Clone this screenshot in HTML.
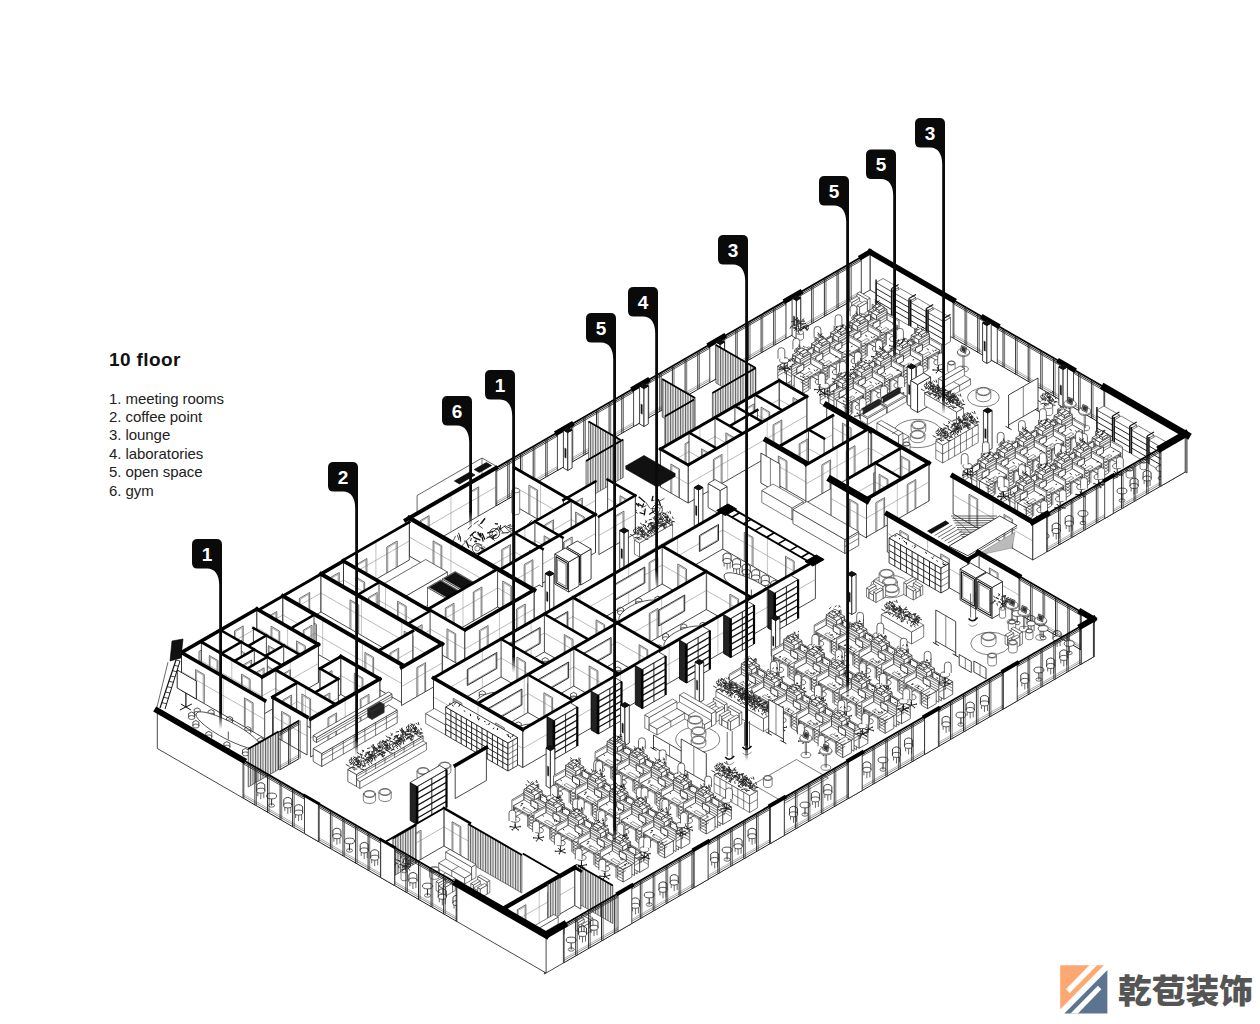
<!DOCTYPE html>
<html><head><meta charset="utf-8"><title>10 floor</title>
<style>
html,body{margin:0;padding:0;background:#fff;}
body{width:1260px;height:1024px;overflow:hidden;position:relative;font-family:"Liberation Sans","Noto Sans CJK SC",sans-serif;}
svg{position:absolute;left:0;top:0;}
.f{stroke:#2a2a2a;stroke-width:.6;fill:#fff}
.ttl{position:absolute;left:109px;top:349px;font-size:19px;font-weight:bold;color:#111;letter-spacing:0.4px;line-height:22px;margin:0;}
.lst{position:absolute;left:109px;top:389.5px;margin:0;padding:0;list-style:none;font-size:15px;line-height:18.4px;color:#222;letter-spacing:-0.06px;}
.lst li{margin:0;padding:0;white-space:nowrap;}
</style></head><body>
<svg width="1260" height="1024" viewBox="0 0 1260 1024">
<defs><g id="dq00"><path d="M0,0L12.1,-7L12.1,-26L0,-19Z" stroke-width="0.7"/><path d="M0.9,-18L11.3,-24M0.9,-4.5L11.3,-10.5M0.9,-8.5L11.3,-14.5M0.9,-12.5L11.3,-18.5" fill="none"/><path d="M0,0L22.5,13L22.5,-8L0,-21Z" stroke-width="0.7"/><path d="M0,-19.5L22.5,-6.5M0,-17L22.5,-4M0,-14.5L22.5,-1.5" fill="none"/><path d="M0.9,-12.5L22.9,0.2L33.8,-6L11.7,-18.8Z" stroke-width="0.7"/><path d="M11.7,-17.6L33.8,-4.8" fill="none"/><path d="M11.7,-16.6L33.8,-3.8" stroke-width="0.4" fill="none"/><path d="M19.1,-4.5L25.1,-1L25.1,11.5L19.1,8Z" stroke-width="0.7"/><path d="M33.8,-6L25.1,-1L25.1,11.5L33.8,6.5Z" stroke-width="0.7"/><path d="M27.7,-9.5L33.8,-6L25.1,-1L19.1,-4.5Z" stroke-width="0.7"/><path d="M27.7,0L33.8,3.5M19.1,5L27.7,0M27.7,-3L33.8,0.5M19.1,2L27.7,-3M27.7,-6L33.8,-2.5M19.1,-1L27.7,-6" fill="none"/><path d="M12.1,-6L12.1,-18" stroke-width="0.8" fill="none"/><path d="M13.2,-5.4L13.2,-17.4M26.4,2.2L26.4,-9.8" fill="none"/><path d="M14.7,-12.3L21.6,-8.3L24.2,-9.8L17.3,-13.8Z" stroke-width="0.5"/><path d="M0.4,-22.8L10.8,-16.8L10.8,-12.2L0.4,-18.2Z" stroke-width="0.7"/><path d="M15.6,-19.5L10.8,-16.8L10.8,-12.2L15.6,-15Z" stroke-width="0.7"/><path d="M5.2,-25.5L15.6,-19.5L10.8,-16.8L0.4,-22.8Z" stroke-width="0.7"/><path d="M5.2,-23.2L15.6,-17.2" fill="none"/><path d="M3,-24.8L8.2,-21.8L8.2,-19.2L3,-22.2Z" stroke-width="0.7"/><path d="M11.3,-23.5L8.2,-21.8L8.2,-19.2L11.3,-21Z" stroke-width="0.7"/><path d="M6.1,-26.5L11.3,-23.5L8.2,-21.8L3,-24.8Z" stroke-width="0.7"/><path d="M13.9,-10L20.8,-6L20.8,-12L13.9,-16Z" stroke="#111" stroke-width="0.8"/><path d="M17.3,-6.5L17.3,-8" stroke-width="0.9" fill="none"/><path d="M13.9,-13.8L13.2,-14M18.4,-7.8L15.9,-7.3M12.4,-12.5L14.9,-13.1M24.9,-7L25.6,-8.5M23.4,-10.6L23.5,-10.3" stroke="#111" stroke-width="0.9" fill="none"/><path d="M9.5,-28.6L10.8,-29.6M5.8,-28.8L7.6,-30.2M10,-24.2L11.1,-23.9M6.7,-24.6L6.5,-24.3M11.6,-28.5L9.8,-30.7" stroke="#111" stroke-width="0.8" fill="none"/><path d="M28.5,-2.9L32.4,-0.8M28.5,-2.9L26.2,-0.1M28.5,-2.9L23.1,-3.3M28.5,-2.9L27.4,-5.9M28.5,-2.9L33.2,-4.4" stroke="#111" stroke-width="0.9" fill="none"/><path d="M32.1,-0.9L32.7,-0.6M26.3,-0.2L26,0.1M23.5,-3.2L22.7,-3.3M27.5,-5.7L27.4,-6.1M32.8,-4.3L33.5,-4.5" stroke="#111" stroke-width="1.6" fill="none"/><path d="M28.5,-2.9L28.5,-9.9" stroke="#111" stroke-width="0.9" fill="none"/><ellipse cx="28.5" cy="-10.9" rx="4.6" ry="2.7" stroke-width="0.7"/><path d="M27.8,-12.5v-8q0,-3 3.4,-3q3.4,0 3.4,3v8" stroke-width=".7"/></g><g id="dq11"><path d="M0,0L-12.1,7L-12.1,-12L0,-19Z" stroke-width="0.7"/><path d="M-0.9,-17L-11.3,-11M-0.9,-3.5L-11.3,2.5M-0.9,-7.5L-11.3,-1.5M-0.9,-11.5L-11.3,-5.5" fill="none"/><path d="M0,0L22.5,13L22.5,-8L0,-21Z" stroke-width="0.7"/><path d="M0,-19.5L22.5,-6.5M0,-17L22.5,-4M0,-14.5L22.5,-1.5" fill="none"/><path d="M0,-12L22.1,0.8L11.3,7L-10.8,-5.8Z" stroke-width="0.7"/><path d="M-10.8,-4.6L11.3,8.2" fill="none"/><path d="M-10.8,-3.6L11.3,9.2" stroke-width="0.4" fill="none"/><path d="M5.2,3.5L11.3,7L11.3,19.5L5.2,16Z" stroke-width="0.7"/><path d="M19.9,2L11.3,7L11.3,19.5L19.9,14.5Z" stroke-width="0.7"/><path d="M13.9,-1.5L19.9,2L11.3,7L5.2,3.5Z" stroke-width="0.7"/><path d="M5.2,13L11.3,16.5M13.9,8L5.2,13M5.2,10L11.3,13.5M13.9,5L5.2,10M5.2,7L11.3,10.5M13.9,2L5.2,7" fill="none"/><path d="M-10.4,7L-10.4,-5" stroke-width="0.8" fill="none"/><path d="M-9.4,7.6L-9.4,-4.4M3.9,15.2L3.9,3.2" fill="none"/><path d="M0.9,-4.3L7.8,-0.3L5.2,1.2L-1.7,-2.8Z" stroke-width="0.5"/><path d="M0,-22.5L10.4,-16.5L10.4,-12L0,-18Z" stroke-width="0.7"/><path d="M15.2,-19.2L10.4,-16.5L10.4,-12L15.2,-14.8Z" stroke-width="0.7"/><path d="M4.8,-25.2L15.2,-19.2L10.4,-16.5L0,-22.5Z" stroke-width="0.7"/><path d="M0,-20.2L10.4,-14.2" fill="none"/><path d="M2.6,-24.5L7.8,-21.5L7.8,-19L2.6,-22Z" stroke-width="0.7"/><path d="M10.8,-23.2L7.8,-21.5L7.8,-19L10.8,-20.8Z" stroke-width="0.7"/><path d="M5.6,-26.2L10.8,-23.2L7.8,-21.5L2.6,-24.5Z" stroke-width="0.7"/><path d="M6.9,-6L13.9,-2L13.9,-8L6.9,-12Z" stroke="#111" stroke-width="0.8"/><path d="M10.4,-2.5L10.4,-4" stroke-width="0.9" fill="none"/><path d="M5.7,-1.7L6.1,-3.1M7.9,2.3L8.7,0.8M5.3,-2.6L4.1,-1.8M16.1,1.6L17.9,1.4M3,-4.3L3.8,-4.9" stroke="#111" stroke-width="0.9" fill="none"/><path d="M9.7,-25.4L7.8,-25.7M12.6,-23.7L13.2,-26.5M2.8,-28.3L5,-30.2M6.5,-24.1L5.5,-25.1M7.2,-28.6L7.6,-28.7" stroke="#111" stroke-width="0.8" fill="none"/><path d="M-7.2,14.5L-2.5,16M-7.2,14.5L-8.2,17.5M-7.2,14.5L-12.6,14.9M-7.2,14.5L-9.6,11.7M-7.2,14.5L-3.3,12.4" stroke="#111" stroke-width="0.9" fill="none"/><path d="M-2.8,15.9L-2.1,16.1M-8.1,17.4L-8.3,17.7M-12.2,14.9L-13,14.9M-9.4,11.9L-9.7,11.5M-3.6,12.5L-3,12.2" stroke="#111" stroke-width="1.6" fill="none"/><path d="M-7.2,14.5L-7.2,7.5" stroke="#111" stroke-width="0.9" fill="none"/><ellipse cx="-7.2" cy="6.5" rx="4.6" ry="2.7" stroke-width="0.7"/><path d="M-13.4,8.1v-8q0,-3 3.4,-3q3.4,0 3.4,3v8" stroke-width=".7"/></g><g id="dq02"><path d="M0,0L12.1,-7L12.1,-26L0,-19Z" stroke-width="0.7"/><path d="M0.9,-18L11.3,-24M0.9,-4.5L11.3,-10.5M0.9,-8.5L11.3,-14.5M0.9,-12.5L11.3,-18.5" fill="none"/><path d="M0,0L22.5,13L22.5,-8L0,-21Z" stroke-width="0.7"/><path d="M0,-19.5L22.5,-6.5M0,-17L22.5,-4M0,-14.5L22.5,-1.5" fill="none"/><path d="M0.9,-12.5L22.9,0.2L33.8,-6L11.7,-18.8Z" stroke-width="0.7"/><path d="M11.7,-17.6L33.8,-4.8" fill="none"/><path d="M11.7,-16.6L33.8,-3.8" stroke-width="0.4" fill="none"/><path d="M19.1,-4.5L25.1,-1L25.1,11.5L19.1,8Z" stroke-width="0.7"/><path d="M33.8,-6L25.1,-1L25.1,11.5L33.8,6.5Z" stroke-width="0.7"/><path d="M27.7,-9.5L33.8,-6L25.1,-1L19.1,-4.5Z" stroke-width="0.7"/><path d="M27.7,0L33.8,3.5M19.1,5L27.7,0M27.7,-3L33.8,0.5M19.1,2L27.7,-3M27.7,-6L33.8,-2.5M19.1,-1L27.7,-6" fill="none"/><path d="M12.1,-6L12.1,-18" stroke-width="0.8" fill="none"/><path d="M13.2,-5.4L13.2,-17.4M26.4,2.2L26.4,-9.8" fill="none"/><path d="M14.7,-12.3L21.6,-8.3L24.2,-9.8L17.3,-13.8Z" stroke-width="0.5"/><path d="M0.4,-22.8L10.8,-16.8L10.8,-12.2L0.4,-18.2Z" stroke-width="0.7"/><path d="M15.6,-19.5L10.8,-16.8L10.8,-12.2L15.6,-15Z" stroke-width="0.7"/><path d="M5.2,-25.5L15.6,-19.5L10.8,-16.8L0.4,-22.8Z" stroke-width="0.7"/><path d="M5.2,-23.2L15.6,-17.2" fill="none"/><path d="M3,-24.8L8.2,-21.8L8.2,-19.2L3,-22.2Z" stroke-width="0.7"/><path d="M11.3,-23.5L8.2,-21.8L8.2,-19.2L11.3,-21Z" stroke-width="0.7"/><path d="M6.1,-26.5L11.3,-23.5L8.2,-21.8L3,-24.8Z" stroke-width="0.7"/><path d="M13.9,-10L20.8,-6L20.8,-12L13.9,-16Z" stroke="#111" stroke-width="0.8"/><path d="M17.3,-6.5L17.3,-8" stroke-width="0.9" fill="none"/><path d="M20.9,-11.6L23.2,-12.7M24.9,-8.5L25.7,-10.2M8.9,-15.5L10.1,-16.8M17.5,-10.1L19.3,-9.3M19.8,-13.6L17.6,-13.1" stroke="#111" stroke-width="0.9" fill="none"/><path d="M11.5,-28.2L12.6,-29.2M12.3,-27.8L12.5,-27.8M9.2,-27.3L7.1,-27M7.5,-23.5L5.7,-23.7M10.9,-23.9L8.5,-25.6" stroke="#111" stroke-width="0.8" fill="none"/><path d="M26.1,-5.2L31,-3.9M26.1,-5.2L25.5,-2.1M26.1,-5.2L20.8,-4.6M26.1,-5.2L23.5,-7.9M26.1,-5.2L29.8,-7.5" stroke="#111" stroke-width="0.9" fill="none"/><path d="M30.7,-4L31.4,-3.8M25.6,-2.3L25.5,-1.9M21.2,-4.6L20.4,-4.5M23.6,-7.7L23.3,-8M29.5,-7.3L30,-7.6" stroke="#111" stroke-width="1.6" fill="none"/><path d="M26.1,-5.2L26.1,-12.2" stroke="#111" stroke-width="0.9" fill="none"/><ellipse cx="26.1" cy="-13.2" rx="4.6" ry="2.7" stroke-width="0.7"/><path d="M25.5,-14.8v-8q0,-3 3.4,-3q3.4,0 3.4,3v8" stroke-width=".7"/></g><g id="dq13"><path d="M0,0L-12.1,7L-12.1,-12L0,-19Z" stroke-width="0.7"/><path d="M-0.9,-17L-11.3,-11M-0.9,-3.5L-11.3,2.5M-0.9,-7.5L-11.3,-1.5M-0.9,-11.5L-11.3,-5.5" fill="none"/><path d="M0,0L22.5,13L22.5,-8L0,-21Z" stroke-width="0.7"/><path d="M0,-19.5L22.5,-6.5M0,-17L22.5,-4M0,-14.5L22.5,-1.5" fill="none"/><path d="M0,-12L22.1,0.8L11.3,7L-10.8,-5.8Z" stroke-width="0.7"/><path d="M-10.8,-4.6L11.3,8.2" fill="none"/><path d="M-10.8,-3.6L11.3,9.2" stroke-width="0.4" fill="none"/><path d="M5.2,3.5L11.3,7L11.3,19.5L5.2,16Z" stroke-width="0.7"/><path d="M19.9,2L11.3,7L11.3,19.5L19.9,14.5Z" stroke-width="0.7"/><path d="M13.9,-1.5L19.9,2L11.3,7L5.2,3.5Z" stroke-width="0.7"/><path d="M5.2,13L11.3,16.5M13.9,8L5.2,13M5.2,10L11.3,13.5M13.9,5L5.2,10M5.2,7L11.3,10.5M13.9,2L5.2,7" fill="none"/><path d="M-10.4,7L-10.4,-5" stroke-width="0.8" fill="none"/><path d="M-9.4,7.6L-9.4,-4.4M3.9,15.2L3.9,3.2" fill="none"/><path d="M0.9,-4.3L7.8,-0.3L5.2,1.2L-1.7,-2.8Z" stroke-width="0.5"/><path d="M0,-22.5L10.4,-16.5L10.4,-12L0,-18Z" stroke-width="0.7"/><path d="M15.2,-19.2L10.4,-16.5L10.4,-12L15.2,-14.8Z" stroke-width="0.7"/><path d="M4.8,-25.2L15.2,-19.2L10.4,-16.5L0,-22.5Z" stroke-width="0.7"/><path d="M0,-20.2L10.4,-14.2" fill="none"/><path d="M2.6,-24.5L7.8,-21.5L7.8,-19L2.6,-22Z" stroke-width="0.7"/><path d="M10.8,-23.2L7.8,-21.5L7.8,-19L10.8,-20.8Z" stroke-width="0.7"/><path d="M5.6,-26.2L10.8,-23.2L7.8,-21.5L2.6,-24.5Z" stroke-width="0.7"/><path d="M6.9,-6L13.9,-2L13.9,-8L6.9,-12Z" stroke="#111" stroke-width="0.8"/><path d="M10.4,-2.5L10.4,-4" stroke-width="0.9" fill="none"/><path d="M5.9,1.3L4.3,2.3M-3,-5L-5,-4.7M-4,-5.4L-2.9,-5.1M0.6,-1.6L3,-3.3M1.4,-0.5L2.6,-1.1" stroke="#111" stroke-width="0.9" fill="none"/><path d="M5.8,-23.8L3.8,-24.1M11.2,-28.1L10.4,-30.1M8.2,-27L10.2,-26.7M6,-24.1L3.8,-26.7M9.4,-24.6L11,-24.1" stroke="#111" stroke-width="0.8" fill="none"/><path d="M-4.9,16L-1.5,18.4M-4.9,16L-7.8,18.6M-4.9,16L-10.1,15.2M-4.9,16L-5.2,12.9M-4.9,16L0.1,14.9" stroke="#111" stroke-width="0.9" fill="none"/><path d="M-1.8,18.2L-1.3,18.5M-7.6,18.4L-8.1,18.7M-9.7,15.2L-10.5,15.1M-5.2,13.1L-5.2,12.7M-0.2,14.9L0.5,14.8" stroke="#111" stroke-width="1.6" fill="none"/><path d="M-4.9,16L-4.9,9" stroke="#111" stroke-width="0.9" fill="none"/><ellipse cx="-4.9" cy="8" rx="4.6" ry="2.7" stroke-width="0.7"/><path d="M-11.1,9.6v-8q0,-3 3.4,-3q3.4,0 3.4,3v8" stroke-width=".7"/></g><g id="dq04"><path d="M0,0L12.1,-7L12.1,-26L0,-19Z" stroke-width="0.7"/><path d="M0.9,-18L11.3,-24M0.9,-4.5L11.3,-10.5M0.9,-8.5L11.3,-14.5M0.9,-12.5L11.3,-18.5" fill="none"/><path d="M0,0L22.5,13L22.5,-8L0,-21Z" stroke-width="0.7"/><path d="M0,-19.5L22.5,-6.5M0,-17L22.5,-4M0,-14.5L22.5,-1.5" fill="none"/><path d="M0.9,-12.5L22.9,0.2L33.8,-6L11.7,-18.8Z" stroke-width="0.7"/><path d="M11.7,-17.6L33.8,-4.8" fill="none"/><path d="M11.7,-16.6L33.8,-3.8" stroke-width="0.4" fill="none"/><path d="M19.1,-4.5L25.1,-1L25.1,11.5L19.1,8Z" stroke-width="0.7"/><path d="M33.8,-6L25.1,-1L25.1,11.5L33.8,6.5Z" stroke-width="0.7"/><path d="M27.7,-9.5L33.8,-6L25.1,-1L19.1,-4.5Z" stroke-width="0.7"/><path d="M27.7,0L33.8,3.5M19.1,5L27.7,0M27.7,-3L33.8,0.5M19.1,2L27.7,-3M27.7,-6L33.8,-2.5M19.1,-1L27.7,-6" fill="none"/><path d="M12.1,-6L12.1,-18" stroke-width="0.8" fill="none"/><path d="M13.2,-5.4L13.2,-17.4M26.4,2.2L26.4,-9.8" fill="none"/><path d="M14.7,-12.3L21.6,-8.3L24.2,-9.8L17.3,-13.8Z" stroke-width="0.5"/><path d="M0.4,-22.8L10.8,-16.8L10.8,-12.2L0.4,-18.2Z" stroke-width="0.7"/><path d="M15.6,-19.5L10.8,-16.8L10.8,-12.2L15.6,-15Z" stroke-width="0.7"/><path d="M5.2,-25.5L15.6,-19.5L10.8,-16.8L0.4,-22.8Z" stroke-width="0.7"/><path d="M5.2,-23.2L15.6,-17.2" fill="none"/><path d="M3,-24.8L8.2,-21.8L8.2,-19.2L3,-22.2Z" stroke-width="0.7"/><path d="M11.3,-23.5L8.2,-21.8L8.2,-19.2L11.3,-21Z" stroke-width="0.7"/><path d="M6.1,-26.5L11.3,-23.5L8.2,-21.8L3,-24.8Z" stroke-width="0.7"/><path d="M13.9,-10L20.8,-6L20.8,-12L13.9,-16Z" stroke="#111" stroke-width="0.8"/><path d="M17.3,-6.5L17.3,-8" stroke-width="0.9" fill="none"/><path d="M7,-14.8L6.4,-14.7M9.4,-13.4L8,-13.1M13.4,-15.5L14.2,-17.1M19,-10.2L18.5,-9.2M8,-13.5L10.2,-14.3" stroke="#111" stroke-width="0.9" fill="none"/><path d="M4.8,-27.2L4.1,-26.8M4.9,-27.8L5.3,-28.9M12.3,-24.4L11.6,-26.7M11.2,-23.6L8.8,-24M11.5,-25.4L10.1,-25.6" stroke="#111" stroke-width="0.8" fill="none"/><path d="M27,-3L30.9,-0.8M27,-3L24.6,-0.2M27,-3L21.7,-3.4M27,-3L26.1,-6M27,-3L31.8,-4.4" stroke="#111" stroke-width="0.9" fill="none"/><path d="M30.6,-1L31.2,-0.7M24.8,-0.4L24.5,0M22.1,-3.4L21.3,-3.4M26.2,-5.8L26,-6.2M31.4,-4.3L32.1,-4.5" stroke="#111" stroke-width="1.6" fill="none"/><path d="M27,-3L27,-10" stroke="#111" stroke-width="0.9" fill="none"/><ellipse cx="27" cy="-11" rx="4.6" ry="2.7" stroke-width="0.7"/><path d="M26.4,-12.6v-8q0,-3 3.4,-3q3.4,0 3.4,3v8" stroke-width=".7"/></g><g id="dq15"><path d="M0,0L-12.1,7L-12.1,-12L0,-19Z" stroke-width="0.7"/><path d="M-0.9,-17L-11.3,-11M-0.9,-3.5L-11.3,2.5M-0.9,-7.5L-11.3,-1.5M-0.9,-11.5L-11.3,-5.5" fill="none"/><path d="M0,0L22.5,13L22.5,-8L0,-21Z" stroke-width="0.7"/><path d="M0,-19.5L22.5,-6.5M0,-17L22.5,-4M0,-14.5L22.5,-1.5" fill="none"/><path d="M0,-12L22.1,0.8L11.3,7L-10.8,-5.8Z" stroke-width="0.7"/><path d="M-10.8,-4.6L11.3,8.2" fill="none"/><path d="M-10.8,-3.6L11.3,9.2" stroke-width="0.4" fill="none"/><path d="M5.2,3.5L11.3,7L11.3,19.5L5.2,16Z" stroke-width="0.7"/><path d="M19.9,2L11.3,7L11.3,19.5L19.9,14.5Z" stroke-width="0.7"/><path d="M13.9,-1.5L19.9,2L11.3,7L5.2,3.5Z" stroke-width="0.7"/><path d="M5.2,13L11.3,16.5M13.9,8L5.2,13M5.2,10L11.3,13.5M13.9,5L5.2,10M5.2,7L11.3,10.5M13.9,2L5.2,7" fill="none"/><path d="M-10.4,7L-10.4,-5" stroke-width="0.8" fill="none"/><path d="M-9.4,7.6L-9.4,-4.4M3.9,15.2L3.9,3.2" fill="none"/><path d="M0.9,-4.3L7.8,-0.3L5.2,1.2L-1.7,-2.8Z" stroke-width="0.5"/><path d="M0,-22.5L10.4,-16.5L10.4,-12L0,-18Z" stroke-width="0.7"/><path d="M15.2,-19.2L10.4,-16.5L10.4,-12L15.2,-14.8Z" stroke-width="0.7"/><path d="M4.8,-25.2L15.2,-19.2L10.4,-16.5L0,-22.5Z" stroke-width="0.7"/><path d="M0,-20.2L10.4,-14.2" fill="none"/><path d="M2.6,-24.5L7.8,-21.5L7.8,-19L2.6,-22Z" stroke-width="0.7"/><path d="M10.8,-23.2L7.8,-21.5L7.8,-19L10.8,-20.8Z" stroke-width="0.7"/><path d="M5.6,-26.2L10.8,-23.2L7.8,-21.5L2.6,-24.5Z" stroke-width="0.7"/><path d="M6.9,-6L13.9,-2L13.9,-8L6.9,-12Z" stroke="#111" stroke-width="0.8"/><path d="M10.4,-2.5L10.4,-4" stroke-width="0.9" fill="none"/><path d="M7,-1L8.1,-2.8M8.4,-0.5L9,-2M2.3,-4.8L1.5,-4.6M0.6,-0.9L1,-2.3M5.9,-0.9L4.1,-1.3" stroke="#111" stroke-width="0.9" fill="none"/><path d="M2.9,-26.9L3.1,-27.5M12.4,-25.6L10,-27M5.3,-24.9L7.3,-27.6M10.5,-27.4L8.9,-28.8M7,-27.4L5.8,-28.9" stroke="#111" stroke-width="0.8" fill="none"/><path d="M-5.2,15.5L-0.4,16.8M-5.2,15.5L-5.9,18.5M-5.2,15.5L-10.5,16M-5.2,15.5L-7.8,12.7M-5.2,15.5L-1.5,13.2" stroke="#111" stroke-width="0.9" fill="none"/><path d="M-0.7,16.7L0,16.9M-5.9,18.3L-6,18.7M-10.1,16L-10.9,16.1M-7.6,12.9L-8,12.6M-1.8,13.4L-1.2,13.1" stroke="#111" stroke-width="1.6" fill="none"/><path d="M-5.2,15.5L-5.2,8.5" stroke="#111" stroke-width="0.9" fill="none"/><ellipse cx="-5.2" cy="7.5" rx="4.6" ry="2.7" stroke-width="0.7"/><path d="M-11.4,9.1v-8q0,-3 3.4,-3q3.4,0 3.4,3v8" stroke-width=".7"/></g><g id="dq06"><path d="M0,0L12.1,-7L12.1,-26L0,-19Z" stroke-width="0.7"/><path d="M0.9,-18L11.3,-24M0.9,-4.5L11.3,-10.5M0.9,-8.5L11.3,-14.5M0.9,-12.5L11.3,-18.5" fill="none"/><path d="M0,0L22.1,12.8L22.1,-8.2L0,-21Z" stroke-width="0.7"/><path d="M0,-19.5L22.1,-6.8M0,-17L22.1,-4.2M0,-14.5L22.1,-1.8" fill="none"/><path d="M0.9,-12.5L22.5,0L33.3,-6.2L11.7,-18.8Z" stroke-width="0.7"/><path d="M11.7,-17.6L33.3,-5.1" fill="none"/><path d="M11.7,-16.6L33.3,-4.1" stroke-width="0.4" fill="none"/><path d="M18.6,-4.8L24.7,-1.2L24.7,11.2L18.6,7.8Z" stroke-width="0.7"/><path d="M33.3,-6.2L24.7,-1.2L24.7,11.2L33.3,6.2Z" stroke-width="0.7"/><path d="M27.3,-9.8L33.3,-6.2L24.7,-1.2L18.6,-4.8Z" stroke-width="0.7"/><path d="M27.3,-0.2L33.3,3.2M18.6,4.8L27.3,-0.2M27.3,-3.2L33.3,0.2M18.6,1.8L27.3,-3.2M27.3,-6.2L33.3,-2.8M18.6,-1.2L27.3,-6.2" fill="none"/><path d="M12.1,-6L12.1,-18" stroke-width="0.8" fill="none"/><path d="M13.2,-5.4L13.2,-17.4M26,2L26,-10" fill="none"/><path d="M14.7,-12.3L21.6,-8.3L24.2,-9.8L17.3,-13.8Z" stroke-width="0.5"/><path d="M0.4,-22.8L10.8,-16.8L10.8,-12.2L0.4,-18.2Z" stroke-width="0.7"/><path d="M15.6,-19.5L10.8,-16.8L10.8,-12.2L15.6,-15Z" stroke-width="0.7"/><path d="M5.2,-25.5L15.6,-19.5L10.8,-16.8L0.4,-22.8Z" stroke-width="0.7"/><path d="M5.2,-23.2L15.6,-17.2" fill="none"/><path d="M3,-24.8L8.2,-21.8L8.2,-19.2L3,-22.2Z" stroke-width="0.7"/><path d="M11.3,-23.5L8.2,-21.8L8.2,-19.2L11.3,-21Z" stroke-width="0.7"/><path d="M6.1,-26.5L11.3,-23.5L8.2,-21.8L3,-24.8Z" stroke-width="0.7"/><path d="M13.9,-10L20.8,-6L20.8,-12L13.9,-16Z" stroke="#111" stroke-width="0.8"/><path d="M17.3,-6.5L17.3,-8" stroke-width="0.9" fill="none"/><path d="M14.1,-13.3L12,-14.3M7.5,-13.8L6.4,-15.4M16.4,-13.8L14,-13.9M13.4,-15.8L14.6,-17.2M26.2,-7.9L24.1,-8.7" stroke="#111" stroke-width="0.9" fill="none"/><path d="M9.8,-23.9L8.2,-26M10.5,-23.7L8.5,-26.4M10.3,-27.3L9.7,-27.2M10.3,-25.4L12.1,-25.8M10.9,-25.5L11.4,-28.3" stroke="#111" stroke-width="0.8" fill="none"/><path d="M29.3,-3.8L34.2,-2.5M29.3,-3.8L28.7,-0.7M29.3,-3.8L24,-3.2M29.3,-3.8L26.6,-6.5M29.3,-3.8L32.9,-6.1" stroke="#111" stroke-width="0.9" fill="none"/><path d="M33.9,-2.6L34.6,-2.5M28.8,-0.9L28.7,-0.5M24.4,-3.2L23.6,-3.1M26.8,-6.3L26.4,-6.7M32.7,-6L33.2,-6.3" stroke="#111" stroke-width="1.6" fill="none"/><path d="M29.3,-3.8L29.3,-10.8" stroke="#111" stroke-width="0.9" fill="none"/><ellipse cx="29.3" cy="-11.8" rx="4.6" ry="2.7" stroke-width="0.7"/><path d="M28.7,-13.4v-8q0,-3 3.4,-3q3.4,0 3.4,3v8" stroke-width=".7"/></g><g id="dq17"><path d="M0,0L-12.1,7L-12.1,-12L0,-19Z" stroke-width="0.7"/><path d="M-0.9,-17L-11.3,-11M-0.9,-3.5L-11.3,2.5M-0.9,-7.5L-11.3,-1.5M-0.9,-11.5L-11.3,-5.5" fill="none"/><path d="M0,0L22.1,12.8L22.1,-8.2L0,-21Z" stroke-width="0.7"/><path d="M0,-19.5L22.1,-6.8M0,-17L22.1,-4.2M0,-14.5L22.1,-1.8" fill="none"/><path d="M0,-12L21.6,0.5L10.8,6.8L-10.8,-5.8Z" stroke-width="0.7"/><path d="M-10.8,-4.6L10.8,7.9" fill="none"/><path d="M-10.8,-3.6L10.8,8.9" stroke-width="0.4" fill="none"/><path d="M4.8,3.2L10.8,6.8L10.8,19.2L4.8,15.8Z" stroke-width="0.7"/><path d="M19.5,1.8L10.8,6.8L10.8,19.2L19.5,14.2Z" stroke-width="0.7"/><path d="M13.4,-1.8L19.5,1.8L10.8,6.8L4.8,3.2Z" stroke-width="0.7"/><path d="M4.8,12.8L10.8,16.2M13.4,7.8L4.8,12.8M4.8,9.8L10.8,13.2M13.4,4.8L4.8,9.8M4.8,6.8L10.8,10.2M13.4,1.8L4.8,6.8" fill="none"/><path d="M-10.4,7L-10.4,-5" stroke-width="0.8" fill="none"/><path d="M-9.4,7.6L-9.4,-4.4M3.5,15L3.5,3" fill="none"/><path d="M0.9,-4.3L7.8,-0.3L5.2,1.2L-1.7,-2.8Z" stroke-width="0.5"/><path d="M0,-22.5L10.4,-16.5L10.4,-12L0,-18Z" stroke-width="0.7"/><path d="M15.2,-19.2L10.4,-16.5L10.4,-12L15.2,-14.8Z" stroke-width="0.7"/><path d="M4.8,-25.2L15.2,-19.2L10.4,-16.5L0,-22.5Z" stroke-width="0.7"/><path d="M0,-20.2L10.4,-14.2" fill="none"/><path d="M2.6,-24.5L7.8,-21.5L7.8,-19L2.6,-22Z" stroke-width="0.7"/><path d="M10.8,-23.2L7.8,-21.5L7.8,-19L10.8,-20.8Z" stroke-width="0.7"/><path d="M5.6,-26.2L10.8,-23.2L7.8,-21.5L2.6,-24.5Z" stroke-width="0.7"/><path d="M6.9,-6L13.9,-2L13.9,-8L6.9,-12Z" stroke="#111" stroke-width="0.8"/><path d="M10.4,-2.5L10.4,-4" stroke-width="0.9" fill="none"/><path d="M15.3,1.2L16.4,0.7M12.5,2L14.6,0.5M13.4,2.6L11.8,1.7M8.9,-2.6L8.4,-4.6M-2.3,-8.2L-3.7,-9.3" stroke="#111" stroke-width="0.9" fill="none"/><path d="M10.6,-26.7L12.4,-26.6M11.7,-23.8L12.1,-24.4M11.6,-26L9.8,-27.2M8.1,-28L6.1,-30.4M9.8,-24.5L10.6,-26" stroke="#111" stroke-width="0.8" fill="none"/><path d="M-7.3,13.8L-3.5,16M-7.3,13.8L-9.7,16.6M-7.3,13.8L-12.6,13.3M-7.3,13.8L-8.1,10.7M-7.3,13.8L-2.5,12.4" stroke="#111" stroke-width="0.9" fill="none"/><path d="M-3.8,15.9L-3.2,16.1M-9.6,16.4L-9.9,16.7M-12.2,13.3L-13,13.3M-8.1,10.9L-8.2,10.5M-2.8,12.5L-2.1,12.3" stroke="#111" stroke-width="1.6" fill="none"/><path d="M-7.3,13.8L-7.3,6.8" stroke="#111" stroke-width="0.9" fill="none"/><ellipse cx="-7.3" cy="5.8" rx="4.6" ry="2.7" stroke-width="0.7"/><path d="M-13.5,7.4v-8q0,-3 3.4,-3q3.4,0 3.4,3v8" stroke-width=".7"/></g><g id="dq08"><path d="M0,0L12.1,-7L12.1,-26L0,-19Z" stroke-width="0.7"/><path d="M0.9,-18L11.3,-24M0.9,-4.5L11.3,-10.5M0.9,-8.5L11.3,-14.5M0.9,-12.5L11.3,-18.5" fill="none"/><path d="M0,0L22.1,12.8L22.1,-8.2L0,-21Z" stroke-width="0.7"/><path d="M0,-19.5L22.1,-6.8M0,-17L22.1,-4.2M0,-14.5L22.1,-1.8" fill="none"/><path d="M0.9,-12.5L22.5,0L33.3,-6.2L11.7,-18.8Z" stroke-width="0.7"/><path d="M11.7,-17.6L33.3,-5.1" fill="none"/><path d="M11.7,-16.6L33.3,-4.1" stroke-width="0.4" fill="none"/><path d="M18.6,-4.8L24.7,-1.2L24.7,11.2L18.6,7.8Z" stroke-width="0.7"/><path d="M33.3,-6.2L24.7,-1.2L24.7,11.2L33.3,6.2Z" stroke-width="0.7"/><path d="M27.3,-9.8L33.3,-6.2L24.7,-1.2L18.6,-4.8Z" stroke-width="0.7"/><path d="M27.3,-0.2L33.3,3.2M18.6,4.8L27.3,-0.2M27.3,-3.2L33.3,0.2M18.6,1.8L27.3,-3.2M27.3,-6.2L33.3,-2.8M18.6,-1.2L27.3,-6.2" fill="none"/><path d="M12.1,-6L12.1,-18" stroke-width="0.8" fill="none"/><path d="M13.2,-5.4L13.2,-17.4M26,2L26,-10" fill="none"/><path d="M14.7,-12.3L21.6,-8.3L24.2,-9.8L17.3,-13.8Z" stroke-width="0.5"/><path d="M0.4,-22.8L10.8,-16.8L10.8,-12.2L0.4,-18.2Z" stroke-width="0.7"/><path d="M15.6,-19.5L10.8,-16.8L10.8,-12.2L15.6,-15Z" stroke-width="0.7"/><path d="M5.2,-25.5L15.6,-19.5L10.8,-16.8L0.4,-22.8Z" stroke-width="0.7"/><path d="M5.2,-23.2L15.6,-17.2" fill="none"/><path d="M3,-24.8L8.2,-21.8L8.2,-19.2L3,-22.2Z" stroke-width="0.7"/><path d="M11.3,-23.5L8.2,-21.8L8.2,-19.2L11.3,-21Z" stroke-width="0.7"/><path d="M6.1,-26.5L11.3,-23.5L8.2,-21.8L3,-24.8Z" stroke-width="0.7"/><path d="M13.9,-10L20.8,-6L20.8,-12L13.9,-16Z" stroke="#111" stroke-width="0.8"/><path d="M17.3,-6.5L17.3,-8" stroke-width="0.9" fill="none"/><path d="M15.9,-15.4L18.1,-17.3M26.2,-7.9L27.1,-9.9M23.8,-6.9L25.3,-7.3M24.7,-8.9L23.8,-8.9M29.5,-7.2L31.6,-8.9" stroke="#111" stroke-width="0.9" fill="none"/><path d="M9.2,-24.3L8.2,-27.2M10.3,-25.9L12.6,-28M3.7,-25.8L5.4,-26.5M3.9,-27.1L2,-28.7M10.6,-26.5L10.8,-28.7" stroke="#111" stroke-width="0.8" fill="none"/><path d="M28.2,-4.7L32.9,-3.3M28.2,-4.7L27.3,-1.7M28.2,-4.7L22.8,-4.3M28.2,-4.7L25.7,-7.5M28.2,-4.7L32,-6.9" stroke="#111" stroke-width="0.9" fill="none"/><path d="M32.6,-3.4L33.3,-3.2M27.3,-1.9L27.2,-1.5M23.2,-4.3L22.4,-4.2M25.9,-7.3L25.6,-7.7M31.7,-6.7L32.3,-7" stroke="#111" stroke-width="1.6" fill="none"/><path d="M28.2,-4.7L28.2,-11.7" stroke="#111" stroke-width="0.9" fill="none"/><ellipse cx="28.2" cy="-12.7" rx="4.6" ry="2.7" stroke-width="0.7"/><path d="M27.5,-14.3v-8q0,-3 3.4,-3q3.4,0 3.4,3v8" stroke-width=".7"/></g><g id="dq19"><path d="M0,0L-12.1,7L-12.1,-12L0,-19Z" stroke-width="0.7"/><path d="M-0.9,-17L-11.3,-11M-0.9,-3.5L-11.3,2.5M-0.9,-7.5L-11.3,-1.5M-0.9,-11.5L-11.3,-5.5" fill="none"/><path d="M0,0L22.1,12.8L22.1,-8.2L0,-21Z" stroke-width="0.7"/><path d="M0,-19.5L22.1,-6.8M0,-17L22.1,-4.2M0,-14.5L22.1,-1.8" fill="none"/><path d="M0,-12L21.6,0.5L10.8,6.8L-10.8,-5.8Z" stroke-width="0.7"/><path d="M-10.8,-4.6L10.8,7.9" fill="none"/><path d="M-10.8,-3.6L10.8,8.9" stroke-width="0.4" fill="none"/><path d="M4.8,3.2L10.8,6.8L10.8,19.2L4.8,15.8Z" stroke-width="0.7"/><path d="M19.5,1.8L10.8,6.8L10.8,19.2L19.5,14.2Z" stroke-width="0.7"/><path d="M13.4,-1.8L19.5,1.8L10.8,6.8L4.8,3.2Z" stroke-width="0.7"/><path d="M4.8,12.8L10.8,16.2M13.4,7.8L4.8,12.8M4.8,9.8L10.8,13.2M13.4,4.8L4.8,9.8M4.8,6.8L10.8,10.2M13.4,1.8L4.8,6.8" fill="none"/><path d="M-10.4,7L-10.4,-5" stroke-width="0.8" fill="none"/><path d="M-9.4,7.6L-9.4,-4.4M3.5,15L3.5,3" fill="none"/><path d="M0.9,-4.3L7.8,-0.3L5.2,1.2L-1.7,-2.8Z" stroke-width="0.5"/><path d="M0,-22.5L10.4,-16.5L10.4,-12L0,-18Z" stroke-width="0.7"/><path d="M15.2,-19.2L10.4,-16.5L10.4,-12L15.2,-14.8Z" stroke-width="0.7"/><path d="M4.8,-25.2L15.2,-19.2L10.4,-16.5L0,-22.5Z" stroke-width="0.7"/><path d="M0,-20.2L10.4,-14.2" fill="none"/><path d="M2.6,-24.5L7.8,-21.5L7.8,-19L2.6,-22Z" stroke-width="0.7"/><path d="M10.8,-23.2L7.8,-21.5L7.8,-19L10.8,-20.8Z" stroke-width="0.7"/><path d="M5.6,-26.2L10.8,-23.2L7.8,-21.5L2.6,-24.5Z" stroke-width="0.7"/><path d="M6.9,-6L13.9,-2L13.9,-8L6.9,-12Z" stroke="#111" stroke-width="0.8"/><path d="M10.4,-2.5L10.4,-4" stroke-width="0.9" fill="none"/><path d="M-3.9,-7.2L-5.2,-7.9M-3.1,-3.7L-2.8,-3.5M11.7,2.2L11.5,0.6M11.6,-0.8L10.9,-2.3M8.2,-0.1L8.2,-0.5" stroke="#111" stroke-width="0.9" fill="none"/><path d="M11.2,-23.6L10.6,-23.5M9.9,-25.2L12.3,-27.4M6,-26.3L5,-28.3M4.8,-23.9L7.1,-23.9M10.7,-26.8L9.8,-28.4" stroke="#111" stroke-width="0.8" fill="none"/><path d="M-7.6,13.9L-3.1,15.6M-7.6,13.9L-9,16.9M-7.6,13.9L-13,14.1M-7.6,13.9L-9.6,11.1M-7.6,13.9L-3.5,12" stroke="#111" stroke-width="0.9" fill="none"/><path d="M-3.4,15.5L-2.7,15.7M-8.9,16.8L-9.1,17.1M-12.6,14.1L-13.4,14.1M-9.5,11.2L-9.7,10.9M-3.8,12.1L-3.1,11.9" stroke="#111" stroke-width="1.6" fill="none"/><path d="M-7.6,13.9L-7.6,6.9" stroke="#111" stroke-width="0.9" fill="none"/><ellipse cx="-7.6" cy="5.9" rx="4.6" ry="2.7" stroke-width="0.7"/><path d="M-13.8,7.5v-8q0,-3 3.4,-3q3.4,0 3.4,3v8" stroke-width=".7"/></g><g id="dq010"><path d="M0,0L12.1,-7L12.1,-26L0,-19Z" stroke-width="0.7"/><path d="M0.9,-18L11.3,-24M0.9,-4.5L11.3,-10.5M0.9,-8.5L11.3,-14.5M0.9,-12.5L11.3,-18.5" fill="none"/><path d="M0,0L22.1,12.8L22.1,-8.2L0,-21Z" stroke-width="0.7"/><path d="M0,-19.5L22.1,-6.8M0,-17L22.1,-4.2M0,-14.5L22.1,-1.8" fill="none"/><path d="M0.9,-12.5L22.5,0L33.3,-6.2L11.7,-18.8Z" stroke-width="0.7"/><path d="M11.7,-17.6L33.3,-5.1" fill="none"/><path d="M11.7,-16.6L33.3,-4.1" stroke-width="0.4" fill="none"/><path d="M18.6,-4.8L24.7,-1.2L24.7,11.2L18.6,7.8Z" stroke-width="0.7"/><path d="M33.3,-6.2L24.7,-1.2L24.7,11.2L33.3,6.2Z" stroke-width="0.7"/><path d="M27.3,-9.8L33.3,-6.2L24.7,-1.2L18.6,-4.8Z" stroke-width="0.7"/><path d="M27.3,-0.2L33.3,3.2M18.6,4.8L27.3,-0.2M27.3,-3.2L33.3,0.2M18.6,1.8L27.3,-3.2M27.3,-6.2L33.3,-2.8M18.6,-1.2L27.3,-6.2" fill="none"/><path d="M12.1,-6L12.1,-18" stroke-width="0.8" fill="none"/><path d="M13.2,-5.4L13.2,-17.4M26,2L26,-10" fill="none"/><path d="M14.7,-12.3L21.6,-8.3L24.2,-9.8L17.3,-13.8Z" stroke-width="0.5"/><path d="M0.4,-22.8L10.8,-16.8L10.8,-12.2L0.4,-18.2Z" stroke-width="0.7"/><path d="M15.6,-19.5L10.8,-16.8L10.8,-12.2L15.6,-15Z" stroke-width="0.7"/><path d="M5.2,-25.5L15.6,-19.5L10.8,-16.8L0.4,-22.8Z" stroke-width="0.7"/><path d="M5.2,-23.2L15.6,-17.2" fill="none"/><path d="M3,-24.8L8.2,-21.8L8.2,-19.2L3,-22.2Z" stroke-width="0.7"/><path d="M11.3,-23.5L8.2,-21.8L8.2,-19.2L11.3,-21Z" stroke-width="0.7"/><path d="M6.1,-26.5L11.3,-23.5L8.2,-21.8L3,-24.8Z" stroke-width="0.7"/><path d="M13.9,-10L20.8,-6L20.8,-12L13.9,-16Z" stroke="#111" stroke-width="0.8"/><path d="M17.3,-6.5L17.3,-8" stroke-width="0.9" fill="none"/><path d="M14.3,-13.2L14.6,-13.9M19.9,-9.9L20,-11.3M9.7,-14.2L11.1,-16.1M15.2,-12.2L15.4,-12.9M27.7,-8.6L28,-10" stroke="#111" stroke-width="0.9" fill="none"/><path d="M11.5,-24.3L11.4,-24.5M11.6,-23.8L10.3,-26M10.8,-27.5L9.7,-30.3M10.4,-27.7L8.8,-28.6M3.6,-24.7L1.5,-24.3" stroke="#111" stroke-width="0.8" fill="none"/><path d="M24.6,-4.2L29.2,-2.6M24.6,-4.2L23.3,-1.2M24.6,-4.2L19.2,-4M24.6,-4.2L22.6,-7.1M24.6,-4.2L28.7,-6.2" stroke="#111" stroke-width="0.9" fill="none"/><path d="M28.9,-2.7L29.6,-2.5M23.4,-1.4L23.2,-1M19.6,-4L18.8,-4M22.7,-6.9L22.4,-7.3M28.4,-6.1L29,-6.3" stroke="#111" stroke-width="1.6" fill="none"/><path d="M24.6,-4.2L24.6,-11.2" stroke="#111" stroke-width="0.9" fill="none"/><ellipse cx="24.6" cy="-12.2" rx="4.6" ry="2.7" stroke-width="0.7"/><path d="M24,-13.8v-8q0,-3 3.4,-3q3.4,0 3.4,3v8" stroke-width=".7"/></g><g id="dq111"><path d="M0,0L-12.1,7L-12.1,-12L0,-19Z" stroke-width="0.7"/><path d="M-0.9,-17L-11.3,-11M-0.9,-3.5L-11.3,2.5M-0.9,-7.5L-11.3,-1.5M-0.9,-11.5L-11.3,-5.5" fill="none"/><path d="M0,0L22.1,12.8L22.1,-8.2L0,-21Z" stroke-width="0.7"/><path d="M0,-19.5L22.1,-6.8M0,-17L22.1,-4.2M0,-14.5L22.1,-1.8" fill="none"/><path d="M0,-12L21.6,0.5L10.8,6.8L-10.8,-5.8Z" stroke-width="0.7"/><path d="M-10.8,-4.6L10.8,7.9" fill="none"/><path d="M-10.8,-3.6L10.8,8.9" stroke-width="0.4" fill="none"/><path d="M4.8,3.2L10.8,6.8L10.8,19.2L4.8,15.8Z" stroke-width="0.7"/><path d="M19.5,1.8L10.8,6.8L10.8,19.2L19.5,14.2Z" stroke-width="0.7"/><path d="M13.4,-1.8L19.5,1.8L10.8,6.8L4.8,3.2Z" stroke-width="0.7"/><path d="M4.8,12.8L10.8,16.2M13.4,7.8L4.8,12.8M4.8,9.8L10.8,13.2M13.4,4.8L4.8,9.8M4.8,6.8L10.8,10.2M13.4,1.8L4.8,6.8" fill="none"/><path d="M-10.4,7L-10.4,-5" stroke-width="0.8" fill="none"/><path d="M-9.4,7.6L-9.4,-4.4M3.5,15L3.5,3" fill="none"/><path d="M0.9,-4.3L7.8,-0.3L5.2,1.2L-1.7,-2.8Z" stroke-width="0.5"/><path d="M0,-22.5L10.4,-16.5L10.4,-12L0,-18Z" stroke-width="0.7"/><path d="M15.2,-19.2L10.4,-16.5L10.4,-12L15.2,-14.8Z" stroke-width="0.7"/><path d="M4.8,-25.2L15.2,-19.2L10.4,-16.5L0,-22.5Z" stroke-width="0.7"/><path d="M0,-20.2L10.4,-14.2" fill="none"/><path d="M2.6,-24.5L7.8,-21.5L7.8,-19L2.6,-22Z" stroke-width="0.7"/><path d="M10.8,-23.2L7.8,-21.5L7.8,-19L10.8,-20.8Z" stroke-width="0.7"/><path d="M5.6,-26.2L10.8,-23.2L7.8,-21.5L2.6,-24.5Z" stroke-width="0.7"/><path d="M6.9,-6L13.9,-2L13.9,-8L6.9,-12Z" stroke="#111" stroke-width="0.8"/><path d="M10.4,-2.5L10.4,-4" stroke-width="0.9" fill="none"/><path d="M-0.8,-4.7L0.2,-3.8M1,-3.7L0.4,-4M7.1,3L9.2,3.8M-3,-8.1L-0.8,-8.4M-3.7,-5.8L-1.5,-7.1" stroke="#111" stroke-width="0.9" fill="none"/><path d="M6.3,-28L8.7,-30.3M5.4,-28.6L3.4,-31.5M2.8,-26.1L1.8,-27.8M8.6,-27.3L9.8,-29.4M7.8,-27L9,-28.4" stroke="#111" stroke-width="0.8" fill="none"/><path d="M-8.8,15.7L-5.6,18.2M-8.8,15.7L-12,18.2M-8.8,15.7L-14,14.7M-8.8,15.7L-8.9,12.6M-8.8,15.7L-3.7,14.7" stroke="#111" stroke-width="0.9" fill="none"/><path d="M-5.9,18L-5.4,18.3M-11.8,18L-12.2,18.4M-13.6,14.8L-14.4,14.7M-8.9,12.8L-8.9,12.4M-4.1,14.8L-3.3,14.7" stroke="#111" stroke-width="1.6" fill="none"/><path d="M-8.8,15.7L-8.8,8.7" stroke="#111" stroke-width="0.9" fill="none"/><ellipse cx="-8.8" cy="7.7" rx="4.6" ry="2.7" stroke-width="0.7"/><path d="M-15,9.3v-8q0,-3 3.4,-3q3.4,0 3.4,3v8" stroke-width=".7"/></g><g id="dp012"><path d="M0,0L-12.1,-7L-12.1,-26L0,-19Z" stroke-width="0.7"/><path d="M-0.9,-18L-11.3,-24M-0.9,-4.5L-11.3,-10.5M-0.9,-8.5L-11.3,-14.5M-0.9,-12.5L-11.3,-18.5" fill="none"/><path d="M0,0L-19.1,11L-19.1,-10L0,-21Z" stroke-width="0.7"/><path d="M0,-19.5L-19.1,-8.5M0,-17L-19.1,-6M0,-14.5L-19.1,-3.5" fill="none"/><path d="M-0.9,-12.5L-19.5,-1.8L-30.3,-8L-11.7,-18.8Z" stroke-width="0.7"/><path d="M-11.7,-17.6L-30.3,-6.8" fill="none"/><path d="M-11.7,-16.6L-30.3,-5.8" stroke-width="0.4" fill="none"/><path d="M-30.3,-8L-21.6,-3L-21.6,9.5L-30.3,4.5Z" stroke-width="0.7"/><path d="M-15.6,-6.5L-21.6,-3L-21.6,9.5L-15.6,6Z" stroke-width="0.7"/><path d="M-24.2,-11.5L-15.6,-6.5L-21.6,-3L-30.3,-8Z" stroke-width="0.7"/><path d="M-24.2,-2L-30.3,1.5M-15.6,3L-24.2,-2M-24.2,-5L-30.3,-1.5M-15.6,0L-24.2,-5M-24.2,-8L-30.3,-4.5M-15.6,-3L-24.2,-8" fill="none"/><path d="M-12.1,-6L-12.1,-18" stroke-width="0.8" fill="none"/><path d="M-13.2,-5.4L-13.2,-17.4M-22.9,0.2L-22.9,-11.8" fill="none"/><path d="M-14.7,-12.3L-21.6,-8.3L-24.2,-9.8L-17.3,-13.8Z" stroke-width="0.5"/><path d="M-15.6,-19.5L-10.8,-16.8L-10.8,-12.2L-15.6,-15Z" stroke-width="0.7"/><path d="M-0.4,-22.8L-10.8,-16.8L-10.8,-12.2L-0.4,-18.2Z" stroke-width="0.7"/><path d="M-5.2,-25.5L-0.4,-22.8L-10.8,-16.8L-15.6,-19.5Z" stroke-width="0.7"/><path d="M-5.2,-23.2L-15.6,-17.2" fill="none"/><path d="M-11.3,-23.5L-8.2,-21.8L-8.2,-19.2L-11.3,-21Z" stroke-width="0.7"/><path d="M-3,-24.8L-8.2,-21.8L-8.2,-19.2L-3,-22.2Z" stroke-width="0.7"/><path d="M-6.1,-26.5L-3,-24.8L-8.2,-21.8L-11.3,-23.5Z" stroke-width="0.7"/><path d="M-13.9,-10L-20.8,-6L-20.8,-12L-13.9,-16Z" stroke="#111" stroke-width="0.8"/><path d="M-17.3,-6.5L-17.3,-8" stroke-width="0.9" fill="none"/><path d="M-9.5,-13.8L-7.8,-14.2M-12.5,-13.1L-12.3,-14.2M-17.9,-8.5L-18.6,-9.7M-22.9,-10.6L-22.8,-10M-11.2,-16.2L-12.5,-17.7" stroke="#111" stroke-width="0.9" fill="none"/><path d="M-7.2,-28.6L-9.6,-30.6M-6.8,-25.4L-5.3,-27.3M-6.3,-23.6L-4,-25.9M-9.3,-27.9L-8.8,-29.2M-7,-27.4L-4.9,-30" stroke="#111" stroke-width="0.8" fill="none"/><path d="M-28,-4.3L-24.7,-1.9M-28,-4.3L-31,-1.7M-28,-4.3L-33.2,-5.2M-28,-4.3L-28.2,-7.4M-28,-4.3L-23,-5.4" stroke="#111" stroke-width="0.9" fill="none"/><path d="M-24.9,-2L-24.4,-1.7M-30.8,-1.9L-31.3,-1.6M-32.8,-5.1L-33.6,-5.2M-28.2,-7.2L-28.3,-7.6M-23.3,-5.3L-22.6,-5.5" stroke="#111" stroke-width="1.6" fill="none"/><path d="M-28,-4.3L-28,-11.3" stroke="#111" stroke-width="0.9" fill="none"/><ellipse cx="-28" cy="-12.3" rx="4.6" ry="2.7" stroke-width="0.7"/><path d="M-34.2,-13.9v-8q0,-3 3.4,-3q3.4,0 3.4,3v8" stroke-width=".7"/></g><g id="dp113"><path d="M0,0L12.1,7L12.1,-12L0,-19Z" stroke-width="0.7"/><path d="M0.9,-17L11.3,-11M0.9,-3.5L11.3,2.5M0.9,-7.5L11.3,-1.5M0.9,-11.5L11.3,-5.5" fill="none"/><path d="M0,0L-19.1,11L-19.1,-10L0,-21Z" stroke-width="0.7"/><path d="M0,-19.5L-19.1,-8.5M0,-17L-19.1,-6M0,-14.5L-19.1,-3.5" fill="none"/><path d="M0,-12L-18.6,-1.2L-7.8,5L10.8,-5.8Z" stroke-width="0.7"/><path d="M10.8,-4.6L-7.8,6.2" fill="none"/><path d="M10.8,-3.6L-7.8,7.2" stroke-width="0.4" fill="none"/><path d="M-16.5,0L-7.8,5L-7.8,17.5L-16.5,12.5Z" stroke-width="0.7"/><path d="M-1.7,1.5L-7.8,5L-7.8,17.5L-1.7,14Z" stroke-width="0.7"/><path d="M-10.4,-3.5L-1.7,1.5L-7.8,5L-16.5,0Z" stroke-width="0.7"/><path d="M-1.7,11L-7.8,14.5M-10.4,6L-1.7,11M-1.7,8L-7.8,11.5M-10.4,3L-1.7,8M-1.7,5L-7.8,8.5M-10.4,0L-1.7,5" fill="none"/><path d="M10.4,7L10.4,-5" stroke-width="0.8" fill="none"/><path d="M9.4,7.6L9.4,-4.4M-0.4,13.2L-0.4,1.2" fill="none"/><path d="M-0.9,-4.3L-7.8,-0.3L-5.2,1.2L1.7,-2.8Z" stroke-width="0.5"/><path d="M-15.2,-19.2L-10.4,-16.5L-10.4,-12L-15.2,-14.8Z" stroke-width="0.7"/><path d="M0,-22.5L-10.4,-16.5L-10.4,-12L0,-18Z" stroke-width="0.7"/><path d="M-4.8,-25.2L0,-22.5L-10.4,-16.5L-15.2,-19.2Z" stroke-width="0.7"/><path d="M0,-20.2L-10.4,-14.2" fill="none"/><path d="M-10.8,-23.2L-7.8,-21.5L-7.8,-19L-10.8,-20.8Z" stroke-width="0.7"/><path d="M-2.6,-24.5L-7.8,-21.5L-7.8,-19L-2.6,-22Z" stroke-width="0.7"/><path d="M-5.6,-26.2L-2.6,-24.5L-7.8,-21.5L-10.8,-23.2Z" stroke-width="0.7"/><path d="M-6.9,-6L-13.9,-2L-13.9,-8L-6.9,-12Z" stroke="#111" stroke-width="0.8"/><path d="M-10.4,-2.5L-10.4,-4" stroke-width="0.9" fill="none"/><path d="M-5.2,-4.1L-6.3,-4.9M5.4,-7.6L7.6,-8.3M-4.6,1.4L-7,-0.6M1.6,-2.2L1.4,-1.8M-7.6,-3.3L-7.8,-3.4" stroke="#111" stroke-width="0.9" fill="none"/><path d="M-11.2,-28.3L-10.4,-30.2M-5.9,-27.5L-8,-29.2M-4.9,-27.1L-4.7,-27.4M-10,-24.2L-12.3,-25.7M-10.4,-28.1L-8.4,-30.5" stroke="#111" stroke-width="0.8" fill="none"/><path d="M7.3,15.2L9.6,18M7.3,15.2L3.3,17.3M7.3,15.2L2.5,13.7M7.3,15.2L8.3,12.2M7.3,15.2L12.6,14.8" stroke="#111" stroke-width="0.9" fill="none"/><path d="M9.4,17.8L9.7,18.2M3.6,17.2L3,17.5M2.9,13.8L2.2,13.6M8.2,12.4L8.4,12M12.2,14.9L13,14.8" stroke="#111" stroke-width="1.6" fill="none"/><path d="M7.3,15.2L7.3,8.2" stroke="#111" stroke-width="0.9" fill="none"/><ellipse cx="7.3" cy="7.2" rx="4.6" ry="2.7" stroke-width="0.7"/><path d="M6.6,8.8v-8q0,-3 3.4,-3q3.4,0 3.4,3v8" stroke-width=".7"/></g><g id="dp014"><path d="M0,0L-12.1,-7L-12.1,-26L0,-19Z" stroke-width="0.7"/><path d="M-0.9,-18L-11.3,-24M-0.9,-4.5L-11.3,-10.5M-0.9,-8.5L-11.3,-14.5M-0.9,-12.5L-11.3,-18.5" fill="none"/><path d="M0,0L-19.1,11L-19.1,-10L0,-21Z" stroke-width="0.7"/><path d="M0,-19.5L-19.1,-8.5M0,-17L-19.1,-6M0,-14.5L-19.1,-3.5" fill="none"/><path d="M-0.9,-12.5L-19.5,-1.8L-30.3,-8L-11.7,-18.8Z" stroke-width="0.7"/><path d="M-11.7,-17.6L-30.3,-6.8" fill="none"/><path d="M-11.7,-16.6L-30.3,-5.8" stroke-width="0.4" fill="none"/><path d="M-30.3,-8L-21.6,-3L-21.6,9.5L-30.3,4.5Z" stroke-width="0.7"/><path d="M-15.6,-6.5L-21.6,-3L-21.6,9.5L-15.6,6Z" stroke-width="0.7"/><path d="M-24.2,-11.5L-15.6,-6.5L-21.6,-3L-30.3,-8Z" stroke-width="0.7"/><path d="M-24.2,-2L-30.3,1.5M-15.6,3L-24.2,-2M-24.2,-5L-30.3,-1.5M-15.6,0L-24.2,-5M-24.2,-8L-30.3,-4.5M-15.6,-3L-24.2,-8" fill="none"/><path d="M-12.1,-6L-12.1,-18" stroke-width="0.8" fill="none"/><path d="M-13.2,-5.4L-13.2,-17.4M-22.9,0.2L-22.9,-11.8" fill="none"/><path d="M-14.7,-12.3L-21.6,-8.3L-24.2,-9.8L-17.3,-13.8Z" stroke-width="0.5"/><path d="M-15.6,-19.5L-10.8,-16.8L-10.8,-12.2L-15.6,-15Z" stroke-width="0.7"/><path d="M-0.4,-22.8L-10.8,-16.8L-10.8,-12.2L-0.4,-18.2Z" stroke-width="0.7"/><path d="M-5.2,-25.5L-0.4,-22.8L-10.8,-16.8L-15.6,-19.5Z" stroke-width="0.7"/><path d="M-5.2,-23.2L-15.6,-17.2" fill="none"/><path d="M-11.3,-23.5L-8.2,-21.8L-8.2,-19.2L-11.3,-21Z" stroke-width="0.7"/><path d="M-3,-24.8L-8.2,-21.8L-8.2,-19.2L-3,-22.2Z" stroke-width="0.7"/><path d="M-6.1,-26.5L-3,-24.8L-8.2,-21.8L-11.3,-23.5Z" stroke-width="0.7"/><path d="M-13.9,-10L-20.8,-6L-20.8,-12L-13.9,-16Z" stroke="#111" stroke-width="0.8"/><path d="M-17.3,-6.5L-17.3,-8" stroke-width="0.9" fill="none"/><path d="M-16.3,-10L-14,-9.2M-17.4,-12.6L-18.8,-14M-14.8,-14.3L-16.2,-13.4M-8.3,-14.5L-10.4,-14.2M-14.6,-12.9L-15.5,-12.9" stroke="#111" stroke-width="0.9" fill="none"/><path d="M-8.8,-27.9L-9.1,-29.8M-11.7,-24.5L-10.8,-25.1M-4,-26.8L-4.6,-28.3M-8.7,-25.3L-11.2,-26.7M-7.4,-27.1L-9.8,-27.6" stroke="#111" stroke-width="0.8" fill="none"/><path d="M-23.9,-5.9L-18.6,-5.3M-23.9,-5.9L-23.2,-2.8M-23.9,-5.9L-28.8,-4.5M-23.9,-5.9L-27.6,-8.1M-23.9,-5.9L-21.3,-8.6" stroke="#111" stroke-width="0.9" fill="none"/><path d="M-19,-5.3L-18.2,-5.3M-23.3,-3L-23.2,-2.6M-28.4,-4.6L-29.2,-4.5M-27.4,-8L-27.9,-8.3M-21.5,-8.4L-21.2,-8.8" stroke="#111" stroke-width="1.6" fill="none"/><path d="M-23.9,-5.9L-23.9,-12.9" stroke="#111" stroke-width="0.9" fill="none"/><ellipse cx="-23.9" cy="-13.9" rx="4.6" ry="2.7" stroke-width="0.7"/><path d="M-30.1,-15.5v-8q0,-3 3.4,-3q3.4,0 3.4,3v8" stroke-width=".7"/></g><g id="dp115"><path d="M0,0L12.1,7L12.1,-12L0,-19Z" stroke-width="0.7"/><path d="M0.9,-17L11.3,-11M0.9,-3.5L11.3,2.5M0.9,-7.5L11.3,-1.5M0.9,-11.5L11.3,-5.5" fill="none"/><path d="M0,0L-19.1,11L-19.1,-10L0,-21Z" stroke-width="0.7"/><path d="M0,-19.5L-19.1,-8.5M0,-17L-19.1,-6M0,-14.5L-19.1,-3.5" fill="none"/><path d="M0,-12L-18.6,-1.2L-7.8,5L10.8,-5.8Z" stroke-width="0.7"/><path d="M10.8,-4.6L-7.8,6.2" fill="none"/><path d="M10.8,-3.6L-7.8,7.2" stroke-width="0.4" fill="none"/><path d="M-16.5,0L-7.8,5L-7.8,17.5L-16.5,12.5Z" stroke-width="0.7"/><path d="M-1.7,1.5L-7.8,5L-7.8,17.5L-1.7,14Z" stroke-width="0.7"/><path d="M-10.4,-3.5L-1.7,1.5L-7.8,5L-16.5,0Z" stroke-width="0.7"/><path d="M-1.7,11L-7.8,14.5M-10.4,6L-1.7,11M-1.7,8L-7.8,11.5M-10.4,3L-1.7,8M-1.7,5L-7.8,8.5M-10.4,0L-1.7,5" fill="none"/><path d="M10.4,7L10.4,-5" stroke-width="0.8" fill="none"/><path d="M9.4,7.6L9.4,-4.4M-0.4,13.2L-0.4,1.2" fill="none"/><path d="M-0.9,-4.3L-7.8,-0.3L-5.2,1.2L1.7,-2.8Z" stroke-width="0.5"/><path d="M-15.2,-19.2L-10.4,-16.5L-10.4,-12L-15.2,-14.8Z" stroke-width="0.7"/><path d="M0,-22.5L-10.4,-16.5L-10.4,-12L0,-18Z" stroke-width="0.7"/><path d="M-4.8,-25.2L0,-22.5L-10.4,-16.5L-15.2,-19.2Z" stroke-width="0.7"/><path d="M0,-20.2L-10.4,-14.2" fill="none"/><path d="M-10.8,-23.2L-7.8,-21.5L-7.8,-19L-10.8,-20.8Z" stroke-width="0.7"/><path d="M-2.6,-24.5L-7.8,-21.5L-7.8,-19L-2.6,-22Z" stroke-width="0.7"/><path d="M-5.6,-26.2L-2.6,-24.5L-7.8,-21.5L-10.8,-23.2Z" stroke-width="0.7"/><path d="M-6.9,-6L-13.9,-2L-13.9,-8L-6.9,-12Z" stroke="#111" stroke-width="0.8"/><path d="M-10.4,-2.5L-10.4,-4" stroke-width="0.9" fill="none"/><path d="M5.5,-5.5L7.4,-6.3M-0.5,-6.3L-2.6,-7.7M4.6,-4.7L3.1,-6.1M-6.3,2.1L-8.3,1M-10.4,0.8L-9.8,0.8" stroke="#111" stroke-width="0.9" fill="none"/><path d="M-6.3,-28.7L-5.2,-28.8M-8.3,-27.1L-7.2,-26.6M-3.4,-27.9L-2.1,-29.2M-2.9,-23.7L-3,-23.5M-3.9,-28.4L-4.4,-28.1" stroke="#111" stroke-width="0.8" fill="none"/><path d="M9.1,14.1L13,16.2M9.1,14.1L6.8,16.9M9.1,14.1L3.7,13.7M9.1,14.1L8.1,11M9.1,14.1L13.8,12.6" stroke="#111" stroke-width="0.9" fill="none"/><path d="M12.7,16.1L13.3,16.3M6.9,16.7L6.6,17.1M4.1,13.7L3.3,13.7M8.1,11.2L8,10.8M13.5,12.7L14.2,12.5" stroke="#111" stroke-width="1.6" fill="none"/><path d="M9.1,14.1L9.1,7.1" stroke="#111" stroke-width="0.9" fill="none"/><ellipse cx="9.1" cy="6.1" rx="4.6" ry="2.7" stroke-width="0.7"/><path d="M8.4,7.7v-8q0,-3 3.4,-3q3.4,0 3.4,3v8" stroke-width=".7"/></g><g id="dp016"><path d="M0,0L-12.1,-7L-12.1,-26L0,-19Z" stroke-width="0.7"/><path d="M-0.9,-18L-11.3,-24M-0.9,-4.5L-11.3,-10.5M-0.9,-8.5L-11.3,-14.5M-0.9,-12.5L-11.3,-18.5" fill="none"/><path d="M0,0L-19.1,11L-19.1,-10L0,-21Z" stroke-width="0.7"/><path d="M0,-19.5L-19.1,-8.5M0,-17L-19.1,-6M0,-14.5L-19.1,-3.5" fill="none"/><path d="M-0.9,-12.5L-19.5,-1.8L-30.3,-8L-11.7,-18.8Z" stroke-width="0.7"/><path d="M-11.7,-17.6L-30.3,-6.8" fill="none"/><path d="M-11.7,-16.6L-30.3,-5.8" stroke-width="0.4" fill="none"/><path d="M-30.3,-8L-21.6,-3L-21.6,9.5L-30.3,4.5Z" stroke-width="0.7"/><path d="M-15.6,-6.5L-21.6,-3L-21.6,9.5L-15.6,6Z" stroke-width="0.7"/><path d="M-24.2,-11.5L-15.6,-6.5L-21.6,-3L-30.3,-8Z" stroke-width="0.7"/><path d="M-24.2,-2L-30.3,1.5M-15.6,3L-24.2,-2M-24.2,-5L-30.3,-1.5M-15.6,0L-24.2,-5M-24.2,-8L-30.3,-4.5M-15.6,-3L-24.2,-8" fill="none"/><path d="M-12.1,-6L-12.1,-18" stroke-width="0.8" fill="none"/><path d="M-13.2,-5.4L-13.2,-17.4M-22.9,0.2L-22.9,-11.8" fill="none"/><path d="M-14.7,-12.3L-21.6,-8.3L-24.2,-9.8L-17.3,-13.8Z" stroke-width="0.5"/><path d="M-15.6,-19.5L-10.8,-16.8L-10.8,-12.2L-15.6,-15Z" stroke-width="0.7"/><path d="M-0.4,-22.8L-10.8,-16.8L-10.8,-12.2L-0.4,-18.2Z" stroke-width="0.7"/><path d="M-5.2,-25.5L-0.4,-22.8L-10.8,-16.8L-15.6,-19.5Z" stroke-width="0.7"/><path d="M-5.2,-23.2L-15.6,-17.2" fill="none"/><path d="M-11.3,-23.5L-8.2,-21.8L-8.2,-19.2L-11.3,-21Z" stroke-width="0.7"/><path d="M-3,-24.8L-8.2,-21.8L-8.2,-19.2L-3,-22.2Z" stroke-width="0.7"/><path d="M-6.1,-26.5L-3,-24.8L-8.2,-21.8L-11.3,-23.5Z" stroke-width="0.7"/><path d="M-13.9,-10L-20.8,-6L-20.8,-12L-13.9,-16Z" stroke="#111" stroke-width="0.8"/><path d="M-17.3,-6.5L-17.3,-8" stroke-width="0.9" fill="none"/><path d="M-21.2,-7.1L-23.2,-8.8M-23,-10.7L-20.6,-10.7M-20.2,-11.1L-20.3,-11.5M-8.6,-13.4L-6.7,-12.9M-25.6,-8.4L-25.2,-9.9" stroke="#111" stroke-width="0.9" fill="none"/><path d="M-4.1,-26.1L-2.3,-26.4M-4.9,-25.5L-3.4,-27M-5.7,-26.1L-5.1,-25.7M-3.9,-25.1L-3.4,-27.3M-4.4,-26.7L-5,-26.7" stroke="#111" stroke-width="0.8" fill="none"/><path d="M-25.9,-5.1L-20.6,-4.5M-25.9,-5.1L-25.4,-2.1M-25.9,-5.1L-30.9,-3.9M-25.9,-5.1L-29.5,-7.5M-25.9,-5.1L-23.1,-7.8" stroke="#111" stroke-width="0.9" fill="none"/><path d="M-21,-4.5L-20.2,-4.4M-25.4,-2.3L-25.4,-1.9M-30.5,-4L-31.2,-3.8M-29.2,-7.3L-29.7,-7.6M-23.3,-7.6L-22.9,-8" stroke="#111" stroke-width="1.6" fill="none"/><path d="M-25.9,-5.1L-25.9,-12.1" stroke="#111" stroke-width="0.9" fill="none"/><ellipse cx="-25.9" cy="-13.1" rx="4.6" ry="2.7" stroke-width="0.7"/><path d="M-32.1,-14.7v-8q0,-3 3.4,-3q3.4,0 3.4,3v8" stroke-width=".7"/></g><g id="dp117"><path d="M0,0L12.1,7L12.1,-12L0,-19Z" stroke-width="0.7"/><path d="M0.9,-17L11.3,-11M0.9,-3.5L11.3,2.5M0.9,-7.5L11.3,-1.5M0.9,-11.5L11.3,-5.5" fill="none"/><path d="M0,0L-19.1,11L-19.1,-10L0,-21Z" stroke-width="0.7"/><path d="M0,-19.5L-19.1,-8.5M0,-17L-19.1,-6M0,-14.5L-19.1,-3.5" fill="none"/><path d="M0,-12L-18.6,-1.2L-7.8,5L10.8,-5.8Z" stroke-width="0.7"/><path d="M10.8,-4.6L-7.8,6.2" fill="none"/><path d="M10.8,-3.6L-7.8,7.2" stroke-width="0.4" fill="none"/><path d="M-16.5,0L-7.8,5L-7.8,17.5L-16.5,12.5Z" stroke-width="0.7"/><path d="M-1.7,1.5L-7.8,5L-7.8,17.5L-1.7,14Z" stroke-width="0.7"/><path d="M-10.4,-3.5L-1.7,1.5L-7.8,5L-16.5,0Z" stroke-width="0.7"/><path d="M-1.7,11L-7.8,14.5M-10.4,6L-1.7,11M-1.7,8L-7.8,11.5M-10.4,3L-1.7,8M-1.7,5L-7.8,8.5M-10.4,0L-1.7,5" fill="none"/><path d="M10.4,7L10.4,-5" stroke-width="0.8" fill="none"/><path d="M9.4,7.6L9.4,-4.4M-0.4,13.2L-0.4,1.2" fill="none"/><path d="M-0.9,-4.3L-7.8,-0.3L-5.2,1.2L1.7,-2.8Z" stroke-width="0.5"/><path d="M-15.2,-19.2L-10.4,-16.5L-10.4,-12L-15.2,-14.8Z" stroke-width="0.7"/><path d="M0,-22.5L-10.4,-16.5L-10.4,-12L0,-18Z" stroke-width="0.7"/><path d="M-4.8,-25.2L0,-22.5L-10.4,-16.5L-15.2,-19.2Z" stroke-width="0.7"/><path d="M0,-20.2L-10.4,-14.2" fill="none"/><path d="M-10.8,-23.2L-7.8,-21.5L-7.8,-19L-10.8,-20.8Z" stroke-width="0.7"/><path d="M-2.6,-24.5L-7.8,-21.5L-7.8,-19L-2.6,-22Z" stroke-width="0.7"/><path d="M-5.6,-26.2L-2.6,-24.5L-7.8,-21.5L-10.8,-23.2Z" stroke-width="0.7"/><path d="M-6.9,-6L-13.9,-2L-13.9,-8L-6.9,-12Z" stroke="#111" stroke-width="0.8"/><path d="M-10.4,-2.5L-10.4,-4" stroke-width="0.9" fill="none"/><path d="M-1.7,-2.8L-2.7,-2M-4.2,-0.3L-4.4,0.2M-5.2,-0.8L-7.2,-1.5M-9.1,1.2L-9.8,1.1M2.4,-7.1L3.8,-7.7" stroke="#111" stroke-width="0.9" fill="none"/><path d="M-8.9,-23.6L-8.8,-25.1M-12,-25.7L-12,-27.7M-3.5,-25.6L-3.3,-25.6M-8.8,-23.6L-7.9,-25.3M-8.2,-23.7L-7.7,-26.6" stroke="#111" stroke-width="0.8" fill="none"/><path d="M6.9,15.3L11.9,16.4M6.9,15.3L6.6,18.4M6.9,15.3L1.7,16.1M6.9,15.3L3.9,12.7M6.9,15.3L10.2,12.9" stroke="#111" stroke-width="0.9" fill="none"/><path d="M11.6,16.3L12.3,16.4M6.6,18.2L6.6,18.6M2.1,16L1.3,16.2M4.1,12.9L3.7,12.5M10,13L10.5,12.7" stroke="#111" stroke-width="1.6" fill="none"/><path d="M6.9,15.3L6.9,8.3" stroke="#111" stroke-width="0.9" fill="none"/><ellipse cx="6.9" cy="7.3" rx="4.6" ry="2.7" stroke-width="0.7"/><path d="M6.2,8.9v-8q0,-3 3.4,-3q3.4,0 3.4,3v8" stroke-width=".7"/></g><pattern id="cu" width="2.5" height="8" patternUnits="userSpaceOnUse"><rect width="2.5" height="8" fill="#fff"/><path d="M.6,0v8" stroke="#333" stroke-width=".85"/><path d="M1.8,0v8" stroke="#aaa" stroke-width=".4"/></pattern><g id="fo0"><path d="M3.4,-1.8L3.9,-4.8M-0.6,-8.9L0.4,-11.4M4.9,-3L9.1,-2M4.4,-6.1L3,-3.2M0.9,-2.8L2,-0.7M-6.2,-9.5L-5.1,-6.1M-7.9,-7.1L-7,-8.8M-1.5,-6.5L1.5,-6.4M0.9,-9.6L2.4,-6.5M3.3,-6.4L-0.2,-5.5M2.1,-6.1L-2,-7.3M-5.7,-8.4L-5.2,-11M-1.6,-0.4L-4.4,-0.8M3,-7.8L-0.9,-7.5M3.3,-10.6L1.7,-12.3M4.9,-10L4,-13.1M-5.9,-5.4L-7.9,-6.3M-3.7,-10.3L-1.7,-7.6M-0.7,-6.8L2.6,-5.9M0.9,-1.8L-1.8,-3.8M-0.1,-9.6L-1.1,-8.2M2.5,-3.4L-1.2,-3.9M1.3,-1.4L4.1,-2.4M-1.5,-9.7L-3.3,-11.9M-7,-6.5L-4.9,-3.8M1,-5.7L1.8,-3.8M2.3,-3.9L0.8,-5.3M7.9,-2.4L5.2,-0.9M-4.7,-4.4L-7.1,-3.9M-3.4,-6.4L-1.9,-4.8M-7.4,-1.8L-11,-3.8M-3.3,-3.3L-3.9,-5.2M5.1,-5L4.8,-2.9M-2.9,0.9L0.5,0.8M0.1,-4.6L2.5,-3.5M-4.2,-8.8L-1.8,-11.4M-4.3,-0.9L-7.9,0.1M3.6,0.9L7.1,1.3M-4.7,-0.4L-2.1,2.2M7.5,-4.9L6.5,-7.4M2.3,-1.8L-0.1,-1.1M4.3,0L1.8,-0.7M-4.8,-8.5L-2.6,-6.4M-2.1,-5.9L-3.4,-2.7M-3.2,-6.3L-5.7,-4.7M-2.1,-10.7L-0.3,-9.9" stroke="#222" stroke-width="0.9" fill="none"/></g><g id="fo1"><path d="M-2.9,-6.2L1.3,-6.9M-6.9,-4L-6.3,-2M-1.7,0.1L-0.7,3.5M3,-4L6.4,-2.3M-3.8,-1.9L-5.5,0.6M-2.9,-3.6L-5.4,-2.6M6.1,-1.3L4.6,-3.9M3.8,-7.5L1.6,-5.8M-5.8,-2.1L-2.7,-2M-4.6,-5.8L-0.9,-5.3M6.4,-4.7L7.6,-3.4M0.7,-3.8L2.9,-1.4M-0.7,-8.5L-2.5,-10.6M-8.3,-4.9L-9.9,-1.8M-2.6,-9.8L-0.4,-9.8M4.7,-4.3L8.6,-5.4M1.3,-6.5L0.2,-9.6M2.8,-10.3L4.4,-8.8M2,-10.2L4.4,-11.8M2.1,-6.3L6.2,-7.2M-0.9,-3.9L-4.5,-4.8M-1,-4.1L-1.7,-0.9M7.3,-1.6L7.3,0.4M6.8,-0.8L9.1,-2.1M5.8,-2.2L7.3,-3.2M-5.5,-9.4L-8.8,-8.7M1.3,-7.6L0.7,-4.7M-5.9,-6.4L-8.1,-3.4M-1.7,0L0.7,-1.5M3.4,-4.1L5.6,-3.4M3.4,-2.7L1.3,-0.8M-3.6,-9.4L-4.7,-11.6M-3.3,-8.9L-0.9,-6.9M-3,-0.3L-3.2,-2.4M-5.2,-3.4L-5.8,-1.8M8.5,-3L8.3,-5.5M-2,-7.6L-3.1,-11M0.8,-9.1L5.1,-9.4M4.9,-3.6L2.4,-3M-2.1,-6.4L-2.2,-9.7M6.7,-3L6.3,-0.2M-3.2,-11L-2.4,-13.2M-0.4,-7L-1,-9.4M-0.4,-2.3L0.5,0.9M3.1,-3.5L3.9,-1.7M-0.8,-9.7L-3,-12.6" stroke="#222" stroke-width="0.9" fill="none"/></g><g id="fo2"><path d="M4,-1.1L5.8,1.5M-4,-7.3L-6.5,-9.1M5.9,-3.8L3.5,-5.6M5.4,-8.7L3.6,-7.3M5.5,-0.9L4.2,-3.5M-5.6,-3.5L-5,-0.8M4.1,-1.1L1.6,-3.3M0,-3.4L-1.8,-0.9M-7.5,-5.3L-10.3,-4.3M2.6,-6.2L3.5,-3.5M-3.7,-7.9L-6.6,-8.8M-4.1,-10.3L-2.5,-12.8M-8.6,-3.8L-11.9,-2.9M4.9,-8.8L1.9,-6.8M-6.9,-8.6L-9.3,-10.5M6.1,-5.7L2.6,-3.7M2.9,-5.8L6.7,-4.3M3.8,-7.5L3.6,-4.5M3.3,-5.9L-0.2,-5M1,-1.2L3,0.8M0.3,-3.6L-1.6,-2.4M2.1,-3.6L-0.3,-2.5M-0.7,-8.8L-0.6,-6.8M-2.2,0.2L-1.2,2.6M2.8,-10.4L-1.2,-9.7M-2.3,-7.1L-0.3,-6M1.3,-8.6L3.6,-11.6M5,-7L7.7,-6.9M1.3,-0.1L0.1,-3.4M-2.4,-11.1L-4.5,-13M2.1,-7.6L2.8,-10.6M1.1,-5.9L2.8,-2.7M3.5,-1.9L0.9,-3.4M6.4,-9.4L5.1,-7.8M4.8,-7.1L4.8,-5.2M6.5,-4.7L5.8,-2.1M5.2,-6.9L7.3,-7.4M0.4,-10.5L2.4,-10.9M-6.3,-5.2L-8.9,-6.7M-1.2,1.1L1.5,-1M6.1,-6.2L9.4,-4.7M6,-1.6L4.5,-3.3M1,-3.9L3,-0.8M1.2,1L3,2.7M-4.8,-4.4L-2.3,-4.9M-3.5,-4.7L-0.6,-2.9" stroke="#222" stroke-width="0.9" fill="none"/></g></defs>
<g fill="none" stroke="#000" stroke-width="1" stroke-linejoin="round">
<g class="f"><path d="M417.1,533.5L417.1,495.5L482,458L497.6,467" stroke="#222" stroke-width="0.7" fill="none"/><path d="M482,458L482,478" fill="none"/><path d="M454.3,481L469.9,472L475.1,475L459.5,484Z" fill="#111" stroke="#000"/><path d="M474.2,469.5L486.4,462.5L491.6,465.5L479.4,472.5Z" fill="#111" stroke="#000"/></g>
<path d="M863.1,256L495.9,468" stroke-width="1.8"/><path d="M863.1,258L495.9,470" stroke="#111" stroke-width="0.9"/><path d="M863.1,259.6L495.9,471.6" stroke="#222" stroke-width="0.8"/><path d="M863.1,294L495.9,506" stroke="#1a1a1a"/><path d="M863.1,291.8L495.9,503.8" stroke="#444" stroke-width="0.6"/><path d="M863.1,290L495.9,502" stroke="#666" stroke-width="0.5"/><path d="M862.4,256L862.4,294M849.7,263.3L849.7,301.3M837,270.6L837,308.6M824.4,277.9L824.4,315.9M811.7,285.2L811.7,323.2M799.1,292.6L799.1,330.6M786.4,299.9L786.4,337.9M773.7,307.2L773.7,345.2M761.1,314.5L761.1,352.5M748.4,321.8L748.4,359.8M735.8,329.1L735.8,367.1M723.1,336.4L723.1,374.4M710.4,343.7L710.4,381.7M697.8,351L697.8,389M685.1,358.3L685.1,396.3M672.4,365.7L672.4,403.7M659.8,373L659.8,411M647.1,380.3L647.1,418.3M634.5,387.6L634.5,425.6M621.8,394.9L621.8,432.9M609.1,402.2L609.1,440.2M596.5,409.5L596.5,447.5M583.8,416.8L583.8,454.8M571.2,424.1L571.2,462.1M558.5,431.4L558.5,469.4M545.8,438.8L545.8,476.8M533.2,446.1L533.2,484.1M520.5,453.4L520.5,491.4M507.8,460.7L507.8,498.7M495.2,468L495.2,506" stroke="#1a1a1a" stroke-width="0.9"/><path d="M864,256L864,294M851.3,263.3L851.3,301.3M838.6,270.6L838.6,308.6M826,277.9L826,315.9M813.3,285.2L813.3,323.2M800.7,292.6L800.7,330.6M788,299.9L788,337.9M775.3,307.2L775.3,345.2M762.7,314.5L762.7,352.5M750,321.8L750,359.8M737.4,329.1L737.4,367.1M724.7,336.4L724.7,374.4M712,343.7L712,381.7M699.4,351L699.4,389M686.7,358.3L686.7,396.3M674,365.7L674,403.7M661.4,373L661.4,411M648.7,380.3L648.7,418.3M636.1,387.6L636.1,425.6M623.4,394.9L623.4,432.9M610.7,402.2L610.7,440.2M598.1,409.5L598.1,447.5M585.4,416.8L585.4,454.8M572.8,424.1L572.8,462.1M560.1,431.4L560.1,469.4M547.4,438.8L547.4,476.8M534.8,446.1L534.8,484.1M522.1,453.4L522.1,491.4M509.4,460.7L509.4,498.7M496.8,468L496.8,506" stroke="#333" stroke-width="0.7"/>
<path d="M953.1,300L1104.7,387.5" stroke-width="1.8"/><path d="M953.1,302L1104.7,389.5" stroke="#111" stroke-width="0.9"/><path d="M953.1,303.6L1104.7,391.1" stroke="#222" stroke-width="0.8"/><path d="M953.1,338L1104.7,425.5" stroke="#1a1a1a"/><path d="M953.1,335.8L1104.7,423.3" stroke="#444" stroke-width="0.6"/><path d="M953.1,334L1104.7,421.5" stroke="#666" stroke-width="0.5"/><path d="M952.4,300L952.4,338M965.1,307.3L965.1,345.3M977.7,314.6L977.7,352.6M990.3,321.9L990.3,359.9M1003,329.2L1003,367.2M1015.6,336.5L1015.6,374.5M1028.2,343.8L1028.2,381.8M1040.8,351L1040.8,389M1053.5,358.3L1053.5,396.3M1066.1,365.6L1066.1,403.6M1078.7,372.9L1078.7,410.9M1091.4,380.2L1091.4,418.2M1104,387.5L1104,425.5" stroke="#1a1a1a" stroke-width="0.9"/><path d="M954,300L954,338M966.7,307.3L966.7,345.3M979.3,314.6L979.3,352.6M991.9,321.9L991.9,359.9M1004.6,329.2L1004.6,367.2M1017.2,336.5L1017.2,374.5M1029.8,343.8L1029.8,381.8M1042.4,351L1042.4,389M1055.1,358.3L1055.1,396.3M1067.7,365.6L1067.7,403.6M1080.3,372.9L1080.3,410.9M1093,380.2L1093,418.2M1105.6,387.5L1105.6,425.5" stroke="#333" stroke-width="0.7"/>
<path d="M1019,576L1093.4,619" stroke-width="1.8"/><path d="M1019,578L1093.4,621" stroke="#111" stroke-width="0.9"/><path d="M1019,579.6L1093.4,622.6" stroke="#222" stroke-width="0.8"/><path d="M1019,614L1093.4,657" stroke="#1a1a1a"/><path d="M1019,611.8L1093.4,654.8" stroke="#444" stroke-width="0.6"/><path d="M1019,610L1093.4,653" stroke="#666" stroke-width="0.5"/><path d="M1018.3,576L1018.3,614M1030.7,583.2L1030.7,621.2M1043.1,590.3L1043.1,628.3M1055.5,597.5L1055.5,635.5M1067.9,604.7L1067.9,642.7M1080.3,611.8L1080.3,649.8M1092.7,619L1092.7,657" stroke="#1a1a1a" stroke-width="0.9"/><path d="M1019.9,576L1019.9,614M1032.3,583.2L1032.3,621.2M1044.7,590.3L1044.7,628.3M1057.1,597.5L1057.1,635.5M1069.5,604.7L1069.5,642.7M1081.9,611.8L1081.9,649.8M1094.3,619L1094.3,657" stroke="#333" stroke-width="0.7"/>
<path d="M799.9,292.5L786,300.5L786,338.5L799.9,330.5Z" fill="#fff" stroke="none"/><path d="M799.9,292.5L799.9,330.5M786,300.5L786,338.5M799.9,330.5L786,338.5" stroke="#1a1a1a" stroke-width="0.8"/><path d="M799.9,292.5L786,300.5" stroke-width="5" stroke-linecap="square"/>
<path d="M723.6,336.5L709.8,344.5L709.8,382.5L723.6,374.5Z" fill="#fff" stroke="none"/><path d="M723.6,336.5L723.6,374.5M709.8,344.5L709.8,382.5M723.6,374.5L709.8,382.5" stroke="#1a1a1a" stroke-width="0.8"/><path d="M723.6,336.5L709.8,344.5" stroke-width="5" stroke-linecap="square"/>
<path d="M647.4,380.5L633.6,388.5L633.6,426.5L647.4,418.5Z" fill="#fff" stroke="none"/><path d="M647.4,380.5L647.4,418.5M633.6,388.5L633.6,426.5M647.4,418.5L633.6,426.5" stroke="#1a1a1a" stroke-width="0.8"/><path d="M647.4,380.5L633.6,388.5" stroke-width="5" stroke-linecap="square"/>
<path d="M571.2,424.5L557.4,432.5L557.4,470.5L571.2,462.5Z" fill="#fff" stroke="none"/><path d="M571.2,424.5L571.2,462.5M557.4,432.5L557.4,470.5M571.2,462.5L557.4,470.5" stroke="#1a1a1a" stroke-width="0.8"/><path d="M571.2,424.5L557.4,432.5" stroke-width="5" stroke-linecap="square"/>
<path d="M870,252L953.1,300L953.1,338L870,290Z" fill="#fff" stroke="none"/><path d="M870,252L870,290M953.1,300L953.1,338M870,290L953.1,338" stroke="#1a1a1a" stroke-width="0.8"/><path d="M870,252L953.1,300" stroke-width="5.5" stroke-linecap="square"/>
<path d="M983.4,317.5L997.3,325.5L997.3,363.5L983.4,355.5Z" fill="#fff" stroke="none"/><path d="M983.4,317.5L983.4,355.5M997.3,325.5L997.3,363.5M983.4,355.5L997.3,363.5" stroke="#1a1a1a" stroke-width="0.8"/><path d="M983.4,317.5L997.3,325.5" stroke-width="5" stroke-linecap="square"/>
<path d="M1059.7,361.5L1073.5,369.5L1073.5,407.5L1059.7,399.5Z" fill="#fff" stroke="none"/><path d="M1059.7,361.5L1059.7,399.5M1073.5,369.5L1073.5,407.5M1059.7,399.5L1073.5,407.5" stroke="#1a1a1a" stroke-width="0.8"/><path d="M1059.7,361.5L1073.5,369.5" stroke-width="5" stroke-linecap="square"/>
<path d="M1104.7,387.5L1187,435L1187,473L1104.7,425.5Z" fill="#fff" stroke="none"/><path d="M1104.7,387.5L1104.7,425.5M1187,435L1187,473M1104.7,425.5L1187,473" stroke="#1a1a1a" stroke-width="0.8"/><path d="M1104.7,387.5L1187,435" stroke-width="7" stroke-linecap="square"/>
<path d="M870,252L861.3,257L861.3,295L870,290Z" fill="#fff" stroke="none"/><path d="M870,252L870,290M861.3,257L861.3,295M870,290L861.3,295" stroke="#1a1a1a" stroke-width="0.8"/><path d="M870,252L861.3,257" stroke-width="5" stroke-linecap="square"/>
<g class="f"><ellipse cx="697.7" cy="739.5" rx="22" ry="12.7" fill="none"/></g>
<g class="f"><path d="M796.4,759.5L828.4,778L785.1,803L753.1,784.5Z" fill="none"/></g>
<g class="f"><ellipse cx="917.6" cy="433.5" rx="24.5" ry="14.1" fill="none"/></g>
<g class="f"><ellipse cx="983.4" cy="397.5" rx="15.9" ry="9.2" fill="none"/></g>
<g class="f"><ellipse cx="889.9" cy="586.5" rx="19.6" ry="11.3" fill="none"/></g>
<g class="f"><ellipse cx="990.4" cy="643.5" rx="19.6" ry="11.3" fill="none"/></g>
<g class="f"><path d="M876.1,282.5L891.6,291.5L891.6,315.5L876.1,306.5Z"/><path d="M898.6,287.5L891.6,291.5L891.6,315.5L898.6,311.5Z"/><path d="M883,278.5L898.6,287.5L891.6,291.5L876.1,282.5Z"/><path d="M876.1,300.5L891.6,309.5M876.1,294.5L891.6,303.5M876.1,288.5L891.6,297.5" stroke="#111" stroke-width="0.9" fill="none"/><path d="M876.1,306.5L876.1,279.5M891.6,315.5L891.6,288.5" stroke="#111" stroke-width="1.4" fill="none"/><path d="M898.6,284.5L891.6,288.5" stroke="#111" stroke-width="1.2" fill="none"/></g>
<g class="f"><path d="M857,293.5L867.4,299.5L867.4,311.5L857,305.5Z"/><path d="M870,298L867.4,299.5L867.4,311.5L870,310Z"/><path d="M859.6,292L870,298L867.4,299.5L857,293.5Z"/><path d="M849.2,301L851.8,302.5L851.8,311.5L849.2,310Z"/><path d="M859.6,298L851.8,302.5L851.8,311.5L859.6,307Z"/><path d="M857,296.5L859.6,298L851.8,302.5L849.2,301Z"/><path d="M851.8,305.5L857,308.5L857,314.5L851.8,311.5Z"/><path d="M864.8,304L857,308.5L857,314.5L864.8,310Z"/><path d="M859.6,301L864.8,304L857,308.5L851.8,305.5Z"/><path d="M857,305.5L859.6,307L859.6,316L857,314.5Z"/><path d="M867.4,302.5L859.6,307L859.6,316L867.4,311.5Z"/><path d="M864.8,301L867.4,302.5L859.6,307L857,305.5Z"/></g>
<g class="f"><path d="M893.4,292.5L909,301.5L909,325.5L893.4,316.5Z"/><path d="M915.9,297.5L909,301.5L909,325.5L915.9,321.5Z"/><path d="M900.3,288.5L915.9,297.5L909,301.5L893.4,292.5Z"/><path d="M893.4,310.5L909,319.5M893.4,304.5L909,313.5M893.4,298.5L909,307.5" stroke="#111" stroke-width="0.9" fill="none"/><path d="M893.4,316.5L893.4,289.5M909,325.5L909,298.5" stroke="#111" stroke-width="1.4" fill="none"/><path d="M915.9,294.5L909,298.5" stroke="#111" stroke-width="1.2" fill="none"/></g>
<g class="f"><path d="M910.7,302.5L926.3,311.5L926.3,335.5L910.7,326.5Z"/><path d="M933.2,307.5L926.3,311.5L926.3,335.5L933.2,331.5Z"/><path d="M917.6,298.5L933.2,307.5L926.3,311.5L910.7,302.5Z"/><path d="M910.7,320.5L926.3,329.5M910.7,314.5L926.3,323.5M910.7,308.5L926.3,317.5" stroke="#111" stroke-width="0.9" fill="none"/><path d="M910.7,326.5L910.7,299.5M926.3,335.5L926.3,308.5" stroke="#111" stroke-width="1.4" fill="none"/><path d="M933.2,304.5L926.3,308.5" stroke="#111" stroke-width="1.2" fill="none"/></g>
<g class="f"><path d="M792.1,298L796.4,300.5L796.4,338.5L792.1,336Z" stroke="#111" stroke-width="0.8"/><path d="M800.7,298L796.4,300.5L796.4,338.5L800.7,336Z" stroke="#111" stroke-width="0.8"/><path d="M796.4,295.5L800.7,298L796.4,300.5L792.1,298Z" stroke="#111" stroke-width="0.8"/><path d="M793.4,315.9L794.8,316.7L794.8,326.2L793.4,325.4Z" fill="#111" stroke-width="0.3"/><path d="M796.4,295.5L800.7,298L796.4,300.5L792.1,298Z" fill="#111" stroke="#000"/></g>
<g class="f"><path d="M796.2,332.5L796.2,338.5A3.7,2.1 0 0 0 803.5,338.5L803.5,332.5Z"/><ellipse cx="799.9" cy="332.5" rx="3.7" ry="2.1"/><use href="#fo1" x="799.9" y="330.5"/></g>
<g class="f"><path d="M928,312.5L943.6,321.5L943.6,345.5L928,336.5Z"/><path d="M950.5,317.5L943.6,321.5L943.6,345.5L950.5,341.5Z"/><path d="M934.9,308.5L950.5,317.5L943.6,321.5L928,312.5Z"/><path d="M928,330.5L943.6,339.5M928,324.5L943.6,333.5M928,318.5L943.6,327.5" stroke="#111" stroke-width="0.9" fill="none"/><path d="M928,336.5L928,309.5M943.6,345.5L943.6,318.5" stroke="#111" stroke-width="1.4" fill="none"/><path d="M950.5,314.5L943.6,318.5" stroke="#111" stroke-width="1.2" fill="none"/></g>
<g class="f"><use href="#dp012" x="884.3" y="330.2"/><use href="#dp014" x="865.2" y="341.2"/><use href="#dp113" x="886.9" y="331.8"/><use href="#dp016" x="846.2" y="352.2"/><use href="#dp115" x="867.8" y="342.8"/><use href="#dp012" x="827.1" y="363.2"/><use href="#dp117" x="848.8" y="353.8"/><use href="#dp014" x="808.1" y="374.2"/><use href="#dp113" x="829.7" y="364.8"/><use href="#dp115" x="810.7" y="375.8"/></g>
<g class="f"><path d="M982.6,323L986.9,325.5L986.9,363.5L982.6,361Z" stroke="#111" stroke-width="0.8"/><path d="M991.2,323L986.9,325.5L986.9,363.5L991.2,361Z" stroke="#111" stroke-width="0.8"/><path d="M986.9,320.5L991.2,323L986.9,325.5L982.6,323Z" stroke="#111" stroke-width="0.8"/><path d="M983.9,340.9L985.4,341.7L985.4,351.2L983.9,350.4Z" fill="#111" stroke-width="0.3"/><path d="M986.9,320.5L991.2,323L986.9,325.5L982.6,323Z" fill="#111" stroke="#000"/></g>
<g class="f"><ellipse cx="963.5" cy="369" rx="4.9" ry="2.8"/><path d="M962.9,369L962.9,353M964.1,369L964.1,353" fill="none"/><path d="M957.4,352L957.4,353A6.1,3.5 0 0 0 969.7,353L969.7,352Z"/><ellipse cx="963.5" cy="352" rx="6.1" ry="3.5"/><path d="M960.5,351L965.5,353.5L966.5,347.5L961.5,345.5Z" stroke-width="0.8"/><path d="M961.5,350.5L965,352.5L965.8,348L962.1,346.5Z" fill="#333" stroke-width="0.3"/></g>
<g class="f"><path d="M715.9,342L720.2,344.5L720.2,382.5L715.9,380Z" stroke="#111" stroke-width="0.8"/><path d="M724.5,342L720.2,344.5L720.2,382.5L724.5,380Z" stroke="#111" stroke-width="0.8"/><path d="M720.2,339.5L724.5,342L720.2,344.5L715.9,342Z" stroke="#111" stroke-width="0.8"/><path d="M717.2,359.9L718.6,360.7L718.6,370.2L717.2,369.4Z" fill="#111" stroke-width="0.3"/><path d="M720.2,339.5L724.5,342L720.2,344.5L715.9,342Z" fill="#111" stroke="#000"/></g>
<g class="f"><use href="#dp014" x="926.7" y="354.8"/><use href="#dp016" x="907.7" y="365.8"/><use href="#dp115" x="929.3" y="356.2"/><use href="#dp012" x="888.6" y="376.8"/><use href="#dp117" x="910.3" y="367.2"/><use href="#dp014" x="869.6" y="387.8"/><use href="#dp113" x="891.2" y="378.2"/><use href="#dp016" x="850.5" y="398.8"/><use href="#dp115" x="872.2" y="389.2"/><use href="#dp117" x="853.1" y="400.2"/></g>
<g class="f"><path d="M947.7,363L947.7,371A3.7,2.1 0 0 0 955.1,371L955.1,363Z"/><ellipse cx="951.4" cy="363" rx="3.7" ry="2.1"/><ellipse cx="951.4" cy="363" rx="3.1" ry="1.8" fill="none"/></g>
<g class="f"><path d="M938.4,378.5L942.7,381L942.7,394L938.4,391.5Z"/><path d="M964.4,368.5L942.7,381L942.7,394L964.4,381.5Z"/><path d="M960.1,366L964.4,368.5L942.7,381L938.4,378.5Z"/><path d="M942.7,388L948.8,391.5L948.8,397.5L942.7,394Z"/><path d="M970.5,379L948.8,391.5L948.8,397.5L970.5,385Z"/><path d="M964.4,375.5L970.5,379L948.8,391.5L942.7,388Z"/><path d="M953.6,381.8L959.6,385.2M959.6,385.2L959.6,391.2" fill="none"/></g>
<g class="f"><path d="M715.9,345L755.7,368L755.7,406L715.9,383Z" fill="url(#cu)"/><path d="M715.9,345L755.7,368" stroke="#000" stroke-width="1.8" fill="none"/></g>
<g class="f"><path d="M976.1,391.5L976.1,397.5A7.3,4.2 0 0 0 990.8,397.5L990.8,391.5Z"/><ellipse cx="983.4" cy="391.5" rx="7.3" ry="4.2"/><ellipse cx="983.4" cy="391.5" rx="6.2" ry="3.6" fill="none"/></g>
<g class="f"><path d="M1011.2,395L1011.2,402A4.3,2.5 0 0 0 1019.8,402L1019.8,395Z"/><ellipse cx="1015.5" cy="395" rx="4.3" ry="2.5"/><ellipse cx="1015.5" cy="395" rx="3.6" ry="2.1" fill="none"/></g>
<g class="f"><path d="M1058.8,367L1063.1,369.5L1063.1,407.5L1058.8,405Z" stroke="#111" stroke-width="0.8"/><path d="M1067.4,367L1063.1,369.5L1063.1,407.5L1067.4,405Z" stroke="#111" stroke-width="0.8"/><path d="M1063.1,364.5L1067.4,367L1063.1,369.5L1058.8,367Z" stroke="#111" stroke-width="0.8"/><path d="M1060.1,384.9L1061.6,385.7L1061.6,395.2L1060.1,394.4Z" fill="#111" stroke-width="0.3"/><path d="M1063.1,364.5L1067.4,367L1063.1,369.5L1058.8,367Z" fill="#111" stroke="#000"/></g>
<g class="f"><path d="M880.4,403L887.3,407L887.3,413L880.4,409Z"/><path d="M906.4,396L887.3,407L887.3,413L906.4,402Z"/><path d="M899.4,392L906.4,396L887.3,407L880.4,403Z"/><path d="M899.4,392.5L904.6,395.5L887.3,405.5L882.1,402.5Z"/><path d="M898.6,387.5L900.3,388.5L883,398.5L881.3,397.5Z" fill="#111"/><path d="M900.3,388.5L883,398.5L883,403L900.3,393Z" fill="#222"/></g>
<g class="f"><path d="M907.2,366.5L911.6,369L911.6,407L907.2,404.5Z" stroke="#111" stroke-width="0.8"/><path d="M915.9,366.5L911.6,369L911.6,407L915.9,404.5Z" stroke="#111" stroke-width="0.8"/><path d="M911.6,364L915.9,366.5L911.6,369L907.2,366.5Z" stroke="#111" stroke-width="0.8"/><path d="M908.5,384.4L910,385.2L910,394.7L908.5,393.9Z" fill="#111" stroke-width="0.3"/><path d="M911.6,364L915.9,366.5L911.6,369L907.2,366.5Z" fill="#111" stroke="#000"/></g>
<g class="f"><path d="M910.7,380.5L917.6,384.5L917.6,412.5L910.7,408.5Z" stroke="#111" stroke-width="0.8"/><path d="M930.6,377L917.6,384.5L917.6,412.5L930.6,405Z" stroke="#111" stroke-width="0.8"/><path d="M923.7,373L930.6,377L917.6,384.5L910.7,380.5Z" stroke="#111" stroke-width="0.8"/></g>
<g class="f"><path d="M924.6,393.5L956.6,412L956.6,424L924.6,405.5Z"/><path d="M963.5,408L956.6,412L956.6,424L963.5,420Z"/><path d="M931.5,389.5L963.5,408L956.6,412L924.6,393.5Z"/><use href="#fo0" x="932" y="392.8"/><use href="#fo1" x="940" y="397.4"/><use href="#fo2" x="948" y="402.1"/><use href="#fo0" x="956.1" y="406.7"/></g>
<g class="f"><path d="M1044.1,406L1044.1,413A4.3,2.5 0 0 0 1052.7,413L1052.7,406Z"/><ellipse cx="1048.4" cy="406" rx="4.3" ry="2.5"/><use href="#fo0" x="1048.4" y="404"/></g>
<g class="f"><path d="M860.5,414.5L867.4,418.5L867.4,424.5L860.5,420.5Z"/><path d="M886.5,407.5L867.4,418.5L867.4,424.5L886.5,413.5Z"/><path d="M879.5,403.5L886.5,407.5L867.4,418.5L860.5,414.5Z"/><path d="M879.5,404L884.7,407L867.4,417L862.2,414Z"/><path d="M878.7,399L880.4,400L863.1,410L861.3,409Z" fill="#111"/><path d="M880.4,400L863.1,410L863.1,414.5L880.4,404.5Z" fill="#222"/></g>
<g class="f"><path d="M755.7,368L712.4,393L712.4,431L755.7,406Z" fill="url(#cu)"/><path d="M755.7,368L712.4,393" stroke="#000" stroke-width="1.8" fill="none"/></g>
<g class="f"><path d="M1038,408L1008.6,425L1008.6,395L1038,378Z" stroke="#111" stroke-width="0.8"/><path d="M1023.3,416.5L1023.3,386.5" fill="none"/><path d="M1038,408L1038,411M1035,409.3L1041,412.7M1008.6,425L1008.6,428M1005.6,426.3L1011.6,429.7" stroke="#111" stroke-width="0.9" fill="none"/></g>
<g class="f"><ellipse cx="1070" cy="420.5" rx="4.9" ry="2.8"/><path d="M1069.4,420.5L1069.4,404.5M1070.6,420.5L1070.6,404.5" fill="none"/><path d="M1063.9,403.5L1063.9,404.5A6.1,3.5 0 0 0 1076.2,404.5L1076.2,403.5Z"/><ellipse cx="1070" cy="403.5" rx="6.1" ry="3.5"/><path d="M1067,402.5L1072,405L1073,399L1068,397Z" stroke-width="0.8"/><path d="M1068,402L1071.5,404L1072.3,399.5L1068.6,398Z" fill="#333" stroke-width="0.3"/></g>
<g class="f"><path d="M639.6,386L644,388.5L644,426.5L639.6,424Z" stroke="#111" stroke-width="0.8"/><path d="M648.3,386L644,388.5L644,426.5L648.3,424Z" stroke="#111" stroke-width="0.8"/><path d="M644,383.5L648.3,386L644,388.5L639.6,386Z" stroke="#111" stroke-width="0.8"/><path d="M640.9,403.9L642.4,404.7L642.4,414.2L640.9,413.4Z" fill="#111" stroke-width="0.3"/><path d="M644,383.5L648.3,386L644,388.5L639.6,386Z" fill="#111" stroke="#000"/></g>
<g class="f"><path d="M662.2,379L695.1,398L695.1,436L662.2,417Z" fill="url(#cu)"/><path d="M662.2,379L695.1,398" stroke="#000" stroke-width="1.8" fill="none"/></g>
<path d="M779.1,380.5L806.8,396.5L806.8,434.5L779.1,418.5Z" fill="#fff" stroke="none"/><path d="M779.1,380.5L779.1,418.5M806.8,396.5L806.8,434.5M779.1,418.5L806.8,434.5" stroke="#1a1a1a" stroke-width="0.8"/><path d="M793,426.5L793,397.5L801.7,402.5L801.7,431.5" stroke="#333" stroke-width="0.7"/><path d="M794,427.1L794,399.3L800.6,403.1L800.6,430.9" stroke="#555" stroke-width="0.5"/><path d="M779.1,399.5L806.8,415.5" stroke="#777" stroke-width="0.5"/><path d="M779.1,380.5L806.8,396.5" stroke-width="3" stroke-linecap="square"/>
<g class="f"><ellipse cx="1084.8" cy="428" rx="4.9" ry="2.8"/><path d="M1084.2,428L1084.2,412M1085.4,428L1085.4,412" fill="none"/><path d="M1078.6,411L1078.6,412A6.1,3.5 0 0 0 1090.9,412L1090.9,411Z"/><ellipse cx="1084.8" cy="411" rx="6.1" ry="3.5"/><path d="M1081.8,410L1086.8,412.5L1087.8,406.5L1082.8,404.5Z" stroke-width="0.8"/><path d="M1082.8,409.5L1086.3,411.5L1087.1,407L1083.4,405.5Z" fill="#333" stroke-width="0.3"/></g>
<g class="f"><path d="M911.1,425L911.1,430A7.3,4.2 0 0 0 925.8,430L925.8,425Z"/><ellipse cx="918.5" cy="425" rx="7.3" ry="4.2"/><ellipse cx="918.5" cy="425" rx="6.2" ry="3.6" fill="none"/></g>
<g class="f"><path d="M1067.2,431.5L1067.2,436A3.7,2.1 0 0 0 1074.6,436L1074.6,431.5Z"/><ellipse cx="1070.9" cy="431.5" rx="3.7" ry="2.1"/><use href="#fo1" x="1070.9" y="429.5"/></g>
<g class="f"><path d="M1096.9,410L1112.5,419L1112.5,443L1096.9,434Z"/><path d="M1119.4,415L1112.5,419L1112.5,443L1119.4,439Z"/><path d="M1103.8,406L1119.4,415L1112.5,419L1096.9,410Z"/><path d="M1096.9,428L1112.5,437M1096.9,422L1112.5,431M1096.9,416L1112.5,425" stroke="#111" stroke-width="0.9" fill="none"/><path d="M1096.9,434L1096.9,407M1112.5,443L1112.5,416" stroke="#111" stroke-width="1.4" fill="none"/><path d="M1119.4,412L1112.5,416" stroke="#111" stroke-width="1.2" fill="none"/></g>
<g class="f"><path d="M910.3,434.5L910.3,438.5A7.3,4.2 0 0 0 925,438.5L925,434.5Z"/><ellipse cx="917.6" cy="434.5" rx="7.3" ry="4.2"/><ellipse cx="917.6" cy="434.5" rx="6.2" ry="3.6" fill="none"/></g>
<g class="f"><path d="M881.3,427.5L902.9,440L902.9,446L881.3,433.5Z"/><path d="M909,436.5L902.9,440L902.9,446L909,442.5Z"/><path d="M887.3,424L909,436.5L902.9,440L881.3,427.5Z"/><path d="M876.9,423L898.6,435.5L898.6,448.5L876.9,436Z"/><path d="M902.9,433L898.6,435.5L898.6,448.5L902.9,446Z"/><path d="M881.3,420.5L902.9,433L898.6,435.5L876.9,423Z"/><path d="M898.1,430.2L892.1,433.8M887.8,436.2L887.8,442.2" fill="none"/></g>
<g class="f"><path d="M694.2,399.5L664.8,416.5L664.8,454.5L694.2,437.5Z" fill="url(#cu)"/><path d="M694.2,399.5L664.8,416.5" stroke="#000" stroke-width="1.8" fill="none"/></g>
<g class="f"><path d="M1114.2,420L1129.8,429L1129.8,453L1114.2,444Z"/><path d="M1136.7,425L1129.8,429L1129.8,453L1136.7,449Z"/><path d="M1121.1,416L1136.7,425L1129.8,429L1114.2,420Z"/><path d="M1114.2,438L1129.8,447M1114.2,432L1129.8,441M1114.2,426L1129.8,435" stroke="#111" stroke-width="0.9" fill="none"/><path d="M1114.2,444L1114.2,417M1129.8,453L1129.8,426" stroke="#111" stroke-width="1.4" fill="none"/><path d="M1136.7,422L1129.8,426" stroke="#111" stroke-width="1.2" fill="none"/></g>
<g class="f"><path d="M983.4,410.5L987.8,413L987.8,451L983.4,448.5Z" stroke="#111" stroke-width="0.8"/><path d="M992.1,410.5L987.8,413L987.8,451L992.1,448.5Z" stroke="#111" stroke-width="0.8"/><path d="M987.8,408L992.1,410.5L987.8,413L983.4,410.5Z" stroke="#111" stroke-width="0.8"/><path d="M984.7,428.4L986.2,429.2L986.2,438.7L984.7,437.9Z" fill="#111" stroke-width="0.3"/><path d="M987.8,408L992.1,410.5L987.8,413L983.4,410.5Z" fill="#111" stroke="#000"/></g>
<g class="f"><path d="M935.8,441L942.7,445L942.7,463L935.8,459Z"/><path d="M978.2,424.5L942.7,445L942.7,463L978.2,442.5Z"/><path d="M971.3,420.5L978.2,424.5L942.7,445L935.8,441Z"/><path d="M935.8,450L942.7,454M972.3,445.9L972.3,427.9M966.4,449.3L966.4,431.3M960.5,452.8L960.5,434.8M954.6,456.2L954.6,438.2M948.7,459.6L948.7,441.6M978.2,433.5L942.7,454" fill="none"/><use href="#fo0" x="970.3" y="424.1"/><use href="#fo1" x="961.5" y="429.2"/><use href="#fo2" x="952.6" y="434.3"/><use href="#fo0" x="943.7" y="439.4"/></g>
<g class="f"><path d="M902.7,444L902.7,451A3.7,2.1 0 0 0 910,451L910,444Z"/><ellipse cx="906.4" cy="444" rx="3.7" ry="2.1"/><ellipse cx="906.4" cy="444" rx="3.1" ry="1.8" fill="none"/></g>
<path d="M779.1,380.5L660.4,449L660.4,487L779.1,418.5Z" fill="#fff" stroke="none"/><path d="M779.1,380.5L779.1,418.5M660.4,449L660.4,487M779.1,418.5L660.4,487" stroke="#1a1a1a" stroke-width="0.8"/><path d="M754.2,432.8L754.2,403.8L745.6,408.8L745.6,437.8" stroke="#333" stroke-width="0.7"/><path d="M753.2,433.4L753.2,405.6L746.6,409.4L746.6,437.2" stroke="#555" stroke-width="0.5"/><path d="M693.8,467.7L693.8,438.7L685.1,443.7L685.1,472.7" stroke="#333" stroke-width="0.7"/><path d="M692.8,468.3L692.8,440.5L686.2,444.3L686.2,472.1" stroke="#555" stroke-width="0.5"/><path d="M779.1,399.5L660.4,468" stroke="#777" stroke-width="0.5"/><path d="M739.5,403.3L739.5,441.3M700,426.2L700,464.2" stroke="#888" stroke-width="0.5"/><path d="M779.1,380.5L660.4,449" stroke-width="3" stroke-linecap="square"/>
<path d="M754.8,394.5L782.5,410.5L782.5,448.5L754.8,432.5Z" fill="#fff" stroke="none"/><path d="M754.8,394.5L754.8,432.5M782.5,410.5L782.5,448.5M754.8,432.5L782.5,448.5" stroke="#1a1a1a" stroke-width="0.8"/><path d="M761.1,436.1L761.1,407.1L769.7,412.1L769.7,441.1" stroke="#333" stroke-width="0.7"/><path d="M762.1,436.7L762.1,408.9L768.7,412.7L768.7,440.5" stroke="#555" stroke-width="0.5"/><path d="M754.8,413.5L782.5,429.5" stroke="#777" stroke-width="0.5"/><path d="M754.8,394.5L782.5,410.5" stroke-width="2.5" stroke-linecap="square"/>
<path d="M734.9,406L749.6,414.5L749.6,452.5L734.9,444Z" fill="#fff" stroke="none"/><path d="M734.9,406L734.9,444M734.9,444L749.6,452.5" stroke="#1a1a1a" stroke-width="0.8"/><path d="M734.9,425L749.6,433.5" stroke="#777" stroke-width="0.5"/><path d="M734.9,406L749.6,414.5" stroke-width="2.5" stroke-linecap="square"/>
<path d="M757.4,410L749.6,414.5L749.6,452.5L757.4,448Z" fill="#fff" stroke="none"/><path d="M757.4,410L757.4,448M757.4,448L749.6,452.5" stroke="#1a1a1a" stroke-width="0.8"/><path d="M757.4,410L749.6,414.5" stroke-width="2.5" stroke-linecap="square"/>
<path d="M826.7,405L870.9,430.5L870.9,468.5L826.7,443Z" fill="#fff" stroke="none"/><path d="M826.7,405L826.7,443M870.9,430.5L870.9,468.5M826.7,443L870.9,468.5" stroke="#1a1a1a" stroke-width="0.8"/><path d="M842.4,452.1L842.4,423.1L851.1,428.1L851.1,457.1" stroke="#333" stroke-width="0.7"/><path d="M843.4,452.7L843.4,424.9L850,428.7L850,456.5" stroke="#555" stroke-width="0.5"/><path d="M826.7,424L870.9,449.5" stroke="#777" stroke-width="0.5"/><path d="M826.7,405L870.9,430.5" stroke-width="6" stroke-linecap="square"/>
<path d="M749.6,414.5L762.6,422L762.6,460L749.6,452.5Z" fill="#fff" stroke="none"/><path d="M762.6,422L762.6,460M749.6,452.5L762.6,460" stroke="#1a1a1a" stroke-width="0.8"/><path d="M749.6,433.5L762.6,441" stroke="#777" stroke-width="0.5"/><path d="M749.6,414.5L762.6,422" stroke-width="2.5" stroke-linecap="square"/>
<g class="f"><path d="M1131.5,430L1147.1,439L1147.1,463L1131.5,454Z"/><path d="M1154,435L1147.1,439L1147.1,463L1154,459Z"/><path d="M1138.5,426L1154,435L1147.1,439L1131.5,430Z"/><path d="M1131.5,448L1147.1,457M1131.5,442L1147.1,451M1131.5,436L1147.1,445" stroke="#111" stroke-width="0.9" fill="none"/><path d="M1131.5,454L1131.5,427M1147.1,463L1147.1,436" stroke="#111" stroke-width="1.4" fill="none"/><path d="M1154,432L1147.1,436" stroke="#111" stroke-width="1.2" fill="none"/></g>
<path d="M749.6,414.5L729.7,426L729.7,464L749.6,452.5Z" fill="#fff" stroke="none"/><path d="M729.7,426L729.7,464M749.6,452.5L729.7,464" stroke="#1a1a1a" stroke-width="0.8"/><path d="M749.6,433.5L729.7,445" stroke="#777" stroke-width="0.5"/><path d="M749.6,414.5L729.7,426" stroke-width="2.5" stroke-linecap="square"/>
<g class="f"><use href="#dp014" x="1069.6" y="435.2"/><use href="#dp016" x="1050.6" y="446.2"/><use href="#dp115" x="1072.2" y="436.8"/><use href="#dp012" x="1031.5" y="457.2"/><use href="#dp117" x="1053.2" y="447.8"/><use href="#dp014" x="1012.5" y="468.2"/><use href="#dp113" x="1034.1" y="458.8"/><use href="#dp016" x="993.4" y="479.2"/><use href="#dp115" x="1015.1" y="469.8"/><use href="#dp117" x="996" y="480.8"/></g>
<path d="M715,417.5L742.7,433.5L742.7,471.5L715,455.5Z" fill="#fff" stroke="none"/><path d="M715,417.5L715,455.5M742.7,433.5L742.7,471.5M715,455.5L742.7,471.5" stroke="#1a1a1a" stroke-width="0.8"/><path d="M725.9,461.8L725.9,432.8L734.5,437.8L734.5,466.8" stroke="#333" stroke-width="0.7"/><path d="M726.9,462.4L726.9,434.6L733.5,438.4L733.5,466.2" stroke="#555" stroke-width="0.5"/><path d="M715,436.5L742.7,452.5" stroke="#777" stroke-width="0.5"/><path d="M715,417.5L742.7,433.5" stroke-width="2.5" stroke-linecap="square"/>
<g class="f"><path d="M1148.9,440L1164.4,449L1164.4,473L1148.9,464Z"/><path d="M1171.4,445L1164.4,449L1164.4,473L1171.4,469Z"/><path d="M1155.8,436L1171.4,445L1164.4,449L1148.9,440Z"/><path d="M1148.9,458L1164.4,467M1148.9,452L1164.4,461M1148.9,446L1164.4,455" stroke="#111" stroke-width="0.9" fill="none"/><path d="M1148.9,464L1148.9,437M1164.4,473L1164.4,446" stroke="#111" stroke-width="1.4" fill="none"/><path d="M1171.4,442L1164.4,446" stroke="#111" stroke-width="1.2" fill="none"/></g>
<g class="f"><path d="M1140,461L1140,468A3.7,2.1 0 0 0 1147.3,468L1147.3,461Z"/><ellipse cx="1143.7" cy="461" rx="3.7" ry="2.1"/><ellipse cx="1143.7" cy="461" rx="3.1" ry="1.8" fill="none"/></g>
<g class="f"><path d="M563.4,430L567.8,432.5L567.8,470.5L563.4,468Z" stroke="#111" stroke-width="0.8"/><path d="M572.1,430L567.8,432.5L567.8,470.5L572.1,468Z" stroke="#111" stroke-width="0.8"/><path d="M567.8,427.5L572.1,430L567.8,432.5L563.4,430Z" stroke="#111" stroke-width="0.8"/><path d="M564.7,447.9L566.2,448.7L566.2,458.2L564.7,457.4Z" fill="#111" stroke-width="0.3"/><path d="M567.8,427.5L572.1,430L567.8,432.5L563.4,430Z" fill="#111" stroke="#000"/></g>
<g class="f"><path d="M588.6,421.5L620.6,440L620.6,478L588.6,459.5Z" fill="url(#cu)"/><path d="M588.6,421.5L620.6,440" stroke="#000" stroke-width="1.8" fill="none"/></g>
<g class="f"><ellipse cx="1161" cy="478" rx="3" ry="1.7" stroke-width="0.7"/><path d="M1161,478L1161,469" stroke-width="1" fill="none"/><ellipse cx="1161" cy="468.5" rx="5" ry="2.9" stroke-width="0.8"/></g>
<path d="M689,432.5L716.7,448.5L716.7,486.5L689,470.5Z" fill="#fff" stroke="none"/><path d="M689,432.5L689,470.5M716.7,448.5L716.7,486.5M689,470.5L716.7,486.5" stroke="#1a1a1a" stroke-width="0.8"/><path d="M701.6,477.8L701.6,448.8L710.2,453.8L710.2,482.8" stroke="#333" stroke-width="0.7"/><path d="M702.6,478.4L702.6,450.6L709.2,454.4L709.2,482.2" stroke="#555" stroke-width="0.5"/><path d="M689,451.5L716.7,467.5" stroke="#777" stroke-width="0.5"/><path d="M689,432.5L716.7,448.5" stroke-width="2.5" stroke-linecap="square"/>
<path d="M806.8,396.5L688.1,465L688.1,503L806.8,434.5Z" fill="#fff" stroke="none"/><path d="M806.8,396.5L806.8,434.5M688.1,465L688.1,503M806.8,434.5L688.1,503" stroke="#1a1a1a" stroke-width="0.8"/><path d="M781.8,448.9L781.8,419.9L773.1,424.9L773.1,453.9" stroke="#333" stroke-width="0.7"/><path d="M780.8,449.5L780.8,421.7L774.2,425.5L774.2,453.3" stroke="#555" stroke-width="0.5"/><path d="M722,483.4L722,454.4L713.4,459.4L713.4,488.4" stroke="#333" stroke-width="0.7"/><path d="M721,484L721,456.2L714.4,460L714.4,487.8" stroke="#555" stroke-width="0.5"/><path d="M806.8,415.5L688.1,484" stroke="#777" stroke-width="0.5"/><path d="M767.2,419.3L767.2,457.3M727.7,442.2L727.7,480.2" stroke="#888" stroke-width="0.5"/><path d="M806.8,396.5L688.1,465" stroke-width="3" stroke-linecap="square"/>
<path d="M832.8,415.5L780.8,445.5L780.8,483.5L832.8,453.5Z" fill="#fff" stroke="none"/><path d="M832.8,415.5L832.8,453.5M780.8,445.5L780.8,483.5M832.8,453.5L780.8,483.5" stroke="#1a1a1a" stroke-width="0.8"/><path d="M807.9,467.9L807.9,438.9L799.2,443.9L799.2,472.9" stroke="#333" stroke-width="0.7"/><path d="M806.9,468.5L806.9,440.7L800.3,444.5L800.3,472.3" stroke="#555" stroke-width="0.5"/><path d="M832.8,434.5L780.8,464.5" stroke="#777" stroke-width="0.5"/><path d="M806.8,430.5L806.8,468.5" stroke="#888" stroke-width="0.5"/><path d="M832.8,415.5L780.8,445.5" stroke-width="3" stroke-linecap="square"/>
<path d="M808.5,429.5L824.1,438.5L824.1,476.5L808.5,467.5Z" fill="#fff" stroke="none"/><path d="M808.5,429.5L808.5,467.5M824.1,438.5L824.1,476.5M808.5,467.5L824.1,476.5" stroke="#1a1a1a" stroke-width="0.8"/><path d="M808.5,448.5L824.1,457.5" stroke="#777" stroke-width="0.5"/><path d="M808.5,429.5L824.1,438.5" stroke-width="2.5" stroke-linecap="square"/>
<path d="M871.7,430L928.9,463L928.9,501L871.7,468Z" fill="#fff" stroke="none"/><path d="M871.7,430L871.7,468M928.9,463L928.9,501M871.7,468L928.9,501" stroke="#1a1a1a" stroke-width="0.8"/><path d="M901,484.9L901,455.9L909.7,460.9L909.7,489.9" stroke="#333" stroke-width="0.7"/><path d="M902,485.5L902,457.7L908.6,461.5L908.6,489.3" stroke="#555" stroke-width="0.5"/><path d="M871.7,449L928.9,482" stroke="#777" stroke-width="0.5"/><path d="M900.3,446.5L900.3,484.5" stroke="#888" stroke-width="0.5"/><path d="M871.7,430L928.9,463" stroke-width="4" stroke-linecap="square"/>
<g class="f"><path d="M1144.1,484L1144.1,479M1150.1,486L1150.1,480M1147.1,487L1147.1,481" stroke-width="0.7" fill="none"/><ellipse cx="1147.1" cy="478.5" rx="4.2" ry="2.5" stroke-width="0.8"/><path d="M1143.1,478.5v-6q4,-4 8,0v6" fill="none" stroke-width=".9"/></g>
<g class="f"><use href="#dp016" x="1107.7" y="457.2"/><use href="#dp012" x="1088.7" y="468.2"/><use href="#dp117" x="1110.3" y="458.8"/><use href="#dp014" x="1069.6" y="479.2"/><use href="#dp113" x="1091.3" y="469.8"/><use href="#dp016" x="1050.6" y="490.2"/><use href="#dp115" x="1072.2" y="480.8"/><use href="#dp012" x="1031.5" y="501.2"/><use href="#dp117" x="1053.2" y="491.8"/><use href="#dp113" x="1034.1" y="502.8"/></g>
<g class="f"><path d="M1126.1,469L1126.1,476A3.7,2.1 0 0 0 1133.5,476L1133.5,469Z"/><ellipse cx="1129.8" cy="469" rx="3.7" ry="2.1"/><ellipse cx="1129.8" cy="469" rx="3.1" ry="1.8" fill="none"/></g>
<g class="f"><path d="M623.2,439.5L586,461L586,499L623.2,477.5Z" fill="url(#cu)"/><path d="M623.2,439.5L586,461" stroke="#000" stroke-width="1.8" fill="none"/></g>
<path d="M766.1,440L807.6,464L807.6,502L766.1,478Z" fill="#fff" stroke="none"/><path d="M766.1,440L766.1,478M807.6,464L807.6,502M766.1,478L807.6,502" stroke="#1a1a1a" stroke-width="0.8"/><path d="M778.3,485L778.3,456L786.9,461L786.9,490" stroke="#333" stroke-width="0.7"/><path d="M779.3,485.6L779.3,457.8L785.9,461.6L785.9,489.4" stroke="#555" stroke-width="0.5"/><path d="M766.1,459L807.6,483" stroke="#777" stroke-width="0.5"/><path d="M766.1,440L807.6,464" stroke-width="5" stroke-linecap="square"/>
<path d="M868.3,429L805.9,465L805.9,503L868.3,467Z" fill="#fff" stroke="none"/><path d="M868.3,429L868.3,467M805.9,465L805.9,503M868.3,467L805.9,503" stroke="#1a1a1a" stroke-width="0.8"/><path d="M855,474.7L855,445.7L846.3,450.7L846.3,479.7" stroke="#333" stroke-width="0.7"/><path d="M854,475.3L854,447.5L847.4,451.3L847.4,479.1" stroke="#555" stroke-width="0.5"/><path d="M830.6,488.8L830.6,459.8L821.9,464.8L821.9,493.8" stroke="#333" stroke-width="0.7"/><path d="M829.6,489.4L829.6,461.6L823,465.4L823,493.2" stroke="#555" stroke-width="0.5"/><path d="M868.3,448L805.9,484" stroke="#777" stroke-width="0.5"/><path d="M837.1,447L837.1,485" stroke="#888" stroke-width="0.5"/><path d="M868.3,429L805.9,465" stroke-width="3" stroke-linecap="square"/>
<g class="f"><path d="M760.9,483L779.9,494L779.9,464L760.9,453Z" stroke="#111" stroke-width="0.8"/><path d="M770.4,488.5L770.4,458.5" fill="none"/></g>
<g class="f"><path d="M1131.1,491.5L1131.1,486.5M1137.1,493.5L1137.1,487.5M1134.1,494.5L1134.1,488.5" stroke-width="0.7" fill="none"/><ellipse cx="1134.1" cy="486" rx="4.2" ry="2.5" stroke-width="0.8"/><path d="M1130.1,486v-6q4,-4 8,0v6" fill="none" stroke-width=".9"/></g>
<path d="M660.4,449L688.1,465L688.1,503L660.4,487Z" fill="#fff" stroke="none"/><path d="M660.4,449L660.4,487M688.1,465L688.1,503M660.4,487L688.1,503" stroke="#1a1a1a" stroke-width="0.8"/><path d="M670.9,493L670.9,464L679.5,469L679.5,498" stroke="#333" stroke-width="0.7"/><path d="M671.9,493.6L671.9,465.8L678.5,469.6L678.5,497.4" stroke="#555" stroke-width="0.5"/><path d="M660.4,468L688.1,484" stroke="#777" stroke-width="0.5"/><path d="M660.4,449L688.1,465" stroke-width="3" stroke-linecap="square"/>
<g class="f"><ellipse cx="1122" cy="500.5" rx="3" ry="1.7" stroke-width="0.7"/><path d="M1122,500.5L1122,491.5" stroke-width="1" fill="none"/><ellipse cx="1122" cy="491" rx="5" ry="2.9" stroke-width="0.8"/></g>
<path d="M900.3,448.5L848.4,478.5L848.4,516.5L900.3,486.5Z" fill="#fff" stroke="none"/><path d="M900.3,448.5L900.3,486.5M848.4,478.5L848.4,516.5M900.3,486.5L848.4,516.5" stroke="#1a1a1a" stroke-width="0.8"/><path d="M882.2,496.9L882.2,467.9L873.6,472.9L873.6,501.9" stroke="#333" stroke-width="0.7"/><path d="M881.2,497.5L881.2,469.7L874.6,473.5L874.6,501.3" stroke="#555" stroke-width="0.5"/><path d="M900.3,467.5L848.4,497.5" stroke="#777" stroke-width="0.5"/><path d="M874.3,463.5L874.3,501.5" stroke="#888" stroke-width="0.5"/><path d="M900.3,448.5L848.4,478.5" stroke-width="3" stroke-linecap="square"/>
<g class="f"><path d="M761.8,490.5L792.1,508L792.1,520L761.8,502.5Z"/><path d="M803.3,501.5L792.1,508L792.1,520L803.3,513.5Z"/><path d="M773,484L803.3,501.5L792.1,508L761.8,490.5Z"/></g>
<g class="f"><path d="M625.8,466L657,484L657,487L625.8,469Z" fill="#111" stroke="#000"/><path d="M675.1,473.5L657,484L657,487L675.1,476.5Z" fill="#111" stroke="#000"/><path d="M644,455.5L675.1,473.5L657,484L625.8,466Z" fill="#111" stroke="#000"/></g>
<path d="M875.2,463L902,478.5L902,516.5L875.2,501Z" fill="#fff" stroke="none"/><path d="M875.2,463L875.2,501M902,478.5L902,516.5M875.2,501L902,516.5" stroke="#1a1a1a" stroke-width="0.8"/><path d="M879.2,503.3L879.2,474.3L887.9,479.3L887.9,508.3" stroke="#333" stroke-width="0.7"/><path d="M880.3,503.9L880.3,476.1L886.9,479.9L886.9,507.7" stroke="#555" stroke-width="0.5"/><path d="M875.2,482L902,497.5" stroke="#777" stroke-width="0.5"/><path d="M875.2,463L902,478.5" stroke-width="2.5" stroke-linecap="square"/>
<g class="f"><path d="M708.1,483.5L720.2,490.5L720.2,514.5L708.1,507.5Z" stroke-width="0.8"/><path d="M727.1,486.5L720.2,490.5L720.2,514.5L727.1,510.5Z" stroke-width="0.8"/><path d="M715,479.5L727.1,486.5L720.2,490.5L708.1,483.5Z" stroke-width="0.8"/></g>
<g class="f"><path d="M646.3,505.5L641.2,508" stroke="#111" stroke-width="0.7" fill="none"/><path d="M642.3,506.9L643.7,503.6M653.8,511.2L649.2,514.6M645,502.2L638.7,496.7" stroke="#111" stroke-width="1.3" fill="none"/><path d="M633.5,510.5L637.5,513.3M638,503.1L642.1,505.9" stroke="#111" stroke-width="0.9" fill="none"/><path d="M660.6,505.8L658.4,499.3" stroke="#111" stroke-width="1.3" fill="none"/><path d="M659.8,513.6L653.6,510.7" stroke="#111" stroke-width="0.9" fill="none"/><path d="M635.9,503.3L639.2,505.6" stroke="#111" stroke-width="1.3" fill="none"/><path d="M631.6,511.7L627.3,514.1" stroke="#111" stroke-width="0.9" fill="none"/><path d="M631.7,500.8L632.3,494M649.8,508.1L645.5,501.9" stroke="#111" stroke-width="0.7" fill="none"/><path d="M651.9,501L653,495.9" stroke="#111" stroke-width="1.3" fill="none"/><path d="M654.5,500.2L651.2,500.7" stroke="#111" stroke-width="0.7" fill="none"/><path d="M655.3,511.3L656.3,504.7M644.3,514L639.6,512.6" stroke="#111" stroke-width="1.3" fill="none"/><path d="M643.1,510.3L644.4,511.8M659.2,501.3L664.5,498.3" stroke="#111" stroke-width="0.7" fill="none"/><path d="M644.3,515.3L645.3,508.5" stroke="#111" stroke-width="1.3" fill="none"/><path d="M642,506.4L637.9,504.3" stroke="#111" stroke-width="0.9" fill="none"/><path d="M657.5,504.4L654.5,503.1" stroke="#111" stroke-width="0.7" fill="none"/><path d="M632.3,512L636.6,510.5" stroke="#111" stroke-width="1.3" fill="none"/><path d="M656.3,508.6L650.3,508.7" stroke="#111" stroke-width="0.7" fill="none"/><path d="M662.3,505.9L660.5,508.4" stroke="#111" stroke-width="0.9" fill="none"/><path d="M635.9,504.1L638.6,506.8M633.1,515.1L628.5,518.5" stroke="#111" stroke-width="0.7" fill="none"/><ellipse cx="657.4" cy="509.5" rx="5" ry="5" fill="none" stroke-width="0.9"/><ellipse cx="657.4" cy="509.5" rx="2.5" ry="2.5" fill="none"/></g>
<path d="M928.9,463L865.7,499.5L865.7,537.5L928.9,501Z" fill="#fff" stroke="none"/><path d="M928.9,463L928.9,501M865.7,499.5L865.7,537.5M928.9,501L865.7,537.5" stroke="#1a1a1a" stroke-width="0.8"/><path d="M915.8,508.5L915.8,479.5L907.2,484.5L907.2,513.5" stroke="#333" stroke-width="0.7"/><path d="M914.8,509.1L914.8,481.3L908.2,485.1L908.2,512.9" stroke="#555" stroke-width="0.5"/><path d="M884.6,526.6L884.6,497.6L875.9,502.6L875.9,531.6" stroke="#333" stroke-width="0.7"/><path d="M883.6,527.2L883.6,499.4L877,503.2L877,531" stroke="#555" stroke-width="0.5"/><path d="M928.9,482L865.7,518.5" stroke="#777" stroke-width="0.5"/><path d="M897.3,481.2L897.3,519.2" stroke="#888" stroke-width="0.5"/><path d="M928.9,463L865.7,499.5" stroke-width="3.5" stroke-linecap="square"/>
<path d="M514.1,467.5L566.9,498L566.9,536L514.1,505.5Z" fill="#fff" stroke="none"/><path d="M514.1,467.5L514.1,505.5M514.1,505.5L566.9,536" stroke="#1a1a1a" stroke-width="0.8"/><path d="M528.9,514.1L528.9,485.1L537.6,490.1L537.6,519.1" stroke="#333" stroke-width="0.7"/><path d="M530,514.7L530,486.9L536.5,490.7L536.5,518.5" stroke="#555" stroke-width="0.5"/><path d="M514.1,486.5L566.9,517" stroke="#777" stroke-width="0.5"/><path d="M540.5,482.8L540.5,520.8" stroke="#888" stroke-width="0.5"/><path d="M514.1,467.5L566.9,498" stroke-width="3" stroke-linecap="square"/>
<g class="f"><path d="M511.9,490.5L511.9,512.5A3.9,2.3 0 0 0 519.7,512.5L519.7,490.5Z"/><ellipse cx="515.8" cy="490.5" rx="3.9" ry="2.3"/></g>
<g class="f"><ellipse cx="1083" cy="523" rx="3" ry="1.7" stroke-width="0.7"/><path d="M1083,523L1083,514" stroke-width="1" fill="none"/><ellipse cx="1083" cy="513.5" rx="5" ry="2.9" stroke-width="0.8"/></g>
<g class="f"><path d="M694.2,487.5L698.5,490L698.5,528L694.2,525.5Z" stroke="#111" stroke-width="0.8"/><path d="M702.9,487.5L698.5,490L698.5,528L702.9,525.5Z" stroke="#111" stroke-width="0.8"/><path d="M698.5,485L702.9,487.5L698.5,490L694.2,487.5Z" stroke="#111" stroke-width="0.8"/><path d="M695.5,505.4L697,506.2L697,515.7L695.5,514.9Z" fill="#111" stroke-width="0.3"/><path d="M698.5,485L702.9,487.5L698.5,490L694.2,487.5Z" fill="#111" stroke="#000"/></g>
<path d="M607.6,479.5L635.3,495.5L635.3,533.5L607.6,517.5Z" fill="#fff" stroke="none"/><path d="M607.6,479.5L607.6,517.5M635.3,495.5L635.3,533.5M607.6,517.5L635.3,533.5" stroke="#1a1a1a" stroke-width="0.8"/><path d="M620,524.7L620,495.7L628.7,500.7L628.7,529.7" stroke="#333" stroke-width="0.7"/><path d="M621.1,525.3L621.1,497.5L627.6,501.3L627.6,529.1" stroke="#555" stroke-width="0.5"/><path d="M607.6,498.5L635.3,514.5" stroke="#777" stroke-width="0.5"/><path d="M607.6,479.5L635.3,495.5" stroke-width="2.5" stroke-linecap="square"/>
<path d="M831,479.5L866.5,500L866.5,538L831,517.5Z" fill="#fff" stroke="none"/><path d="M831,479.5L831,517.5M866.5,500L866.5,538M831,517.5L866.5,538" stroke="#1a1a1a" stroke-width="0.8"/><path d="M849.3,528L849.3,499L857.9,504L857.9,533" stroke="#333" stroke-width="0.7"/><path d="M850.3,528.6L850.3,500.8L856.9,504.6L856.9,532.4" stroke="#555" stroke-width="0.5"/><path d="M831,498.5L866.5,519" stroke="#777" stroke-width="0.5"/><path d="M831,479.5L866.5,500" stroke-width="7" stroke-linecap="square"/>
<path d="M595.5,481.5L566.9,498L566.9,536L595.5,519.5Z" fill="#fff" stroke="none"/><path d="M595.5,481.5L595.5,519.5M595.5,519.5L566.9,536" stroke="#1a1a1a" stroke-width="0.8"/><path d="M582.4,527L582.4,498L573.8,503L573.8,532" stroke="#333" stroke-width="0.7"/><path d="M581.4,527.6L581.4,499.8L574.8,503.6L574.8,531.4" stroke="#555" stroke-width="0.5"/><path d="M595.5,500.5L566.9,517" stroke="#777" stroke-width="0.5"/><path d="M595.5,481.5L566.9,498" stroke-width="2.5" stroke-linecap="square"/>
<g class="f"><path d="M1066.2,529L1066.2,524M1072.2,531L1072.2,525M1069.2,532L1069.2,526" stroke-width="0.7" fill="none"/><ellipse cx="1069.2" cy="523.5" rx="4.2" ry="2.5" stroke-width="0.8"/><path d="M1065.2,523.5v-6q4,-4 8,0v6" fill="none" stroke-width=".9"/></g>
<path d="M495.9,468L405.8,520L405.8,558L495.9,506Z" fill="#fff" stroke="none"/><path d="M495.9,468L495.9,506M405.8,520L405.8,558M495.9,506L405.8,558" stroke="#1a1a1a" stroke-width="0.8"/><path d="M478.7,515.9L478.7,486.9L470.1,491.9L470.1,520.9" stroke="#333" stroke-width="0.7"/><path d="M477.7,516.5L477.7,488.7L471.1,492.5L471.1,520.3" stroke="#555" stroke-width="0.5"/><path d="M429.1,544.6L429.1,515.6L420.4,520.6L420.4,549.6" stroke="#333" stroke-width="0.7"/><path d="M428,545.2L428,517.4L421.4,521.2L421.4,549" stroke="#555" stroke-width="0.5"/><path d="M495.9,487L405.8,539" stroke="#777" stroke-width="0.5"/><path d="M450.9,494L450.9,532" stroke="#888" stroke-width="0.5"/><path d="M495.9,468L405.8,520" stroke-width="4" stroke-linecap="square"/>
<g class="f"><path d="M792.9,509.5L844.9,539.5L844.9,553.5L792.9,523.5Z" stroke-width="0.7"/><path d="M858.7,531.5L844.9,539.5L844.9,553.5L858.7,545.5Z" stroke-width="0.7"/><path d="M806.8,501.5L858.7,531.5L844.9,539.5L792.9,509.5Z" stroke-width="0.7"/><path d="M858.7,533.5L844.9,541.5M858.7,538.5L844.9,546.5" fill="none"/></g>
<g class="f"><path d="M518.9,534.9L523,538.2" stroke="#111" stroke-width="1.3" fill="none"/><path d="M519.8,531.5L524.6,533M519.7,537.4L514.3,535.6" stroke="#111" stroke-width="0.7" fill="none"/><path d="M511.1,524.6L507.6,525.7" stroke="#111" stroke-width="0.9" fill="none"/><path d="M507.9,537.7L511.6,532.4M503.4,532.9L498.2,525.9" stroke="#111" stroke-width="0.7" fill="none"/><path d="M505.6,526.4L512.4,529" stroke="#111" stroke-width="0.9" fill="none"/><path d="M509,526.2L514.2,526.1" stroke="#111" stroke-width="0.7" fill="none"/><path d="M529.1,534.1L535.6,536.9M499.6,529.6L505.7,525.5M508.6,532.6L501.6,533.1" stroke="#111" stroke-width="0.9" fill="none"/><path d="M501.1,528.7L498.3,529.3M514.3,534.3L508.1,538" stroke="#111" stroke-width="0.7" fill="none"/><path d="M529.3,528.7L528,527.8" stroke="#111" stroke-width="0.9" fill="none"/><path d="M510.7,532.3L503.8,525.8" stroke="#111" stroke-width="0.7" fill="none"/><path d="M518.9,538.3L513.6,534" stroke="#111" stroke-width="0.9" fill="none"/><path d="M510,528.7L510.3,530.2" stroke="#111" stroke-width="0.7" fill="none"/><path d="M517.8,535.5L516,531.8" stroke="#111" stroke-width="0.9" fill="none"/><path d="M529.2,524.5L527,524.2" stroke="#111" stroke-width="0.7" fill="none"/><path d="M509.8,537.8L510.5,534.2M508.7,535.8L510.5,536.7" stroke="#111" stroke-width="0.9" fill="none"/><path d="M530.8,525.6L524.5,529.4" stroke="#111" stroke-width="1.3" fill="none"/><path d="M528.5,523.5L531.9,520.3" stroke="#111" stroke-width="0.9" fill="none"/><path d="M513.5,529.7L507.3,532.8" stroke="#111" stroke-width="0.7" fill="none"/><path d="M524.6,528.3L520.5,532.1" stroke="#111" stroke-width="1.3" fill="none"/><path d="M529.3,533.1L533.4,527.3" stroke="#111" stroke-width="0.9" fill="none"/><ellipse cx="524.9" cy="533" rx="5" ry="5" fill="none" stroke-width="0.9"/><ellipse cx="524.9" cy="533" rx="2.5" ry="2.5" fill="none"/></g>
<path d="M953.1,476L1032.8,522L1032.8,560L953.1,514Z" fill="#fff" stroke="none"/><path d="M953.1,476L953.1,514M1032.8,522L1032.8,560M953.1,514L1032.8,560" stroke="#1a1a1a" stroke-width="0.8"/><path d="M969,523.2L969,494.2L977.7,499.2L977.7,528.2" stroke="#333" stroke-width="0.7"/><path d="M970.1,523.8L970.1,496L976.6,499.8L976.6,527.6" stroke="#555" stroke-width="0.5"/><path d="M1004,543.4L1004,514.4L1012.6,519.4L1012.6,548.4" stroke="#333" stroke-width="0.7"/><path d="M1005,544L1005,516.2L1011.6,520L1011.6,547.8" stroke="#555" stroke-width="0.5"/><path d="M953.1,495L1032.8,541" stroke="#777" stroke-width="0.5"/><path d="M993,499L993,537" stroke="#888" stroke-width="0.5"/><path d="M953.1,476L1032.8,522" stroke-width="5" stroke-linecap="square"/>
<path d="M566.9,498L563.4,500L563.4,538L566.9,536Z" fill="#fff" stroke="none"/><path d="M563.4,500L563.4,538M566.9,536L563.4,538" stroke="#1a1a1a" stroke-width="0.8"/><path d="M566.9,498L563.4,500" stroke-width="2.5" stroke-linecap="square"/>
<g class="f"><path d="M1053.2,536.5L1053.2,531.5M1059.2,538.5L1059.2,532.5M1056.2,539.5L1056.2,533.5" stroke-width="0.7" fill="none"/><ellipse cx="1056.2" cy="531" rx="4.2" ry="2.5" stroke-width="0.8"/><path d="M1052.2,531v-6q4,-4 8,0v6" fill="none" stroke-width=".9"/></g>
<g class="f"><path d="M476.2,532.2L474.4,531.9M487.2,533.2L492.9,531.4" stroke="#111" stroke-width="1.3" fill="none"/><path d="M476.1,539.4L475.7,541.6" stroke="#111" stroke-width="0.9" fill="none"/><path d="M481.3,537.3L477.6,531.9M481.1,523.7L485,518.5M470,536L474.5,531.9" stroke="#111" stroke-width="1.3" fill="none"/><path d="M491.6,537.6L494.6,540.7M491.9,532.7L498.4,527.2M471.7,525.7L467.8,529.3" stroke="#111" stroke-width="0.9" fill="none"/><path d="M493.6,537.2L492.5,539.4M479.9,532.9L481,535.8M497.9,524L494.8,523.6M473.8,537.3L480.4,540.2" stroke="#111" stroke-width="1.3" fill="none"/><path d="M472,534L473.8,537.9" stroke="#111" stroke-width="0.9" fill="none"/><path d="M477.7,524.5L482.7,528.4" stroke="#111" stroke-width="0.7" fill="none"/><path d="M479.6,524.6L485.2,517.8" stroke="#111" stroke-width="0.9" fill="none"/><path d="M493.2,537.5L486.9,537.2" stroke="#111" stroke-width="0.7" fill="none"/><path d="M480.7,532.9L481.4,536" stroke="#111" stroke-width="0.9" fill="none"/><path d="M484.8,539.5L482.1,533.3" stroke="#111" stroke-width="1.3" fill="none"/><path d="M485.8,538.7L492.4,534.9" stroke="#111" stroke-width="0.9" fill="none"/><path d="M473.6,524.2L478.8,520.6" stroke="#111" stroke-width="0.7" fill="none"/><path d="M497.3,529.5L496.8,528.3M496.4,534.4L490.8,538.1" stroke="#111" stroke-width="1.3" fill="none"/><path d="M477.3,533.6L480.3,536.9M499.9,531.8L500.6,525" stroke="#111" stroke-width="0.9" fill="none"/><path d="M500.2,528.5L498.5,528" stroke="#111" stroke-width="0.7" fill="none"/><ellipse cx="494.6" cy="533.5" rx="5" ry="5" fill="none" stroke-width="0.9"/><ellipse cx="494.6" cy="533.5" rx="2.5" ry="2.5" fill="none"/></g>
<path d="M635.3,495.5L598.9,516.5L598.9,554.5L635.3,533.5Z" fill="#fff" stroke="none"/><path d="M635.3,495.5L635.3,533.5M598.9,516.5L598.9,554.5M635.3,533.5L598.9,554.5" stroke="#1a1a1a" stroke-width="0.8"/><path d="M623.9,540.1L623.9,511.1L615.2,516.1L615.2,545.1" stroke="#333" stroke-width="0.7"/><path d="M622.8,540.7L622.8,512.9L616.2,516.7L616.2,544.5" stroke="#555" stroke-width="0.5"/><path d="M635.3,514.5L598.9,535.5" stroke="#777" stroke-width="0.5"/><path d="M635.3,495.5L598.9,516.5" stroke-width="2.5" stroke-linecap="square"/>
<path d="M566.9,498L595.5,514.5L595.5,552.5L566.9,536Z" fill="#fff" stroke="none"/><path d="M595.5,514.5L595.5,552.5M566.9,536L595.5,552.5" stroke="#1a1a1a" stroke-width="0.8"/><path d="M575.6,541L575.6,512L584.2,517L584.2,546" stroke="#333" stroke-width="0.7"/><path d="M576.6,541.6L576.6,513.8L583.2,517.6L583.2,545.4" stroke="#555" stroke-width="0.5"/><path d="M566.9,517L595.5,533.5" stroke="#777" stroke-width="0.5"/><path d="M566.9,498L595.5,514.5" stroke-width="3" stroke-linecap="square"/>
<g class="f"><ellipse cx="1044.1" cy="545.5" rx="3" ry="1.7" stroke-width="0.7"/><path d="M1044.1,545.5L1044.1,536.5" stroke-width="1" fill="none"/><ellipse cx="1044.1" cy="536" rx="5" ry="2.9" stroke-width="0.8"/></g>
<g class="f"><path d="M634.4,540L639.6,543L639.6,557L634.4,554Z"/><path d="M672.6,524L639.6,543L639.6,557L672.6,538Z"/><path d="M667.4,521L672.6,524L639.6,543L634.4,540Z"/><use href="#fo0" x="665.8" y="523.9"/><use href="#fo1" x="657.6" y="528.6"/><use href="#fo2" x="649.4" y="533.4"/><use href="#fo0" x="641.2" y="538.1"/></g>
<g class="f"><path d="M458.9,540.2L457.4,534.9M451.9,547.3L449,551.2M458.4,547.1L455.3,542" stroke="#111" stroke-width="0.7" fill="none"/><path d="M459.7,553.6L453,553.6" stroke="#111" stroke-width="0.9" fill="none"/><path d="M476.9,541.6L474.3,541.5" stroke="#111" stroke-width="1.3" fill="none"/><path d="M482.1,552.1L480.3,554.4" stroke="#111" stroke-width="0.9" fill="none"/><path d="M472.8,546.6L468.3,544.8M481.5,551.6L487.7,553.8" stroke="#111" stroke-width="0.7" fill="none"/><path d="M480.4,547.7L485.7,550" stroke="#111" stroke-width="1.3" fill="none"/><path d="M457.6,545.3L454.6,543.2" stroke="#111" stroke-width="0.7" fill="none"/><path d="M461.1,551.5L454.7,545" stroke="#111" stroke-width="1.3" fill="none"/><path d="M483.2,546.8L485.3,547.5" stroke="#111" stroke-width="0.7" fill="none"/><path d="M483.2,541.6L482,536.9M465.4,541.4L464.5,540.9" stroke="#111" stroke-width="1.3" fill="none"/><path d="M469.2,553L463.6,546.6M460.2,547.8L465.3,542.2" stroke="#111" stroke-width="0.7" fill="none"/><path d="M460.6,538.9L458.6,532.8" stroke="#111" stroke-width="0.9" fill="none"/><path d="M474.8,553.9L468.1,550M476.1,545.1L482.3,544.9" stroke="#111" stroke-width="0.7" fill="none"/><path d="M460.7,541.6L459.9,536.1M470.5,541L471.5,538" stroke="#111" stroke-width="0.9" fill="none"/><path d="M456.7,551L454.8,547.2M465.4,541.8L471.2,536.1M453.1,541.2L455.6,535.8" stroke="#111" stroke-width="0.7" fill="none"/><path d="M468.8,547.8L466.3,541.2" stroke="#111" stroke-width="1.3" fill="none"/><path d="M460.7,554.5L462.8,549.7" stroke="#111" stroke-width="0.7" fill="none"/><ellipse cx="477.3" cy="548.5" rx="5" ry="5" fill="none" stroke-width="0.9"/><ellipse cx="477.3" cy="548.5" rx="2.5" ry="2.5" fill="none"/></g>
<g class="f"><path d="M951,516L997,516M952.2,518.3L994.4,518.3M953.4,520.6L991.8,520.6M954.6,522.9L989.2,522.9M955.8,525.2L986.6,525.2M957,527.5L984,527.5M958.2,529.8L981.4,529.8M959.4,532.1L978.8,532.1M960.6,534.4L976.2,534.4M961.8,536.7L973.6,536.7M963,539L971,539" stroke="#222" stroke-width="0.7" fill="none"/><path d="M953,517L978,540" fill="none"/><path d="M927.5,531.1L945.7,520.8L948.9,523.2L931.4,533.5Z" fill="#111" stroke="#000"/><path d="M934.7,535.4L952.2,525.1M938,537.3L955.5,527M941.3,539.2L958.8,528.9M944.6,541.1L962.1,530.8M947.9,543L965.4,532.7M951.2,544.9L968.7,534.6" stroke-width="0.7" fill="none"/><path d="M948.9,546.2L999.7,516L1017.1,525.6L967.9,555.7Z" stroke="#111" stroke-width="0.8"/><path d="M967.9,557.7L1017.1,527.6" stroke-width="0.7" fill="none"/><path d="M975,556L1015,532L1012,548Z" fill="#bbb" stroke="#666" stroke-width="0.4"/></g>
<path d="M571.2,500.5L478.6,554L478.6,592L571.2,538.5Z" fill="#fff" stroke="none"/><path d="M571.2,500.5L571.2,538.5M478.6,554L478.6,592M571.2,538.5L478.6,592" stroke="#1a1a1a" stroke-width="0.8"/><path d="M553.5,548.8L553.5,519.8L544.8,524.8L544.8,553.8" stroke="#333" stroke-width="0.7"/><path d="M552.4,549.4L552.4,521.6L545.8,525.4L545.8,553.2" stroke="#555" stroke-width="0.5"/><path d="M510.5,573.6L510.5,544.6L501.8,549.6L501.8,578.6" stroke="#333" stroke-width="0.7"/><path d="M509.5,574.2L509.5,546.4L502.9,550.2L502.9,578" stroke="#555" stroke-width="0.5"/><path d="M571.2,519.5L478.6,573" stroke="#777" stroke-width="0.5"/><path d="M524.9,527.2L524.9,565.2" stroke="#888" stroke-width="0.5"/><path d="M571.2,500.5L478.6,554" stroke-width="2.5" stroke-linecap="square"/>
<path d="M595.5,514.5L559.1,535.5L559.1,573.5L595.5,552.5Z" fill="#fff" stroke="none"/><path d="M595.5,514.5L595.5,552.5M595.5,552.5L559.1,573.5" stroke="#1a1a1a" stroke-width="0.8"/><path d="M572.2,566L572.2,537L563.5,542L563.5,571" stroke="#333" stroke-width="0.7"/><path d="M571.1,566.6L571.1,538.8L564.5,542.6L564.5,570.4" stroke="#555" stroke-width="0.5"/><path d="M595.5,533.5L559.1,554.5" stroke="#777" stroke-width="0.5"/><path d="M595.5,514.5L559.1,535.5" stroke-width="3" stroke-linecap="square"/>
<path d="M534.9,521.5L559.1,535.5L559.1,573.5L534.9,559.5Z" fill="#fff" stroke="none"/><path d="M534.9,521.5L534.9,559.5M534.9,559.5L559.1,573.5" stroke="#1a1a1a" stroke-width="0.8"/><path d="M544.1,564.8L544.1,535.8L552.7,540.8L552.7,569.8" stroke="#333" stroke-width="0.7"/><path d="M545.1,565.4L545.1,537.6L551.7,541.4L551.7,569.2" stroke="#555" stroke-width="0.5"/><path d="M534.9,540.5L559.1,554.5" stroke="#777" stroke-width="0.5"/><path d="M534.9,521.5L559.1,535.5" stroke-width="2.5" stroke-linecap="square"/>
<g class="f"><path d="M619.7,530.5L624.1,533L624.1,571L619.7,568.5Z" stroke="#111" stroke-width="0.8"/><path d="M628.4,530.5L624.1,533L624.1,571L628.4,568.5Z" stroke="#111" stroke-width="0.8"/><path d="M624.1,528L628.4,530.5L624.1,533L619.7,530.5Z" stroke="#111" stroke-width="0.8"/><path d="M621,548.4L622.5,549.2L622.5,558.7L621,557.9Z" fill="#111" stroke-width="0.3"/><path d="M624.1,528L628.4,530.5L624.1,533L619.7,530.5Z" fill="#111" stroke="#000"/></g>
<path d="M559.1,535.5L562.6,537.5L562.6,575.5L559.1,573.5Z" fill="#fff" stroke="none"/><path d="M562.6,537.5L562.6,575.5M559.1,573.5L562.6,575.5" stroke="#1a1a1a" stroke-width="0.8"/><path d="M559.1,535.5L562.6,537.5" stroke-width="2.5" stroke-linecap="square"/>
<g class="f"><path d="M566.9,547L580.8,555L580.8,585L566.9,577Z" stroke="#111" stroke-width="0.8"/><path d="M591.1,549L580.8,555L580.8,585L591.1,579Z" stroke="#111" stroke-width="0.8"/><path d="M577.3,541L591.1,549L580.8,555L566.9,547Z" stroke="#111" stroke-width="0.8"/><path d="M568.2,549.8L579.5,556.2L579.5,582.2L568.2,575.8Z" fill="none" stroke="#111" stroke-width="1.1"/><path d="M569.5,552.5L578.2,557.5L578.2,579.5L569.5,574.5Z" fill="none"/></g>
<path d="M514.9,533L539.2,547L539.2,585L514.9,571Z" fill="#fff" stroke="none"/><path d="M514.9,533L514.9,571M514.9,571L539.2,585" stroke="#1a1a1a" stroke-width="0.8"/><path d="M529.5,579.4L529.5,550.4L538.1,555.4L538.1,584.4" stroke="#333" stroke-width="0.7"/><path d="M530.5,580L530.5,552.2L537.1,556L537.1,583.8" stroke="#555" stroke-width="0.5"/><path d="M514.9,552L539.2,566" stroke="#777" stroke-width="0.5"/><path d="M514.9,533L539.2,547" stroke-width="2.5" stroke-linecap="square"/>
<path d="M559.1,535.5L539.2,547L539.2,585L559.1,573.5Z" fill="#fff" stroke="none"/><path d="M559.1,573.5L539.2,585" stroke="#1a1a1a" stroke-width="0.8"/><path d="M559.1,554.5L539.2,566" stroke="#777" stroke-width="0.5"/><path d="M559.1,535.5L539.2,547" stroke-width="3" stroke-linecap="square"/>
<g class="f"><path d="M554.8,554L568.6,562L568.6,592L554.8,584Z" stroke="#111" stroke-width="0.8"/><path d="M579,556L568.6,562L568.6,592L579,586Z" stroke="#111" stroke-width="0.8"/><path d="M565.2,548L579,556L568.6,562L554.8,554Z" stroke="#111" stroke-width="0.8"/><path d="M556.1,556.8L567.3,563.2L567.3,589.2L556.1,582.8Z" fill="none" stroke="#111" stroke-width="1.1"/><path d="M557.4,559.5L566,564.5L566,586.5L557.4,581.5Z" fill="none"/></g>
<path d="M539.2,547L542.7,549L542.7,587L539.2,585Z" fill="#fff" stroke="none"/><path d="M542.7,549L542.7,587M539.2,585L542.7,587" stroke="#1a1a1a" stroke-width="0.8"/><path d="M539.2,547L542.7,549" stroke-width="2.5" stroke-linecap="square"/>
<path d="M539.2,547L499.4,570L499.4,608L539.2,585Z" fill="#fff" stroke="none"/><path d="M499.4,570L499.4,608M539.2,585L499.4,608" stroke="#1a1a1a" stroke-width="0.8"/><path d="M532.9,588.6L532.9,559.6L524.2,564.6L524.2,593.6" stroke="#333" stroke-width="0.7"/><path d="M531.9,589.2L531.9,561.4L525.3,565.2L525.3,593" stroke="#555" stroke-width="0.5"/><path d="M539.2,566L499.4,589" stroke="#777" stroke-width="0.5"/><path d="M539.2,547L499.4,570" stroke-width="3" stroke-linecap="square"/>
<path d="M409.3,518L534,590L534,628L409.3,556Z" fill="#fff" stroke="none"/><path d="M409.3,518L409.3,556M534,590L534,628M409.3,556L534,628" stroke="#1a1a1a" stroke-width="0.8"/><path d="M433.1,569.8L433.1,540.8L441.8,545.8L441.8,574.8" stroke="#333" stroke-width="0.7"/><path d="M434.2,570.4L434.2,542.6L440.7,546.4L440.7,574.2" stroke="#555" stroke-width="0.5"/><path d="M502.7,610L502.7,581L511.4,586L511.4,615" stroke="#333" stroke-width="0.7"/><path d="M503.8,610.6L503.8,582.8L510.4,586.6L510.4,614.4" stroke="#555" stroke-width="0.5"/><path d="M409.3,537L534,609" stroke="#777" stroke-width="0.5"/><path d="M450.9,542L450.9,580M492.4,566L492.4,604" stroke="#888" stroke-width="0.5"/><path d="M409.3,518L534,590" stroke-width="4.5" stroke-linecap="square"/>
<path d="M409.3,522L342.6,560.5L342.6,598.5L409.3,560Z" fill="#fff" stroke="none"/><path d="M409.3,522L409.3,560M342.6,560.5L342.6,598.5M409.3,560L342.6,598.5" stroke="#1a1a1a" stroke-width="0.8"/><path d="M397.2,567L397.2,541L386.8,547L386.8,573" stroke="#333" stroke-width="0.7"/><path d="M396.1,567.6L396.1,542.8L387.8,547.6L387.8,572.4" stroke="#555" stroke-width="0.5"/><path d="M366.9,584.5L366.9,558.5L356.5,564.5L356.5,590.5" stroke="#333" stroke-width="0.7"/><path d="M365.8,585.1L365.8,560.3L357.5,565.1L357.5,589.9" stroke="#555" stroke-width="0.5"/><path d="M409.3,541L342.6,579.5" stroke="#777" stroke-width="0.5"/><path d="M375.9,541.2L375.9,579.2" stroke="#888" stroke-width="0.5"/><path d="M409.3,522L342.6,560.5" stroke-width="2.6" stroke-linecap="square"/>
<g class="f"><path d="M380.7,585.5L402.4,598L402.4,620L380.7,607.5Z" stroke-width="0.7"/><path d="M447.4,572L402.4,598L402.4,620L447.4,594Z" stroke-width="0.7"/><path d="M425.7,559.5L447.4,572L402.4,598L380.7,585.5Z" stroke-width="0.7"/></g>
<path d="M978.2,552.5L1019,576L1019,614L978.2,590.5Z" fill="#fff" stroke="none"/><path d="M978.2,552.5L978.2,590.5M1019,576L1019,614M978.2,590.5L1019,614" stroke="#1a1a1a" stroke-width="0.8"/><path d="M989.4,596.9L989.4,567.9L998,572.9L998,601.9" stroke="#333" stroke-width="0.7"/><path d="M990.4,597.5L990.4,569.7L997,573.5L997,601.3" stroke="#555" stroke-width="0.5"/><path d="M978.2,571.5L1019,595" stroke="#777" stroke-width="0.5"/><path d="M978.2,552.5L1019,576" stroke-width="5" stroke-linecap="square"/>
<path d="M979.1,553L967,560L967,598L979.1,591Z" fill="#fff" stroke="none"/><path d="M979.1,553L979.1,591M967,560L967,598M979.1,591L967,598" stroke="#1a1a1a" stroke-width="0.8"/><path d="M979.1,553L967,560" stroke-width="4" stroke-linecap="square"/>
<path d="M887.3,514L967.9,560.5L967.9,598.5L887.3,552Z" fill="#fff" stroke="none"/><path d="M887.3,514L887.3,552M967.9,560.5L967.9,598.5M887.3,552L967.9,598.5" stroke="#1a1a1a" stroke-width="0.8"/><path d="M899.9,559.3L899.9,530.3L908.6,535.3L908.6,564.3" stroke="#333" stroke-width="0.7"/><path d="M900.9,559.9L900.9,532.1L907.5,535.9L907.5,563.7" stroke="#555" stroke-width="0.5"/><path d="M940.7,582.8L940.7,553.8L949.4,558.8L949.4,587.8" stroke="#333" stroke-width="0.7"/><path d="M941.8,583.4L941.8,555.6L948.3,559.4L948.3,587.2" stroke="#555" stroke-width="0.5"/><path d="M887.3,533L967.9,579.5" stroke="#777" stroke-width="0.5"/><path d="M927.6,537.2L927.6,575.2" stroke="#888" stroke-width="0.5"/><path d="M887.3,514L967.9,560.5" stroke-width="5" stroke-linecap="square"/>
<g class="f"><path d="M889.1,538L941,568L941,593L889.1,563Z" stroke="#111" stroke-width="0.8"/><path d="M948.8,563.5L941,568L941,593L948.8,588.5Z" stroke="#111" stroke-width="0.8"/><path d="M896.8,533.5L948.8,563.5L941,568L889.1,538Z" stroke="#111" stroke-width="0.8"/><path d="M943.7,565L942.6,563.3M899.4,539.3L899.5,538.1M943.7,564.7L945.7,564M913,546.7L912.4,546.1M933.2,557.1L934.4,556M906.6,544.6L906.2,542M914.9,546.3L914.9,544.9M943.8,562.9L942.5,561.8M894.5,536.2L896.4,535.6M932.9,558.9L931.7,557.3M901.8,538.6L902.6,538M937.8,561.4L936.5,560.5M926.6,553.8L925.4,551.8M913.9,548.3L915.9,546.3M905.4,542.5L903.6,540.6" stroke="#111" stroke-width="1" fill="none"/><path d="M894.8,566.3L894.8,541.3M900.6,569.7L900.6,544.7M906.4,573L906.4,548M912.1,576.3L912.1,551.3M917.9,579.7L917.9,554.7M923.7,583L923.7,558M929.5,586.3L929.5,561.3M935.2,589.7L935.2,564.7M889.1,556.8L941,586.8M889.1,550.5L941,580.5M889.1,544.2L941,574.2" stroke="#111" stroke-width="0.9" fill="none"/><path d="M948.8,582.2L941,586.8M948.8,576L941,580.5M948.8,569.8L941,574.2" fill="none"/></g>
<g class="f"><path d="M879.1,573.5L879.1,582.5A7.3,4.2 0 0 0 893.8,582.5L893.8,573.5Z"/><ellipse cx="886.5" cy="573.5" rx="7.3" ry="4.2"/><ellipse cx="886.5" cy="573.5" rx="6.2" ry="3.6" fill="none"/></g>
<g class="f"><path d="M882.6,581.5L882.6,587.5A7.3,4.2 0 0 0 897.3,587.5L897.3,581.5Z"/><ellipse cx="889.9" cy="581.5" rx="7.3" ry="4.2"/><ellipse cx="889.9" cy="581.5" rx="6.2" ry="3.6" fill="none"/></g>
<g class="f"><path d="M884.3,588.5L884.3,592.5A7.3,4.2 0 0 0 899,592.5L899,588.5Z"/><ellipse cx="891.7" cy="588.5" rx="7.3" ry="4.2"/><ellipse cx="891.7" cy="588.5" rx="6.2" ry="3.6" fill="none"/></g>
<g class="f"><path d="M903.8,582.5L906.4,584L906.4,596L903.8,594.5Z"/><path d="M915.9,578.5L906.4,584L906.4,596L915.9,590.5Z"/><path d="M913.3,577L915.9,578.5L906.4,584L903.8,582.5Z"/><path d="M913.3,583L920.2,587L920.2,596L913.3,592Z"/><path d="M922.8,585.5L920.2,587L920.2,596L922.8,594.5Z"/><path d="M915.9,581.5L922.8,585.5L920.2,587L913.3,583Z"/><path d="M909,588.5L915.9,592.5L915.9,598.5L909,594.5Z"/><path d="M920.2,590L915.9,592.5L915.9,598.5L920.2,596Z"/><path d="M913.3,586L920.2,590L915.9,592.5L909,588.5Z"/><path d="M906.4,587L913.3,591L913.3,600L906.4,596Z"/><path d="M915.9,589.5L913.3,591L913.3,600L915.9,598.5Z"/><path d="M909,585.5L915.9,589.5L913.3,591L906.4,587Z"/></g>
<g class="f"><path d="M873.5,581L883,586.5L883,598.5L873.5,593Z"/><path d="M885.6,585L883,586.5L883,598.5L885.6,597Z"/><path d="M876.1,579.5L885.6,585L883,586.5L873.5,581Z"/><path d="M866.5,588L869.1,589.5L869.1,598.5L866.5,597Z"/><path d="M876.1,585.5L869.1,589.5L869.1,598.5L876.1,594.5Z"/><path d="M873.5,584L876.1,585.5L869.1,589.5L866.5,588Z"/><path d="M869.1,592.5L873.5,595L873.5,601L869.1,598.5Z"/><path d="M880.4,591L873.5,595L873.5,601L880.4,597Z"/><path d="M876.1,588.5L880.4,591L873.5,595L869.1,592.5Z"/><path d="M873.5,592L876.1,593.5L876.1,602.5L873.5,601Z"/><path d="M883,589.5L876.1,593.5L876.1,602.5L883,598.5Z"/><path d="M880.4,588L883,589.5L876.1,593.5L873.5,592Z"/></g>
<g class="f"><path d="M960.1,569L975.7,578L975.7,609L960.1,600Z" stroke="#111" stroke-width="0.8"/><path d="M986,572L975.7,578L975.7,609L986,603Z" stroke="#111" stroke-width="0.8"/><path d="M970.5,563L986,572L975.7,578L960.1,569Z" stroke="#111" stroke-width="0.8"/><path d="M961.4,571.8L974.4,579.2L974.4,606.2L961.4,598.8Z" fill="none" stroke="#111" stroke-width="1.1"/><path d="M962.7,574.5L973.1,580.5L973.1,603.5L962.7,597.5Z" fill="none"/></g>
<path d="M343.5,561L321,574L321,612L343.5,599Z" fill="#fff" stroke="none"/><path d="M343.5,561L343.5,599M321,574L321,612M343.5,599L321,612" stroke="#1a1a1a" stroke-width="0.8"/><path d="M339.2,601.5L339.2,572.5L330.5,577.5L330.5,606.5" stroke="#333" stroke-width="0.7"/><path d="M338.1,602.1L338.1,574.3L331.6,578.1L331.6,605.9" stroke="#555" stroke-width="0.5"/><path d="M343.5,580L321,593" stroke="#777" stroke-width="0.5"/><path d="M343.5,561L321,574" stroke-width="3.5" stroke-linecap="square"/>
<g class="f"><path d="M442.2,579L469.9,595L469.9,619L442.2,603Z" stroke-width="0.7"/><path d="M482.9,587.5L469.9,595L469.9,619L482.9,611.5Z" stroke-width="0.7"/><path d="M455.2,571.5L482.9,587.5L469.9,595L442.2,579Z" stroke-width="0.7"/><path d="M455.2,572.2L481.2,587.2L469.9,593.7L443.9,578.7Z" fill="#111"/></g>
<g class="f"><path d="M976.5,578.5L992.1,587.5L992.1,618.5L976.5,609.5Z" stroke="#111" stroke-width="0.8"/><path d="M1002.5,581.5L992.1,587.5L992.1,618.5L1002.5,612.5Z" stroke="#111" stroke-width="0.8"/><path d="M986.9,572.5L1002.5,581.5L992.1,587.5L976.5,578.5Z" stroke="#111" stroke-width="0.8"/><path d="M977.8,581.2L990.8,588.8L990.8,615.8L977.8,608.2Z" fill="none" stroke="#111" stroke-width="1.1"/><path d="M979.1,584L989.5,590L989.5,613L979.1,607Z" fill="none"/></g>
<g class="f"><path d="M545.2,573.5L549.6,576L549.6,614L545.2,611.5Z" stroke="#111" stroke-width="0.8"/><path d="M553.9,573.5L549.6,576L549.6,614L553.9,611.5Z" stroke="#111" stroke-width="0.8"/><path d="M549.6,571L553.9,573.5L549.6,576L545.2,573.5Z" stroke="#111" stroke-width="0.8"/><path d="M546.5,591.4L548,592.2L548,601.7L546.5,600.9Z" fill="#111" stroke-width="0.3"/><path d="M549.6,571L553.9,573.5L549.6,576L545.2,573.5Z" fill="#111" stroke="#000"/></g>
<g class="f"><path d="M847.5,574L851.8,576.5L851.8,614.5L847.5,612Z" stroke="#111" stroke-width="0.8"/><path d="M856.1,574L851.8,576.5L851.8,614.5L856.1,612Z" stroke="#111" stroke-width="0.8"/><path d="M851.8,571.5L856.1,574L851.8,576.5L847.5,574Z" stroke="#111" stroke-width="0.8"/><path d="M848.8,591.9L850.3,592.7L850.3,602.2L848.8,601.4Z" fill="#111" stroke-width="0.3"/><path d="M851.8,571.5L856.1,574L851.8,576.5L847.5,574Z" fill="#111" stroke="#000"/></g>
<g class="f"><path d="M427.5,587.5L455.2,603.5L455.2,627.5L427.5,611.5Z" stroke-width="0.7"/><path d="M468.2,596L455.2,603.5L455.2,627.5L468.2,620Z" stroke-width="0.7"/><path d="M440.5,580L468.2,596L455.2,603.5L427.5,587.5Z" stroke-width="0.7"/><path d="M440.5,580.7L466.4,595.7L455.2,602.2L429.2,587.2Z" fill="#111"/></g>
<g class="f"><path d="M999.4,608.5L999.4,616.5A3.1,1.8 0 0 0 1005.6,616.5L1005.6,608.5Z"/><ellipse cx="1002.5" cy="608.5" rx="3.1" ry="1.8"/><use href="#fo2" x="1002.5" y="606.5"/></g>
<g class="f"><ellipse cx="1012" cy="622" rx="4.9" ry="2.8"/><path d="M1011.4,622L1011.4,606M1012.6,622L1012.6,606" fill="none"/><path d="M1005.9,605L1005.9,606A6.1,3.5 0 0 0 1018.1,606L1018.1,605Z"/><ellipse cx="1012" cy="605" rx="6.1" ry="3.5"/><path d="M1009,604L1014,606.5L1015,600.5L1010,598.5Z" stroke-width="0.8"/><path d="M1010,603.5L1013.5,605.5L1014.3,601L1010.6,599.5Z" fill="#333" stroke-width="0.3"/></g>
<g class="f"><ellipse cx="1017.2" cy="623" rx="3" ry="1.7" stroke-width="0.7"/><path d="M1017.2,623L1017.2,614" stroke-width="1" fill="none"/><ellipse cx="1017.2" cy="613.5" rx="5" ry="2.9" stroke-width="0.8"/></g>
<path d="M321,574L282.9,596L282.9,634L321,612Z" fill="#fff" stroke="none"/><path d="M321,574L321,612M282.9,596L282.9,634M321,612L282.9,634" stroke="#1a1a1a" stroke-width="0.8"/><path d="M309.7,618.5L309.7,592.5L299.3,598.5L299.3,624.5" stroke="#333" stroke-width="0.7"/><path d="M308.7,619.1L308.7,594.3L300.3,599.1L300.3,623.9" stroke="#555" stroke-width="0.5"/><path d="M321,593L282.9,615" stroke="#777" stroke-width="0.5"/><path d="M321,574L282.9,596" stroke-width="3" stroke-linecap="square"/>
<path d="M343.5,561L427.5,609.5L427.5,647.5L343.5,599Z" fill="#fff" stroke="none"/><path d="M343.5,561L343.5,599M427.5,609.5L427.5,647.5M343.5,599L427.5,647.5" stroke="#1a1a1a" stroke-width="0.8"/><path d="M356,606.2L356,577.2L364.7,582.2L364.7,611.2" stroke="#333" stroke-width="0.7"/><path d="M357,606.8L357,579L363.6,582.8L363.6,610.6" stroke="#555" stroke-width="0.5"/><path d="M397.6,630.2L397.6,601.2L406.2,606.2L406.2,635.2" stroke="#333" stroke-width="0.7"/><path d="M398.6,630.8L398.6,603L405.2,606.8L405.2,634.6" stroke="#555" stroke-width="0.5"/><path d="M343.5,580L427.5,628.5" stroke="#777" stroke-width="0.5"/><path d="M385.5,585.2L385.5,623.2" stroke="#888" stroke-width="0.5"/><path d="M343.5,561L427.5,609.5" stroke-width="3.5" stroke-linecap="square"/>
<g class="f"><path d="M970.6,593.5L970.6,617.5M975.6,592.5L975.6,619.5" stroke-width="0.7" fill="none"/><path d="M968.6,618.5q4,5 9,-1" fill="none" stroke-width="1.6" stroke="#111"/><path d="M968.6,624.5q4,4 9,-1" fill="none" stroke="#777" stroke-width=".8"/></g>
<path d="M379,582.5L359.1,594L359.1,632L379,620.5Z" fill="#fff" stroke="none"/><path d="M379,582.5L379,620.5M359.1,594L359.1,632M379,620.5L359.1,632" stroke="#1a1a1a" stroke-width="0.8"/><path d="M377.2,621.5L377.2,592.5L368.5,597.5L368.5,626.5" stroke="#333" stroke-width="0.7"/><path d="M376.1,622.1L376.1,594.3L369.6,598.1L369.6,625.9" stroke="#555" stroke-width="0.5"/><path d="M379,601.5L359.1,613" stroke="#777" stroke-width="0.5"/><path d="M379,582.5L359.1,594" stroke-width="2.5" stroke-linecap="square"/>
<path d="M497.6,569L428.3,609L428.3,647L497.6,607Z" fill="#fff" stroke="none"/><path d="M497.6,569L497.6,607M428.3,609L428.3,647M497.6,607L428.3,647" stroke="#1a1a1a" stroke-width="0.8"/><path d="M481.9,616L481.9,587L473.3,592L473.3,621" stroke="#333" stroke-width="0.7"/><path d="M480.9,616.6L480.9,588.8L474.3,592.6L474.3,620.4" stroke="#555" stroke-width="0.5"/><path d="M454,632.2L454,603.2L445.3,608.2L445.3,637.2" stroke="#333" stroke-width="0.7"/><path d="M452.9,632.8L452.9,605L446.3,608.8L446.3,636.6" stroke="#555" stroke-width="0.5"/><path d="M497.6,588L428.3,628" stroke="#777" stroke-width="0.5"/><path d="M463,589L463,627" stroke="#888" stroke-width="0.5"/><path d="M497.6,569L428.3,609" stroke-width="3" stroke-linecap="square"/>
<g class="f"><ellipse cx="1024.1" cy="629" rx="4.9" ry="2.8"/><path d="M1023.5,629L1023.5,613M1024.7,629L1024.7,613" fill="none"/><path d="M1018,612L1018,613A6.1,3.5 0 0 0 1030.3,613L1030.3,612Z"/><ellipse cx="1024.1" cy="612" rx="6.1" ry="3.5"/><path d="M1021.1,611L1026.1,613.5L1027.1,607.5L1022.1,605.5Z" stroke-width="0.8"/><path d="M1022.1,610.5L1025.6,612.5L1026.4,608L1022.7,606.5Z" fill="#333" stroke-width="0.3"/></g>
<g class="f"><path d="M1008.3,622L1008.3,629A3.7,2.1 0 0 0 1015.7,629L1015.7,622Z"/><ellipse cx="1012" cy="622" rx="3.7" ry="2.1"/><ellipse cx="1012" cy="622" rx="3.1" ry="1.8" fill="none"/></g>
<g class="f"><path d="M1028.1,629L1028.1,624M1034.1,631L1034.1,625M1031.1,632L1031.1,626" stroke-width="0.7" fill="none"/><ellipse cx="1031.1" cy="623.5" rx="4.2" ry="2.5" stroke-width="0.8"/><path d="M1027.1,623.5v-6q4,-4 8,0v6" fill="none" stroke-width=".9"/></g>
<g class="f"><path d="M881.3,614.5L911.6,632L911.6,644L881.3,626.5Z"/><path d="M923.7,625L911.6,632L911.6,644L923.7,637Z"/><path d="M893.4,607.5L923.7,625L911.6,632L881.3,614.5Z"/><use href="#fo0" x="892.4" y="612.9"/><use href="#fo1" x="902.5" y="618.8"/><use href="#fo2" x="912.6" y="624.6"/></g>
<g class="f"><ellipse cx="1040.6" cy="637.5" rx="4.9" ry="2.8"/><path d="M1040,637.5L1040,621.5M1041.2,637.5L1041.2,621.5" fill="none"/><path d="M1034.5,620.5L1034.5,621.5A6.1,3.5 0 0 0 1046.7,621.5L1046.7,620.5Z"/><ellipse cx="1040.6" cy="620.5" rx="6.1" ry="3.5"/><path d="M1037.6,619.5L1042.6,622L1043.6,616L1038.6,614Z" stroke-width="0.8"/><path d="M1038.6,619L1042.1,621L1042.9,616.5L1039.2,615Z" fill="#333" stroke-width="0.3"/></g>
<g class="f"><path d="M1025.7,631L1025.7,638A3.7,2.1 0 0 0 1033,638L1033,631Z"/><ellipse cx="1029.3" cy="631" rx="3.7" ry="2.1"/><ellipse cx="1029.3" cy="631" rx="3.1" ry="1.8" fill="none"/></g>
<g class="f"><ellipse cx="1043.2" cy="638" rx="3" ry="1.7" stroke-width="0.7"/><path d="M1043.2,638L1043.2,629" stroke-width="1" fill="none"/><ellipse cx="1043.2" cy="628.5" rx="5" ry="2.9" stroke-width="0.8"/></g>
<path d="M282.9,596L258.6,610L258.6,648L282.9,634Z" fill="#fff" stroke="none"/><path d="M282.9,596L282.9,634M258.6,610L258.6,648M282.9,634L258.6,648" stroke="#1a1a1a" stroke-width="0.8"/><path d="M276.8,637.5L276.8,611.5L266.4,617.5L266.4,643.5" stroke="#333" stroke-width="0.7"/><path d="M275.8,638.1L275.8,613.3L267.4,618.1L267.4,642.9" stroke="#555" stroke-width="0.5"/><path d="M282.9,615L258.6,629" stroke="#777" stroke-width="0.5"/><path d="M282.9,596L258.6,610" stroke-width="3" stroke-linecap="square"/>
<g class="f"><path d="M981.3,636.5L981.3,642.5A7.3,4.2 0 0 0 996,642.5L996,636.5Z"/><ellipse cx="988.6" cy="636.5" rx="7.3" ry="4.2"/><ellipse cx="988.6" cy="636.5" rx="6.2" ry="3.6" fill="none"/></g>
<g class="f"><path d="M1011.2,628.5L1019.8,633.5L1019.8,645.5L1011.2,640.5Z"/><path d="M1022.4,632L1019.8,633.5L1019.8,645.5L1022.4,644Z"/><path d="M1013.8,627L1022.4,632L1019.8,633.5L1011.2,628.5Z"/><path d="M1005.1,635L1007.7,636.5L1007.7,645.5L1005.1,644Z"/><path d="M1013.8,633L1007.7,636.5L1007.7,645.5L1013.8,642Z"/><path d="M1011.2,631.5L1013.8,633L1007.7,636.5L1005.1,635Z"/><path d="M1007.7,639.5L1011.2,641.5L1011.2,647.5L1007.7,645.5Z"/><path d="M1017.2,638L1011.2,641.5L1011.2,647.5L1017.2,644Z"/><path d="M1013.8,636L1017.2,638L1011.2,641.5L1007.7,639.5Z"/><path d="M1011.2,638.5L1013.8,640L1013.8,649L1011.2,647.5Z"/><path d="M1019.8,636.5L1013.8,640L1013.8,649L1019.8,645.5Z"/><path d="M1017.2,635L1019.8,636.5L1013.8,640L1011.2,638.5Z"/></g>
<g class="f"><path d="M1054.1,644L1054.1,639M1060.1,646L1060.1,640M1057.1,647L1057.1,641" stroke-width="0.7" fill="none"/><ellipse cx="1057.1" cy="638.5" rx="4.2" ry="2.5" stroke-width="0.8"/><path d="M1053.1,638.5v-6q4,-4 8,0v6" fill="none" stroke-width=".9"/></g>
<path d="M534,590L464.7,630L464.7,668L534,628Z" fill="#fff" stroke="none"/><path d="M534,590L534,628M464.7,630L464.7,668M534,628L464.7,668" stroke="#1a1a1a" stroke-width="0.8"/><path d="M525.3,633L525.3,604L516.6,609L516.6,638" stroke="#333" stroke-width="0.7"/><path d="M524.3,633.6L524.3,605.8L517.7,609.6L517.7,637.4" stroke="#555" stroke-width="0.5"/><path d="M488.1,654.5L488.1,625.5L479.4,630.5L479.4,659.5" stroke="#333" stroke-width="0.7"/><path d="M487.1,655.1L487.1,627.3L480.5,631.1L480.5,658.9" stroke="#555" stroke-width="0.5"/><path d="M534,609L464.7,649" stroke="#777" stroke-width="0.5"/><path d="M499.4,610L499.4,648" stroke="#888" stroke-width="0.5"/><path d="M534,590L464.7,630" stroke-width="3.5" stroke-linecap="square"/>
<g class="f"><path d="M935.8,641L955.7,652.5L955.7,621.5L935.8,610Z" stroke="#111" stroke-width="0.8"/><path d="M945.8,646.8L945.8,615.8" fill="none"/><path d="M935.8,641L935.8,644M932.8,642.3L938.8,645.7M955.7,652.5L955.7,655.5M952.7,653.8L958.7,657.2" stroke="#111" stroke-width="0.9" fill="none"/></g>
<g class="f"><path d="M1008.6,642.5L1008.6,650.5A4.3,2.5 0 0 0 1017.2,650.5L1017.2,642.5Z"/><ellipse cx="1012.9" cy="642.5" rx="4.3" ry="2.5"/><ellipse cx="1012.9" cy="642.5" rx="3.6" ry="2.1" fill="none"/></g>
<g class="f"><ellipse cx="1069.2" cy="653" rx="3" ry="1.7" stroke-width="0.7"/><path d="M1069.2,653L1069.2,644" stroke-width="1" fill="none"/><ellipse cx="1069.2" cy="643.5" rx="5" ry="2.9" stroke-width="0.8"/></g>
<path d="M428.3,609L464.7,630L464.7,668L428.3,647Z" fill="#fff" stroke="none"/><path d="M428.3,609L428.3,647M464.7,630L464.7,668M428.3,647L464.7,668" stroke="#1a1a1a" stroke-width="0.8"/><path d="M447,657.8L447,628.8L455.7,633.8L455.7,662.8" stroke="#333" stroke-width="0.7"/><path d="M448.1,658.4L448.1,630.6L454.6,634.4L454.6,662.2" stroke="#555" stroke-width="0.5"/><path d="M428.3,628L464.7,649" stroke="#777" stroke-width="0.5"/><path d="M428.3,609L464.7,630" stroke-width="3" stroke-linecap="square"/>
<path d="M430.1,611L408.4,623.5L408.4,661.5L430.1,649Z" fill="#fff" stroke="none"/><path d="M430.1,611L430.1,649M408.4,623.5L408.4,661.5M430.1,649L408.4,661.5" stroke="#1a1a1a" stroke-width="0.8"/><path d="M422.1,653.6L422.1,624.6L413.4,629.6L413.4,658.6" stroke="#333" stroke-width="0.7"/><path d="M421,654.2L421,626.4L414.5,630.2L414.5,658" stroke="#555" stroke-width="0.5"/><path d="M430.1,630L408.4,642.5" stroke="#777" stroke-width="0.5"/><path d="M430.1,611L408.4,623.5" stroke-width="2.5" stroke-linecap="square"/>
<path d="M321,574L442.2,644L442.2,682L321,612Z" fill="#fff" stroke="none"/><path d="M321,574L321,612M442.2,644L442.2,682M321,612L442.2,682" stroke="#1a1a1a" stroke-width="0.8"/><path d="M350,628.8L350,599.8L358.7,604.8L358.7,633.8" stroke="#333" stroke-width="0.7"/><path d="M351.1,629.4L351.1,601.6L357.6,605.4L357.6,633.2" stroke="#555" stroke-width="0.5"/><path d="M404.2,660.1L404.2,631.1L412.9,636.1L412.9,665.1" stroke="#333" stroke-width="0.7"/><path d="M405.2,660.7L405.2,632.9L411.8,636.7L411.8,664.5" stroke="#555" stroke-width="0.5"/><path d="M321,593L442.2,663" stroke="#777" stroke-width="0.5"/><path d="M361.4,597.3L361.4,635.3M401.8,620.7L401.8,658.7" stroke="#888" stroke-width="0.5"/><path d="M321,574L442.2,644" stroke-width="4" stroke-linecap="square"/>
<g class="f"><path d="M987.8,655.5L987.8,663.5A4.3,2.5 0 0 0 996.4,663.5L996.4,655.5Z"/><ellipse cx="992.1" cy="655.5" rx="4.3" ry="2.5"/><ellipse cx="992.1" cy="655.5" rx="3.6" ry="2.1" fill="none"/></g>
<g class="f"><path d="M1060.8,663.4L1060.8,658.4M1066.8,665.4L1066.8,659.4M1063.8,666.4L1063.8,660.4" stroke-width="0.7" fill="none"/><ellipse cx="1063.8" cy="657.9" rx="4.2" ry="2.5" stroke-width="0.8"/><path d="M1059.8,657.9v-6q4,-4 8,0v6" fill="none" stroke-width=".9"/></g>
<path d="M256.9,609L181.5,652.5L181.5,690.5L256.9,647Z" fill="#fff" stroke="none"/><path d="M256.9,609L256.9,647M181.5,652.5L181.5,690.5M256.9,647L181.5,690.5" stroke="#1a1a1a" stroke-width="0.8"/><path d="M243.2,654.9L243.2,625.9L234.5,630.9L234.5,659.9" stroke="#333" stroke-width="0.7"/><path d="M242.2,655.5L242.2,627.7L235.6,631.5L235.6,659.3" stroke="#555" stroke-width="0.5"/><path d="M207.7,675.4L207.7,646.4L199,651.4L199,680.4" stroke="#333" stroke-width="0.7"/><path d="M206.6,676L206.6,648.2L200.1,652L200.1,679.8" stroke="#555" stroke-width="0.5"/><path d="M256.9,628L181.5,671.5" stroke="#777" stroke-width="0.5"/><path d="M219.2,630.8L219.2,668.8" stroke="#888" stroke-width="0.5"/><path d="M256.9,609L181.5,652.5" stroke-width="3.5" stroke-linecap="square"/>
<g class="f"><path d="M959.2,665.5L971.3,672.5L971.3,661.5L959.2,654.5Z" stroke="#111" stroke-width="0.8"/><path d="M965.3,669L965.3,658" fill="none"/></g>
<g class="f"><path d="M1047.7,671.5L1047.7,666.5M1053.7,673.5L1053.7,667.5M1050.7,674.5L1050.7,668.5" stroke-width="0.7" fill="none"/><ellipse cx="1050.7" cy="666" rx="4.2" ry="2.5" stroke-width="0.8"/><path d="M1046.7,666v-6q4,-4 8,0v6" fill="none" stroke-width=".9"/></g>
<g class="f"><path d="M973.9,672L986,679L986,668L973.9,661Z" stroke="#111" stroke-width="0.8"/><path d="M980,675.5L980,664.5" fill="none"/></g>
<path d="M412.8,631L380.7,649.5L380.7,687.5L412.8,669Z" fill="#fff" stroke="none"/><path d="M412.8,631L412.8,669M380.7,649.5L380.7,687.5M412.8,669L380.7,687.5" stroke="#1a1a1a" stroke-width="0.8"/><path d="M398.7,677.1L398.7,648.1L390,653.1L390,682.1" stroke="#333" stroke-width="0.7"/><path d="M397.6,677.7L397.6,649.9L391,653.7L391,681.5" stroke="#555" stroke-width="0.5"/><path d="M412.8,650L380.7,668.5" stroke="#777" stroke-width="0.5"/><path d="M412.8,631L380.7,649.5" stroke-width="3" stroke-linecap="square"/>
<path d="M282.9,596L402.4,665L402.4,703L282.9,634Z" fill="#fff" stroke="none"/><path d="M282.9,596L282.9,634M402.4,665L402.4,703M282.9,634L402.4,703" stroke="#1a1a1a" stroke-width="0.8"/><path d="M307.9,648.4L307.9,619.4L316.5,624.4L316.5,653.4" stroke="#333" stroke-width="0.7"/><path d="M308.9,649L308.9,621.2L315.5,625L315.5,652.8" stroke="#555" stroke-width="0.5"/><path d="M364.9,681.4L364.9,652.4L373.6,657.4L373.6,686.4" stroke="#333" stroke-width="0.7"/><path d="M366,682L366,654.2L372.6,658L372.6,685.8" stroke="#555" stroke-width="0.5"/><path d="M282.9,615L402.4,684" stroke="#777" stroke-width="0.5"/><path d="M322.7,619L322.7,657M362.5,642L362.5,680" stroke="#888" stroke-width="0.5"/><path d="M282.9,596L402.4,665" stroke-width="4" stroke-linecap="square"/>
<path d="M314,615L293.2,627L293.2,665L314,653Z" fill="#fff" stroke="none"/><path d="M314,615L314,653M293.2,627L293.2,665M314,653L293.2,665" stroke="#1a1a1a" stroke-width="0.8"/><path d="M312,654.2L312,625.2L303.3,630.2L303.3,659.2" stroke="#333" stroke-width="0.7"/><path d="M310.9,654.8L310.9,627L304.3,630.8L304.3,658.6" stroke="#555" stroke-width="0.5"/><path d="M314,634L293.2,646" stroke="#777" stroke-width="0.5"/><path d="M314,615L293.2,627" stroke-width="2.5" stroke-linecap="square"/>
<path d="M256.9,609L318.4,644.5L318.4,682.5L256.9,647Z" fill="#fff" stroke="none"/><path d="M256.9,609L256.9,647M318.4,644.5L318.4,682.5M256.9,647L318.4,682.5" stroke="#1a1a1a" stroke-width="0.8"/><path d="M271.1,655.2L271.1,626.2L279.7,631.2L279.7,660.2" stroke="#333" stroke-width="0.7"/><path d="M272.1,655.8L272.1,628L278.7,631.8L278.7,659.6" stroke="#555" stroke-width="0.5"/><path d="M296.6,669.9L296.6,640.9L305.3,645.9L305.3,674.9" stroke="#333" stroke-width="0.7"/><path d="M297.7,670.5L297.7,642.7L304.2,646.5L304.2,674.3" stroke="#555" stroke-width="0.5"/><path d="M256.9,628L318.4,663.5" stroke="#777" stroke-width="0.5"/><path d="M287.6,626.8L287.6,664.8" stroke="#888" stroke-width="0.5"/><path d="M256.9,609L318.4,644.5" stroke-width="3.5" stroke-linecap="square"/>
<g class="f"><ellipse cx="1038.9" cy="679.5" rx="3" ry="1.7" stroke-width="0.7"/><path d="M1038.9,679.5L1038.9,670.5" stroke-width="1" fill="none"/><ellipse cx="1038.9" cy="670" rx="5" ry="2.9" stroke-width="0.8"/></g>
<path d="M253.4,628L300.2,655L300.2,693L253.4,666Z" fill="#fff" stroke="none"/><path d="M253.4,628L253.4,666M300.2,655L300.2,693M253.4,666L300.2,693" stroke="#1a1a1a" stroke-width="0.8"/><path d="M268.3,674.6L268.3,645.6L277,650.6L277,679.6" stroke="#333" stroke-width="0.7"/><path d="M269.3,675.2L269.3,647.4L275.9,651.2L275.9,679" stroke="#555" stroke-width="0.5"/><path d="M253.4,647L300.2,674" stroke="#777" stroke-width="0.5"/><path d="M253.4,628L300.2,655" stroke-width="2.5" stroke-linecap="square"/>
<path d="M266.4,635.5L248.2,646L248.2,684L266.4,673.5Z" fill="#fff" stroke="none"/><path d="M266.4,635.5L266.4,673.5M248.2,646L248.2,684M266.4,673.5L248.2,684" stroke="#1a1a1a" stroke-width="0.8"/><path d="M266.4,654.5L248.2,665" stroke="#777" stroke-width="0.5"/><path d="M266.4,635.5L248.2,646" stroke-width="2.5" stroke-linecap="square"/>
<g class="f"><path d="M1021.8,686.4L1021.8,681.4M1027.8,688.4L1027.8,682.4M1024.8,689.4L1024.8,683.4" stroke-width="0.7" fill="none"/><ellipse cx="1024.8" cy="680.9" rx="4.2" ry="2.5" stroke-width="0.8"/><path d="M1020.8,680.9v-6q4,-4 8,0v6" fill="none" stroke-width=".9"/></g>
<path d="M283.7,645.5L265.5,656L265.5,694L283.7,683.5Z" fill="#fff" stroke="none"/><path d="M283.7,645.5L283.7,683.5M265.5,656L265.5,694M283.7,683.5L265.5,694" stroke="#1a1a1a" stroke-width="0.8"/><path d="M283.7,664.5L265.5,675" stroke="#777" stroke-width="0.5"/><path d="M283.7,645.5L265.5,656" stroke-width="2.5" stroke-linecap="square"/>
<path d="M221.4,630.5L282,665.5L282,703.5L221.4,668.5Z" fill="#fff" stroke="none"/><path d="M221.4,630.5L221.4,668.5M282,665.5L282,703.5M221.4,668.5L282,703.5" stroke="#1a1a1a" stroke-width="0.8"/><path d="M235.9,676.9L235.9,647.9L244.5,652.9L244.5,681.9" stroke="#333" stroke-width="0.7"/><path d="M236.9,677.5L236.9,649.7L243.5,653.5L243.5,681.3" stroke="#555" stroke-width="0.5"/><path d="M264,693.1L264,664.1L272.6,669.1L272.6,698.1" stroke="#333" stroke-width="0.7"/><path d="M265,693.7L265,665.9L271.6,669.7L271.6,697.5" stroke="#555" stroke-width="0.5"/><path d="M221.4,649.5L282,684.5" stroke="#777" stroke-width="0.5"/><path d="M251.7,648L251.7,686" stroke="#888" stroke-width="0.5"/><path d="M221.4,630.5L282,665.5" stroke-width="2.5" stroke-linecap="square"/>
<path d="M241.3,642L221.4,653.5L221.4,691.5L241.3,680Z" fill="#fff" stroke="none"/><path d="M241.3,642L241.3,680M221.4,653.5L221.4,691.5M241.3,680L221.4,691.5" stroke="#1a1a1a" stroke-width="0.8"/><path d="M230.6,686.2L230.6,657.2L221.9,662.2L221.9,691.2" stroke="#333" stroke-width="0.7"/><path d="M229.5,686.8L229.5,659L222.9,662.8L222.9,690.6" stroke="#555" stroke-width="0.5"/><path d="M241.3,661L221.4,672.5" stroke="#777" stroke-width="0.5"/><path d="M241.3,642L221.4,653.5" stroke-width="2.5" stroke-linecap="square"/>
<g class="f"><path d="M1010.1,691.8L1010.1,686.8M1016.1,693.8L1016.1,687.8M1013.1,694.8L1013.1,688.8" stroke-width="0.7" fill="none"/><ellipse cx="1013.1" cy="686.3" rx="4.2" ry="2.5" stroke-width="0.8"/><path d="M1009.1,686.3v-6q4,-4 8,0v6" fill="none" stroke-width=".9"/></g>
<path d="M254.3,649.5L234.4,661L234.4,699L254.3,687.5Z" fill="#fff" stroke="none"/><path d="M254.3,649.5L254.3,687.5M234.4,661L234.4,699M254.3,687.5L234.4,699" stroke="#1a1a1a" stroke-width="0.8"/><path d="M251.6,689L251.6,660L243,665L243,694" stroke="#333" stroke-width="0.7"/><path d="M250.6,689.6L250.6,661.8L244,665.6L244,693.4" stroke="#555" stroke-width="0.5"/><path d="M254.3,668.5L234.4,680" stroke="#777" stroke-width="0.5"/><path d="M254.3,649.5L234.4,661" stroke-width="2.5" stroke-linecap="square"/>
<path d="M442.2,644L401.5,667.5L401.5,705.5L442.2,682Z" fill="#fff" stroke="none"/><path d="M442.2,644L442.2,682M401.5,667.5L401.5,705.5M442.2,682L401.5,705.5" stroke="#1a1a1a" stroke-width="0.8"/><path d="M425.6,691.6L425.6,662.6L416.9,667.6L416.9,696.6" stroke="#333" stroke-width="0.7"/><path d="M424.5,692.2L424.5,664.4L417.9,668.2L417.9,696" stroke="#555" stroke-width="0.5"/><path d="M442.2,663L401.5,686.5" stroke="#777" stroke-width="0.5"/><path d="M442.2,644L401.5,667.5" stroke-width="3.5" stroke-linecap="square"/>
<path d="M726.2,509L433.5,678L433.5,716L726.2,547Z" fill="#fff" stroke="none"/><path d="M726.2,509L726.2,547M433.5,678L433.5,716M726.2,547L433.5,716" stroke="#1a1a1a" stroke-width="0.8"/><path d="M657.8,586.5L657.8,557.5L649.1,562.5L649.1,591.5" stroke="#333" stroke-width="0.7"/><path d="M656.7,587.1L656.7,559.3L650.2,563.1L650.2,590.9" stroke="#555" stroke-width="0.5"/><path d="M511.7,670.9L511.7,641.9L503,646.9L503,675.9" stroke="#333" stroke-width="0.7"/><path d="M510.6,671.5L510.6,643.7L504,647.5L504,675.3" stroke="#555" stroke-width="0.5"/><path d="M726.2,528L433.5,697" stroke="#777" stroke-width="0.5"/><path d="M677.5,537.2L677.5,575.2M628.7,565.3L628.7,603.3M579.9,593.5L579.9,631.5M531.1,621.7L531.1,659.7M482.3,649.8L482.3,687.8" stroke="#888" stroke-width="0.5"/><path d="M726.2,509L433.5,678" stroke-width="3" stroke-linecap="square"/>
<g class="f"><path d="M718.5,540.5L699.4,551.5L699.4,535.5L718.5,524.5Z" stroke="#111" stroke-width="0.9"/><path d="M717.6,540L700.3,550L700.3,536L717.6,526Z" fill="none" stroke-width="0.5"/></g>
<path d="M722.8,511L812,562.5L812,600.5L722.8,549Z" fill="#fff" stroke="none"/><path d="M722.8,511L722.8,549M812,562.5L812,600.5M722.8,549L812,600.5" stroke="#1a1a1a" stroke-width="0.8"/><path d="M744.3,561.4L744.3,532.4L753,537.4L753,566.4" stroke="#333" stroke-width="0.7"/><path d="M745.3,562L745.3,534.2L751.9,538L751.9,565.8" stroke="#555" stroke-width="0.5"/><path d="M785.5,585.2L785.5,556.2L794.2,561.2L794.2,590.2" stroke="#333" stroke-width="0.7"/><path d="M786.6,585.8L786.6,558L793.2,561.8L793.2,589.6" stroke="#555" stroke-width="0.5"/><path d="M722.8,530L812,581.5" stroke="#777" stroke-width="0.5"/><path d="M767.4,536.8L767.4,574.8" stroke="#888" stroke-width="0.5"/><path d="M722.8,511L812,562.5" stroke-width="2.2" stroke-linecap="square"/>
<g class="f"><path d="M724.1,566.5L724.1,561.5M730.1,568.5L730.1,562.5M727.1,569.5L727.1,563.5" stroke-width="0.7" fill="none"/><ellipse cx="727.1" cy="561" rx="4.2" ry="2.5" stroke-width="0.8"/><path d="M723.1,561v-6q4,-4 8,0v6" fill="none" stroke-width=".9"/></g>
<g class="f"><path d="M733.6,572L733.6,567M739.6,574L739.6,568M736.6,575L736.6,569" stroke-width="0.7" fill="none"/><ellipse cx="736.6" cy="566.5" rx="4.2" ry="2.5" stroke-width="0.8"/><path d="M732.6,566.5v-6q4,-4 8,0v6" fill="none" stroke-width=".9"/></g>
<g class="f"><path d="M743.2,577.5L743.2,572.5M749.2,579.5L749.2,573.5M746.2,580.5L746.2,574.5" stroke-width="0.7" fill="none"/><ellipse cx="746.2" cy="572" rx="4.2" ry="2.5" stroke-width="0.8"/><path d="M742.2,572v-6q4,-4 8,0v6" fill="none" stroke-width=".9"/></g>
<g class="f"><path d="M752.7,583L752.7,578M758.7,585L758.7,579M755.7,586L755.7,580" stroke-width="0.7" fill="none"/><ellipse cx="755.7" cy="577.5" rx="4.2" ry="2.5" stroke-width="0.8"/><path d="M751.7,577.5v-6q4,-4 8,0v6" fill="none" stroke-width=".9"/></g>
<g class="f"><path d="M762.2,588.5L762.2,583.5M768.2,590.5L768.2,584.5M765.2,591.5L765.2,585.5" stroke-width="0.7" fill="none"/><ellipse cx="765.2" cy="583" rx="4.2" ry="2.5" stroke-width="0.8"/><path d="M761.2,583v-6q4,-4 8,0v6" fill="none" stroke-width=".9"/></g>
<g class="f"><path d="M771.7,594L771.7,589M777.7,596L777.7,590M774.7,597L774.7,591" stroke-width="0.7" fill="none"/><ellipse cx="774.7" cy="588.5" rx="4.2" ry="2.5" stroke-width="0.8"/><path d="M770.7,588.5v-6q4,-4 8,0v6" fill="none" stroke-width=".9"/></g>
<g class="f"><path d="M742.7,593.5L748.7,596.7L754.8,599.5L760.8,601.8L766.3,603.3L771,604.2L774.8,604.2L777.3,603.5L778.6,602L778.5,599.8L777.1,597.1L774.3,593.9L770.4,590.5L765.6,587L760,583.5L754,580.3L747.9,577.5L741.9,575.2L736.4,573.7L731.7,572.8L728,572.8L725.4,573.5L724.1,575L724.2,577.2L725.6,579.9L728.4,583.1L732.3,586.5L737.1,590Z" stroke-width="0.8"/><path d="M751.4,589.5L751.4,597.5" stroke-width="0.8" fill="none"/></g>
<g class="f"><path d="M781.3,599.5L781.3,594.5M787.3,601.5L787.3,595.5M784.3,602.5L784.3,596.5" stroke-width="0.7" fill="none"/><ellipse cx="784.3" cy="594" rx="4.2" ry="2.5" stroke-width="0.8"/><path d="M780.3,594v-6q4,-4 8,0v6" fill="none" stroke-width=".9"/></g>
<g class="f"><path d="M644.8,583L614.5,600.5L614.5,584.5L644.8,567Z" stroke="#111" stroke-width="0.9"/><path d="M644,582.5L615.4,599L615.4,585L644,568.5Z" fill="none" stroke-width="0.5"/></g>
<path d="M662.2,546L751.4,597.5L751.4,635.5L662.2,584Z" fill="#fff" stroke="none"/><path d="M662.2,546L662.2,584M751.4,597.5L751.4,635.5M662.2,584L751.4,635.5" stroke="#1a1a1a" stroke-width="0.8"/><path d="M677.8,593L677.8,564L686.5,569L686.5,598" stroke="#333" stroke-width="0.7"/><path d="M678.9,593.6L678.9,565.8L685.4,569.6L685.4,597.4" stroke="#555" stroke-width="0.5"/><path d="M729.9,623.1L729.9,594.1L738.6,599.1L738.6,628.1" stroke="#333" stroke-width="0.7"/><path d="M730.9,623.7L730.9,595.9L737.5,599.7L737.5,627.5" stroke="#555" stroke-width="0.5"/><path d="M662.2,565L751.4,616.5" stroke="#777" stroke-width="0.5"/><path d="M706.8,571.8L706.8,609.8" stroke="#888" stroke-width="0.5"/><path d="M662.2,546L751.4,597.5" stroke-width="3" stroke-linecap="square"/>
<g class="f"><ellipse cx="623.1" cy="631.3" rx="3.2" ry="2" stroke-width="0.7"/><path d="M620.1,631.3v-4q3,-3 6,0v4" fill="none" stroke-width=".8"/><ellipse cx="642.3" cy="629.6" rx="3.2" ry="2" stroke-width="0.7"/><path d="M639.3,629.6v-4q3,-3 6,0v4" fill="none" stroke-width=".8"/><ellipse cx="660.4" cy="620.3" rx="3.2" ry="2" stroke-width="0.7"/><path d="M657.4,620.3v-4q3,-3 6,0v4" fill="none" stroke-width=".8"/><ellipse cx="666.9" cy="608.7" rx="3.2" ry="2" stroke-width="0.7"/><path d="M663.9,608.7v-4q3,-3 6,0v4" fill="none" stroke-width=".8"/><ellipse cx="657.9" cy="601.7" rx="3.2" ry="2" stroke-width="0.7"/><path d="M654.9,601.7v-4q3,-3 6,0v4" fill="none" stroke-width=".8"/><ellipse cx="638.8" cy="603.4" rx="3.2" ry="2" stroke-width="0.7"/><path d="M635.8,603.4v-4q3,-3 6,0v4" fill="none" stroke-width=".8"/><ellipse cx="620.6" cy="612.7" rx="3.2" ry="2" stroke-width="0.7"/><path d="M617.6,612.7v-4q3,-3 6,0v4" fill="none" stroke-width=".8"/><ellipse cx="614.1" cy="624.3" rx="3.2" ry="2" stroke-width="0.7"/><path d="M611.1,624.3v-4q3,-3 6,0v4" fill="none" stroke-width=".8"/><path d="M621.5,623.5L624.2,624.6L627.9,625L632.1,624.8L636.8,624L641.6,622.7L646.4,620.8L650.9,618.5L654.9,615.9L658.1,613.1L660.5,610.3L661.9,607.6L662.2,605.2L661.4,603.1L659.6,601.5L656.8,600.4L653.2,600L648.9,600.2L644.3,601L639.4,602.3L634.6,604.2L630.1,606.5L626.1,609.1L622.9,611.9L620.5,614.7L619.1,617.4L618.8,619.8L619.6,621.9Z" stroke-width="0.8"/><path d="M640.5,613.5L640.5,621.5" stroke-width="0.8" fill="none"/></g>
<path d="M706.3,571.5L617.1,623L617.1,661L706.3,609.5Z" fill="#fff" stroke="none"/><path d="M706.3,571.5L706.3,609.5M706.3,609.5L617.1,661" stroke="#1a1a1a" stroke-width="0.8"/><path d="M658,637.4L658,608.4L649.3,613.4L649.3,642.4" stroke="#333" stroke-width="0.7"/><path d="M656.9,638L656.9,610.2L650.3,614L650.3,641.8" stroke="#555" stroke-width="0.5"/><path d="M706.3,590.5L617.1,642" stroke="#777" stroke-width="0.5"/><path d="M661.7,597.2L661.7,635.2" stroke="#888" stroke-width="0.5"/><path d="M706.3,571.5L617.1,623" stroke-width="3" stroke-linecap="square"/>
<g class="f"><path d="M684.7,611L658.7,626L658.7,610L684.7,595Z" stroke="#111" stroke-width="0.9"/><path d="M683.8,610.5L659.6,624.5L659.6,610.5L683.8,596.5Z" fill="none" stroke-width="0.5"/></g>
<g class="f"><path d="M567.8,627.5L548.7,638.5L548.7,622.5L567.8,611.5Z" stroke="#111" stroke-width="0.9"/><path d="M566.9,627L549.6,637L549.6,623L566.9,613Z" fill="none" stroke-width="0.5"/></g>
<path d="M573,597.5L617.1,623L617.1,661L573,635.5Z" fill="#fff" stroke="none"/><path d="M573,597.5L573,635.5M573,635.5L617.1,661" stroke="#1a1a1a" stroke-width="0.8"/><path d="M596.1,648.8L596.1,619.8L604.7,624.8L604.7,653.8" stroke="#333" stroke-width="0.7"/><path d="M597.1,649.4L597.1,621.6L603.7,625.4L603.7,653.2" stroke="#555" stroke-width="0.5"/><path d="M573,616.5L617.1,642" stroke="#777" stroke-width="0.5"/><path d="M573,597.5L617.1,623" stroke-width="3" stroke-linecap="square"/>
<g class="f"><ellipse cx="668.1" cy="657.3" rx="3.2" ry="2" stroke-width="0.7"/><path d="M665.1,657.3v-4q3,-3 6,0v4" fill="none" stroke-width=".8"/><ellipse cx="687.3" cy="655.6" rx="3.2" ry="2" stroke-width="0.7"/><path d="M684.3,655.6v-4q3,-3 6,0v4" fill="none" stroke-width=".8"/><ellipse cx="705.4" cy="646.3" rx="3.2" ry="2" stroke-width="0.7"/><path d="M702.4,646.3v-4q3,-3 6,0v4" fill="none" stroke-width=".8"/><ellipse cx="711.9" cy="634.7" rx="3.2" ry="2" stroke-width="0.7"/><path d="M708.9,634.7v-4q3,-3 6,0v4" fill="none" stroke-width=".8"/><ellipse cx="703" cy="627.7" rx="3.2" ry="2" stroke-width="0.7"/><path d="M700,627.7v-4q3,-3 6,0v4" fill="none" stroke-width=".8"/><ellipse cx="683.8" cy="629.4" rx="3.2" ry="2" stroke-width="0.7"/><path d="M680.8,629.4v-4q3,-3 6,0v4" fill="none" stroke-width=".8"/><ellipse cx="665.7" cy="638.7" rx="3.2" ry="2" stroke-width="0.7"/><path d="M662.7,638.7v-4q3,-3 6,0v4" fill="none" stroke-width=".8"/><ellipse cx="659.2" cy="650.3" rx="3.2" ry="2" stroke-width="0.7"/><path d="M656.2,650.3v-4q3,-3 6,0v4" fill="none" stroke-width=".8"/><path d="M666.5,649.5L669.3,650.6L672.9,651L677.1,650.8L681.8,650L686.6,648.7L691.4,646.8L695.9,644.5L699.9,641.9L703.2,639.1L705.5,636.3L706.9,633.6L707.2,631.2L706.4,629.1L704.6,627.5L701.8,626.4L698.2,626L694,626.2L689.3,627L684.4,628.3L679.7,630.2L675.2,632.5L671.2,635.1L667.9,637.9L665.5,640.7L664.2,643.4L663.9,645.8L664.7,647.9Z" stroke-width="0.8"/><path d="M685.5,639.5L685.5,647.5" stroke-width="0.8" fill="none"/></g>
<g class="f"><ellipse cx="577.1" cy="658.4" rx="3.2" ry="2" stroke-width="0.7"/><path d="M574.1,658.4v-4q3,-3 6,0v4" fill="none" stroke-width=".8"/><ellipse cx="595.3" cy="655.1" rx="3.2" ry="2" stroke-width="0.7"/><path d="M592.3,655.1v-4q3,-3 6,0v4" fill="none" stroke-width=".8"/><ellipse cx="589.6" cy="644.6" rx="3.2" ry="2" stroke-width="0.7"/><path d="M586.6,644.6v-4q3,-3 6,0v4" fill="none" stroke-width=".8"/><ellipse cx="571.4" cy="647.9" rx="3.2" ry="2" stroke-width="0.7"/><path d="M568.4,647.9v-4q3,-3 6,0v4" fill="none" stroke-width=".8"/><path d="M577.3,651L578.8,651.7L580.5,652.2L582.4,652.4L584.3,652.4L586.2,652.2L587.9,651.7L589.4,651L590.6,650.1L591.4,649.1L591.9,648.1L591.9,646.9L591.4,645.9L590.6,644.9L589.4,644L587.9,643.3L586.2,642.8L584.3,642.6L582.4,642.6L580.5,642.8L578.8,643.3L577.3,644L576.1,644.9L575.3,645.9L574.8,646.9L574.8,648.1L575.3,649.1L576.1,650.1Z" stroke-width="0.8"/><path d="M583.4,648.5L583.4,656.5" stroke-width="0.8" fill="none"/></g>
<path d="M544.4,614L588.5,639.5L588.5,677.5L544.4,652Z" fill="#fff" stroke="none"/><path d="M544.4,614L544.4,652M588.5,639.5L588.5,677.5M544.4,652L588.5,677.5" stroke="#1a1a1a" stroke-width="0.8"/><path d="M564.3,663.5L564.3,634.5L573,639.5L573,668.5" stroke="#333" stroke-width="0.7"/><path d="M565.3,664.1L565.3,636.3L571.9,640.1L571.9,667.9" stroke="#555" stroke-width="0.5"/><path d="M544.4,633L588.5,658.5" stroke="#777" stroke-width="0.5"/><path d="M544.4,614L588.5,639.5" stroke-width="2.5" stroke-linecap="square"/>
<g class="f"><path d="M540.1,643.5L505.4,663.5L505.4,647.5L540.1,627.5Z" stroke="#111" stroke-width="0.9"/><path d="M539.2,643L506.3,662L506.3,648L539.2,629Z" fill="none" stroke-width="0.5"/></g>
<path d="M617.1,623L662.2,649L662.2,687L617.1,661Z" fill="#fff" stroke="none"/><path d="M662.2,649L662.2,687M617.1,661L662.2,687" stroke="#1a1a1a" stroke-width="0.8"/><path d="M639.1,673.7L639.1,644.7L647.7,649.7L647.7,678.7" stroke="#333" stroke-width="0.7"/><path d="M640.1,674.3L640.1,646.5L646.7,650.3L646.7,678.1" stroke="#555" stroke-width="0.5"/><path d="M617.1,642L662.2,668" stroke="#777" stroke-width="0.5"/><path d="M617.1,623L662.2,649" stroke-width="3" stroke-linecap="square"/>
<g class="f"><ellipse cx="538.7" cy="681.1" rx="3.2" ry="2" stroke-width="0.7"/><path d="M535.7,681.1v-4q3,-3 6,0v4" fill="none" stroke-width=".8"/><ellipse cx="558.1" cy="679.1" rx="3.2" ry="2" stroke-width="0.7"/><path d="M555.1,679.1v-4q3,-3 6,0v4" fill="none" stroke-width=".8"/><ellipse cx="562.1" cy="668" rx="3.2" ry="2" stroke-width="0.7"/><path d="M559.1,668v-4q3,-3 6,0v4" fill="none" stroke-width=".8"/><ellipse cx="545.2" cy="663.1" rx="3.2" ry="2" stroke-width="0.7"/><path d="M542.2,663.1v-4q3,-3 6,0v4" fill="none" stroke-width=".8"/><ellipse cx="530.8" cy="671.2" rx="3.2" ry="2" stroke-width="0.7"/><path d="M527.8,671.2v-4q3,-3 6,0v4" fill="none" stroke-width=".8"/><path d="M538.3,673.5L540.3,674.4L542.6,675L545.1,675.2L547.7,675.1L550.2,674.7L552.7,674L554.8,673L556.5,671.8L557.8,670.4L558.5,668.9L558.6,667.4L558.2,665.9L557.2,664.6L555.6,663.5L553.7,662.6L551.4,662L548.9,661.8L546.3,661.9L543.7,662.3L541.3,663L539.2,664L537.5,665.2L536.2,666.6L535.5,668.1L535.4,669.6L535.8,671.1L536.8,672.4Z" stroke-width="0.8"/><path d="M547,669.5L547,677.5" stroke-width="0.8" fill="none"/></g>
<g class="f"><path d="M496.8,668.5L467.3,685.5L467.3,669.5L496.8,652.5Z" stroke="#111" stroke-width="0.9"/><path d="M495.9,668L468.2,684L468.2,670L495.9,654Z" fill="none" stroke-width="0.5"/></g>
<path d="M501.1,639L545.2,664.5L545.2,702.5L501.1,677Z" fill="#fff" stroke="none"/><path d="M501.1,639L501.1,677M545.2,664.5L545.2,702.5M501.1,677L545.2,702.5" stroke="#1a1a1a" stroke-width="0.8"/><path d="M516.9,686.1L516.9,657.1L525.6,662.1L525.6,691.1" stroke="#333" stroke-width="0.7"/><path d="M518,686.7L518,658.9L524.5,662.7L524.5,690.5" stroke="#555" stroke-width="0.5"/><path d="M501.1,658L545.2,683.5" stroke="#777" stroke-width="0.5"/><path d="M501.1,639L545.2,664.5" stroke-width="2.5" stroke-linecap="square"/>
<path d="M267.3,657L247.3,668.5L247.3,706.5L267.3,695Z" fill="#fff" stroke="none"/><path d="M267.3,657L267.3,695M247.3,668.5L247.3,706.5M267.3,695L247.3,706.5" stroke="#1a1a1a" stroke-width="0.8"/><path d="M264.1,696.8L264.1,667.8L255.5,672.8L255.5,701.8" stroke="#333" stroke-width="0.7"/><path d="M263.1,697.4L263.1,669.6L256.5,673.4L256.5,701.2" stroke="#555" stroke-width="0.5"/><path d="M267.3,676L247.3,687.5" stroke="#777" stroke-width="0.5"/><path d="M267.3,657L247.3,668.5" stroke-width="2.5" stroke-linecap="square"/>
<path d="M201.4,642L262.1,677L262.1,715L201.4,680Z" fill="#fff" stroke="none"/><path d="M201.4,642L201.4,680M262.1,677L262.1,715M201.4,680L262.1,715" stroke="#1a1a1a" stroke-width="0.8"/><path d="M209.3,684.5L209.3,655.5L217.9,660.5L217.9,689.5" stroke="#333" stroke-width="0.7"/><path d="M210.3,685.1L210.3,657.3L216.9,661.1L216.9,688.9" stroke="#555" stroke-width="0.5"/><path d="M241.5,703.1L241.5,674.1L250.1,679.1L250.1,708.1" stroke="#333" stroke-width="0.7"/><path d="M242.5,703.7L242.5,675.9L249.1,679.7L249.1,707.5" stroke="#555" stroke-width="0.5"/><path d="M201.4,661L262.1,696" stroke="#777" stroke-width="0.5"/><path d="M231.8,659.5L231.8,697.5" stroke="#888" stroke-width="0.5"/><path d="M201.4,642L262.1,677" stroke-width="3" stroke-linecap="square"/>
<path d="M318.4,644.5L262.1,677L262.1,715L318.4,682.5Z" fill="#fff" stroke="none"/><path d="M318.4,644.5L318.4,682.5M262.1,677L262.1,715M318.4,682.5L262.1,715" stroke="#1a1a1a" stroke-width="0.8"/><path d="M290.5,698.6L290.5,669.6L281.9,674.6L281.9,703.6" stroke="#333" stroke-width="0.7"/><path d="M289.5,699.2L289.5,671.4L282.9,675.2L282.9,703" stroke="#555" stroke-width="0.5"/><path d="M318.4,663.5L262.1,696" stroke="#777" stroke-width="0.5"/><path d="M290.2,660.8L290.2,698.8" stroke="#888" stroke-width="0.5"/><path d="M318.4,644.5L262.1,677" stroke-width="3.5" stroke-linecap="square"/>
<path d="M340.9,656.5L320.1,668.5L320.1,706.5L340.9,694.5Z" fill="#fff" stroke="none"/><path d="M340.9,656.5L340.9,694.5M320.1,668.5L320.1,706.5M340.9,694.5L320.1,706.5" stroke="#1a1a1a" stroke-width="0.8"/><path d="M332,699.6L332,670.6L323.3,675.6L323.3,704.6" stroke="#333" stroke-width="0.7"/><path d="M330.9,700.2L330.9,672.4L324.4,676.2L324.4,704" stroke="#555" stroke-width="0.5"/><path d="M340.9,675.5L320.1,687.5" stroke="#777" stroke-width="0.5"/><path d="M340.9,656.5L320.1,668.5" stroke-width="3" stroke-linecap="square"/>
<path d="M340.9,656.5L379.8,679L379.8,717L340.9,694.5Z" fill="#fff" stroke="none"/><path d="M340.9,656.5L340.9,694.5M379.8,679L379.8,717M340.9,694.5L379.8,717" stroke="#1a1a1a" stroke-width="0.8"/><path d="M354.3,702.2L354.3,673.2L362.9,678.2L362.9,707.2" stroke="#333" stroke-width="0.7"/><path d="M355.3,702.8L355.3,675L361.9,678.8L361.9,706.6" stroke="#555" stroke-width="0.5"/><path d="M340.9,675.5L379.8,698" stroke="#777" stroke-width="0.5"/><path d="M340.9,656.5L379.8,679" stroke-width="3.5" stroke-linecap="square"/>
<g class="f"><path d="M981.5,708.9L981.5,703.9M987.5,710.9L987.5,704.9M984.5,711.9L984.5,705.9" stroke-width="0.7" fill="none"/><ellipse cx="984.5" cy="703.4" rx="4.2" ry="2.5" stroke-width="0.8"/><path d="M980.5,703.4v-6q4,-4 8,0v6" fill="none" stroke-width=".9"/></g>
<g class="f"><ellipse cx="479.4" cy="715.7" rx="3.2" ry="2" stroke-width="0.7"/><path d="M476.4,715.7v-4q3,-3 6,0v4" fill="none" stroke-width=".8"/><ellipse cx="499.1" cy="713.8" rx="3.2" ry="2" stroke-width="0.7"/><path d="M496.1,713.8v-4q3,-3 6,0v4" fill="none" stroke-width=".8"/><ellipse cx="510.4" cy="703.2" rx="3.2" ry="2" stroke-width="0.7"/><path d="M507.4,703.2v-4q3,-3 6,0v4" fill="none" stroke-width=".8"/><ellipse cx="502" cy="694.3" rx="3.2" ry="2" stroke-width="0.7"/><path d="M499,694.3v-4q3,-3 6,0v4" fill="none" stroke-width=".8"/><ellipse cx="482.3" cy="696.2" rx="3.2" ry="2" stroke-width="0.7"/><path d="M479.3,696.2v-4q3,-3 6,0v4" fill="none" stroke-width=".8"/><ellipse cx="471" cy="706.8" rx="3.2" ry="2" stroke-width="0.7"/><path d="M468,706.8v-4q3,-3 6,0v4" fill="none" stroke-width=".8"/><path d="M478.6,708L480.8,708.9L483.5,709.5L486.6,709.6L489.9,709.3L493.2,708.5L496.4,707.4L499.4,706L501.8,704.3L503.8,702.5L505,700.5L505.6,698.6L505.4,696.9L504.4,695.3L502.8,694L500.6,693.1L497.9,692.5L494.8,692.4L491.5,692.7L488.2,693.5L484.9,694.6L482,696L479.6,697.7L477.6,699.5L476.4,701.5L475.8,703.4L476,705.1L476.9,706.7Z" stroke-width="0.8"/><path d="M490.7,702L490.7,710" stroke-width="0.8" fill="none"/></g>
<path d="M617.1,623L477.7,703.5L477.7,741.5L617.1,661Z" fill="#fff" stroke="none"/><path d="M477.7,703.5L477.7,741.5M617.1,661L477.7,741.5" stroke="#1a1a1a" stroke-width="0.8"/><path d="M536.4,707.6L536.4,678.6L527.8,683.6L527.8,712.6" stroke="#333" stroke-width="0.7"/><path d="M535.4,708.2L535.4,680.4L528.8,684.2L528.8,712" stroke="#555" stroke-width="0.5"/><path d="M617.1,642L477.7,722.5" stroke="#777" stroke-width="0.5"/><path d="M570.7,649.8L570.7,687.8M524.2,676.7L524.2,714.7" stroke="#888" stroke-width="0.5"/><path d="M617.1,623L477.7,703.5" stroke-width="3" stroke-linecap="square"/>
<g class="f"><path d="M611.1,653.5L580.8,671L580.8,655L611.1,637.5Z" stroke="#111" stroke-width="0.9"/><path d="M610.2,653L581.6,669.5L581.6,655.5L610.2,639Z" fill="none" stroke-width="0.5"/></g>
<g class="f"><ellipse cx="610.9" cy="691.7" rx="3.2" ry="2" stroke-width="0.7"/><path d="M607.9,691.7v-4q3,-3 6,0v4" fill="none" stroke-width=".8"/><ellipse cx="631.7" cy="689.6" rx="3.2" ry="2" stroke-width="0.7"/><path d="M628.7,689.6v-4q3,-3 6,0v4" fill="none" stroke-width=".8"/><ellipse cx="635.9" cy="677.7" rx="3.2" ry="2" stroke-width="0.7"/><path d="M632.9,677.7v-4q3,-3 6,0v4" fill="none" stroke-width=".8"/><ellipse cx="617.8" cy="672.4" rx="3.2" ry="2" stroke-width="0.7"/><path d="M614.8,672.4v-4q3,-3 6,0v4" fill="none" stroke-width=".8"/><ellipse cx="602.3" cy="681.1" rx="3.2" ry="2" stroke-width="0.7"/><path d="M599.3,681.1v-4q3,-3 6,0v4" fill="none" stroke-width=".8"/><path d="M610.2,684L612.4,685L614.9,685.6L617.7,685.9L620.6,685.8L623.4,685.4L626,684.6L628.4,683.5L630.3,682.2L631.7,680.6L632.4,679L632.6,677.3L632.1,675.7L630.9,674.3L629.3,673L627.1,672L624.6,671.4L621.8,671.1L618.9,671.2L616.1,671.6L613.4,672.4L611.1,673.5L609.2,674.8L607.8,676.4L607,678L606.9,679.7L607.4,681.3L608.5,682.7Z" stroke-width="0.8"/><path d="M619.7,679.5L619.7,687.5" stroke-width="0.8" fill="none"/></g>
<path d="M573.8,648L618.9,674L618.9,712L573.8,686Z" fill="#fff" stroke="none"/><path d="M573.8,648L573.8,686M618.9,674L618.9,712M573.8,686L618.9,712" stroke="#1a1a1a" stroke-width="0.8"/><path d="M589.2,694.9L589.2,665.9L597.9,670.9L597.9,699.9" stroke="#333" stroke-width="0.7"/><path d="M590.2,695.5L590.2,667.7L596.8,671.5L596.8,699.3" stroke="#555" stroke-width="0.5"/><path d="M573.8,667L618.9,693" stroke="#777" stroke-width="0.5"/><path d="M573.8,648L618.9,674" stroke-width="2.5" stroke-linecap="square"/>
<g class="f"><path d="M568.6,678L535.7,697L535.7,681L568.6,662Z" stroke="#111" stroke-width="0.9"/><path d="M567.8,677.5L536.6,695.5L536.6,681.5L567.8,663.5Z" fill="none" stroke-width="0.5"/></g>
<path d="M320.1,668.5L338.3,679L338.3,717L320.1,706.5Z" fill="#fff" stroke="none"/><path d="M320.1,668.5L320.1,706.5M338.3,679L338.3,717M320.1,706.5L338.3,717" stroke="#1a1a1a" stroke-width="0.8"/><path d="M320.1,687.5L338.3,698" stroke="#777" stroke-width="0.5"/><path d="M320.1,668.5L338.3,679" stroke-width="2.5" stroke-linecap="square"/>
<g class="f"><ellipse cx="566.7" cy="717.2" rx="3.2" ry="2" stroke-width="0.7"/><path d="M563.7,717.2v-4q3,-3 6,0v4" fill="none" stroke-width=".8"/><ellipse cx="587.5" cy="715.1" rx="3.2" ry="2" stroke-width="0.7"/><path d="M584.5,715.1v-4q3,-3 6,0v4" fill="none" stroke-width=".8"/><ellipse cx="591.8" cy="703.2" rx="3.2" ry="2" stroke-width="0.7"/><path d="M588.8,703.2v-4q3,-3 6,0v4" fill="none" stroke-width=".8"/><ellipse cx="573.6" cy="697.9" rx="3.2" ry="2" stroke-width="0.7"/><path d="M570.6,697.9v-4q3,-3 6,0v4" fill="none" stroke-width=".8"/><ellipse cx="558.2" cy="706.6" rx="3.2" ry="2" stroke-width="0.7"/><path d="M555.2,706.6v-4q3,-3 6,0v4" fill="none" stroke-width=".8"/><path d="M566,709.5L568.2,710.5L570.7,711.1L573.5,711.4L576.4,711.3L579.2,710.9L581.9,710.1L584.2,709L586.1,707.7L587.5,706.1L588.3,704.5L588.4,702.8L587.9,701.2L586.8,699.8L585.1,698.5L582.9,697.5L580.4,696.9L577.6,696.6L574.7,696.7L571.9,697.1L569.2,697.9L566.9,699L565,700.3L563.6,701.9L562.9,703.5L562.7,705.2L563.2,706.8L564.3,708.2Z" stroke-width="0.8"/><path d="M575.6,705L575.6,713" stroke-width="0.8" fill="none"/></g>
<path d="M181.5,652.5L264.7,700.5L264.7,738.5L181.5,690.5Z" fill="#fff" stroke="none"/><path d="M181.5,652.5L181.5,690.5M264.7,700.5L264.7,738.5M181.5,690.5L264.7,738.5" stroke="#1a1a1a" stroke-width="0.8"/><path d="M195.6,698.6L195.6,669.6L204.3,674.6L204.3,703.6" stroke="#333" stroke-width="0.7"/><path d="M196.6,699.2L196.6,671.4L203.2,675.2L203.2,703" stroke="#555" stroke-width="0.5"/><path d="M244.4,726.8L244.4,697.8L253.1,702.8L253.1,731.8" stroke="#333" stroke-width="0.7"/><path d="M245.5,727.4L245.5,699.6L252.1,703.4L252.1,731.2" stroke="#555" stroke-width="0.5"/><path d="M181.5,671.5L264.7,719.5" stroke="#777" stroke-width="0.5"/><path d="M223.1,676.5L223.1,714.5" stroke="#888" stroke-width="0.5"/><path d="M181.5,652.5L264.7,700.5" stroke-width="3.5" stroke-linecap="square"/>
<g class="f"><path d="M177.2,688L196.3,699L196.3,681L177.2,670Z" stroke="#111" stroke-width="0.9"/><path d="M185.9,707L185.9,693" stroke="#111" stroke-width="1.2" fill="none"/><path d="M179.9,710L191.9,704M180.9,704L190.9,710" stroke="#111" stroke-width="1" fill="none"/></g>
<g class="f"><path d="M967.2,715.5L967.2,710.5M973.2,717.5L973.2,711.5M970.2,718.5L970.2,712.5" stroke-width="0.7" fill="none"/><ellipse cx="970.2" cy="710" rx="4.2" ry="2.5" stroke-width="0.8"/><path d="M966.2,710v-6q4,-4 8,0v6" fill="none" stroke-width=".9"/></g>
<path d="M338.3,679L314.9,692.5L314.9,730.5L338.3,717Z" fill="#fff" stroke="none"/><path d="M338.3,679L338.3,717M314.9,692.5L314.9,730.5M338.3,717L314.9,730.5" stroke="#1a1a1a" stroke-width="0.8"/><path d="M329.9,721.9L329.9,692.9L321.2,697.9L321.2,726.9" stroke="#333" stroke-width="0.7"/><path d="M328.8,722.5L328.8,694.7L322.2,698.5L322.2,726.3" stroke="#555" stroke-width="0.5"/><path d="M338.3,698L314.9,711.5" stroke="#777" stroke-width="0.5"/><path d="M338.3,679L314.9,692.5" stroke-width="2.5" stroke-linecap="square"/>
<path d="M275.9,670L334.8,704L334.8,742L275.9,708Z" fill="#fff" stroke="none"/><path d="M275.9,670L275.9,708M334.8,704L334.8,742M275.9,708L334.8,742" stroke="#1a1a1a" stroke-width="0.8"/><path d="M301.9,723L301.9,694L310.6,699L310.6,728" stroke="#333" stroke-width="0.7"/><path d="M302.9,723.6L302.9,695.8L309.5,699.6L309.5,727.4" stroke="#555" stroke-width="0.5"/><path d="M275.9,689L334.8,723" stroke="#777" stroke-width="0.5"/><path d="M305.4,687L305.4,725" stroke="#888" stroke-width="0.5"/><path d="M275.9,670L334.8,704" stroke-width="3" stroke-linecap="square"/>
<path d="M527.9,674.5L573,700.5L573,738.5L527.9,712.5Z" fill="#fff" stroke="none"/><path d="M527.9,674.5L527.9,712.5M573,700.5L573,738.5M527.9,712.5L573,738.5" stroke="#1a1a1a" stroke-width="0.8"/><path d="M543.9,721.7L543.9,692.7L552.6,697.7L552.6,726.7" stroke="#333" stroke-width="0.7"/><path d="M545,722.3L545,694.5L551.5,698.3L551.5,726.1" stroke="#555" stroke-width="0.5"/><path d="M527.9,693.5L573,719.5" stroke="#777" stroke-width="0.5"/><path d="M527.9,674.5L573,700.5" stroke-width="2.5" stroke-linecap="square"/>
<g class="f"><path d="M521.9,705L485.5,726L485.5,710L521.9,689Z" stroke="#111" stroke-width="0.9"/><path d="M521,704.5L486.4,724.5L486.4,710.5L521,690.5Z" fill="none" stroke-width="0.5"/></g>
<path d="M296.7,683L272.5,697L272.5,735L296.7,721Z" fill="#fff" stroke="none"/><path d="M296.7,683L296.7,721M272.5,697L272.5,735M296.7,721L272.5,735" stroke="#1a1a1a" stroke-width="0.8"/><path d="M291.6,724L291.6,695L282.9,700L282.9,729" stroke="#333" stroke-width="0.7"/><path d="M290.5,724.6L290.5,696.8L284,700.6L284,728.4" stroke="#555" stroke-width="0.5"/><path d="M296.7,702L272.5,716" stroke="#777" stroke-width="0.5"/><path d="M296.7,683L272.5,697" stroke-width="3" stroke-linecap="square"/>
<path d="M379.8,679L310.6,719L310.6,757L379.8,717Z" fill="#fff" stroke="none"/><path d="M379.8,679L379.8,717M310.6,719L310.6,757M379.8,717L310.6,757" stroke="#1a1a1a" stroke-width="0.8"/><path d="M369,723.3L369,694.3L360.3,699.3L360.3,728.3" stroke="#333" stroke-width="0.7"/><path d="M367.9,723.9L367.9,696.1L361.3,699.9L361.3,727.7" stroke="#555" stroke-width="0.5"/><path d="M336.6,741.9L336.6,712.9L328,717.9L328,746.9" stroke="#333" stroke-width="0.7"/><path d="M335.6,742.5L335.6,714.7L329,718.5L329,746.3" stroke="#555" stroke-width="0.5"/><path d="M379.8,698L310.6,738" stroke="#777" stroke-width="0.5"/><path d="M345.2,699L345.2,737" stroke="#888" stroke-width="0.5"/><path d="M379.8,679L310.6,719" stroke-width="3.5" stroke-linecap="square"/>
<g class="f"><path d="M930.7,737.9L930.7,732.9M936.7,739.9L936.7,733.9M933.7,740.9L933.7,734.9" stroke-width="0.7" fill="none"/><ellipse cx="933.7" cy="732.4" rx="4.2" ry="2.5" stroke-width="0.8"/><path d="M929.7,732.4v-6q4,-4 8,0v6" fill="none" stroke-width=".9"/></g>
<g class="f"><ellipse cx="517.4" cy="745.7" rx="3.2" ry="2" stroke-width="0.7"/><path d="M514.4,745.7v-4q3,-3 6,0v4" fill="none" stroke-width=".8"/><ellipse cx="535.8" cy="744.6" rx="3.2" ry="2" stroke-width="0.7"/><path d="M532.8,744.6v-4q3,-3 6,0v4" fill="none" stroke-width=".8"/><ellipse cx="545.5" cy="734.9" rx="3.2" ry="2" stroke-width="0.7"/><path d="M542.5,734.9v-4q3,-3 6,0v4" fill="none" stroke-width=".8"/><ellipse cx="536.7" cy="726.3" rx="3.2" ry="2" stroke-width="0.7"/><path d="M533.7,726.3v-4q3,-3 6,0v4" fill="none" stroke-width=".8"/><ellipse cx="518.3" cy="727.4" rx="3.2" ry="2" stroke-width="0.7"/><path d="M515.3,727.4v-4q3,-3 6,0v4" fill="none" stroke-width=".8"/><ellipse cx="508.7" cy="737.1" rx="3.2" ry="2" stroke-width="0.7"/><path d="M505.7,737.1v-4q3,-3 6,0v4" fill="none" stroke-width=".8"/><path d="M516.7,738L518.9,739L521.5,739.6L524.3,739.8L527.4,739.7L530.4,739.1L533.2,738.2L535.7,737L537.8,735.5L539.4,733.9L540.3,732.2L540.6,730.4L540.2,728.8L539.1,727.3L537.5,726L535.3,725L532.7,724.4L529.8,724.2L526.8,724.3L523.8,724.9L520.9,725.8L518.4,727L516.3,728.5L514.8,730.1L513.8,731.8L513.5,733.6L513.9,735.2L515,736.7Z" stroke-width="0.8"/><path d="M527.1,733L527.1,741" stroke-width="0.8" fill="none"/></g>
<path d="M815.4,560.5L522.7,729.5L522.7,767.5L815.4,598.5Z" fill="#fff" stroke="none"/><path d="M815.4,560.5L815.4,598.5M522.7,729.5L522.7,767.5M815.4,598.5L522.7,767.5" stroke="#1a1a1a" stroke-width="0.8"/><path d="M745.1,639.1L745.1,610.1L736.5,615.1L736.5,644.1" stroke="#333" stroke-width="0.7"/><path d="M744.1,639.7L744.1,611.9L737.5,615.7L737.5,643.5" stroke="#555" stroke-width="0.5"/><path d="M600.2,722.7L600.2,693.7L591.6,698.7L591.6,727.7" stroke="#333" stroke-width="0.7"/><path d="M599.2,723.3L599.2,695.5L592.6,699.3L592.6,727.1" stroke="#555" stroke-width="0.5"/><path d="M815.4,579.5L522.7,748.5" stroke="#777" stroke-width="0.5"/><path d="M766.7,588.7L766.7,626.7M717.9,616.8L717.9,654.8M669.1,645L669.1,683M620.3,673.2L620.3,711.2M571.5,701.3L571.5,739.3" stroke="#888" stroke-width="0.5"/><path d="M815.4,560.5L522.7,729.5" stroke-width="3" stroke-linecap="square"/>
<g class="f"><path d="M767.8,589L774.7,593L774.7,632L767.8,628Z" fill="#222" stroke="#000" stroke-width="0.8"/><path d="M798.1,579.5L774.7,593L774.7,632L798.1,618.5Z" stroke="#000" stroke-width="0.8"/><path d="M791.2,575.5L798.1,579.5L774.7,593L767.8,589Z" stroke="#000" stroke-width="0.7"/><path d="M798.1,612L774.7,625.5" stroke="#111" stroke-width="1.3" fill="none"/><path d="M794.7,608L773,620.5" stroke="#444" stroke-width="0.5" fill="none"/><path d="M798.1,605.5L774.7,619" stroke="#111" stroke-width="1.3" fill="none"/><path d="M794.7,601.5L773,614" stroke="#444" stroke-width="0.5" fill="none"/><path d="M798.1,599L774.7,612.5" stroke="#111" stroke-width="1.3" fill="none"/><path d="M794.7,595L773,607.5" stroke="#444" stroke-width="0.5" fill="none"/><path d="M798.1,592.5L774.7,606" stroke="#111" stroke-width="1.3" fill="none"/><path d="M794.7,588.5L773,601" stroke="#444" stroke-width="0.5" fill="none"/><path d="M798.1,586L774.7,599.5" stroke="#111" stroke-width="1.3" fill="none"/><path d="M794.7,582L773,594.5" stroke="#444" stroke-width="0.5" fill="none"/><path d="M798.1,579.5L798.1,618.5" stroke="#000" stroke-width="2.2" fill="none"/><path d="M774.7,593L774.7,632" stroke="#000" stroke-width="2.6" fill="none"/><path d="M786.4,586.2L786.4,625.2" stroke="#111" stroke-width="0.9" fill="none"/></g>
<g class="f"><path d="M723.6,614.5L730.6,618.5L730.6,657.5L723.6,653.5Z" fill="#222" stroke="#000" stroke-width="0.8"/><path d="M754,605L730.6,618.5L730.6,657.5L754,644Z" stroke="#000" stroke-width="0.8"/><path d="M747,601L754,605L730.6,618.5L723.6,614.5Z" stroke="#000" stroke-width="0.7"/><path d="M754,637.5L730.6,651" stroke="#111" stroke-width="1.3" fill="none"/><path d="M750.5,633.5L728.8,646" stroke="#444" stroke-width="0.5" fill="none"/><path d="M754,631L730.6,644.5" stroke="#111" stroke-width="1.3" fill="none"/><path d="M750.5,627L728.8,639.5" stroke="#444" stroke-width="0.5" fill="none"/><path d="M754,624.5L730.6,638" stroke="#111" stroke-width="1.3" fill="none"/><path d="M750.5,620.5L728.8,633" stroke="#444" stroke-width="0.5" fill="none"/><path d="M754,618L730.6,631.5" stroke="#111" stroke-width="1.3" fill="none"/><path d="M750.5,614L728.8,626.5" stroke="#444" stroke-width="0.5" fill="none"/><path d="M754,611.5L730.6,625" stroke="#111" stroke-width="1.3" fill="none"/><path d="M750.5,607.5L728.8,620" stroke="#444" stroke-width="0.5" fill="none"/><path d="M754,605L754,644" stroke="#000" stroke-width="2.2" fill="none"/><path d="M730.6,618.5L730.6,657.5" stroke="#000" stroke-width="2.6" fill="none"/><path d="M742.3,611.8L742.3,650.8" stroke="#111" stroke-width="0.9" fill="none"/></g>
<g class="f"><path d="M771.3,618L775.6,620.5L775.6,658.5L771.3,656Z" stroke="#111" stroke-width="0.8"/><path d="M779.9,618L775.6,620.5L775.6,658.5L779.9,656Z" stroke="#111" stroke-width="0.8"/><path d="M775.6,615.5L779.9,618L775.6,620.5L771.3,618Z" stroke="#111" stroke-width="0.8"/><path d="M772.6,635.9L774,636.7L774,646.2L772.6,645.4Z" fill="#111" stroke-width="0.3"/><path d="M775.6,615.5L779.9,618L775.6,620.5L771.3,618Z" fill="#111" stroke="#000"/></g>
<g class="f"><use href="#dq00" x="828.9" y="635.8"/><use href="#dq02" x="851.4" y="648.8"/><use href="#dq11" x="826.3" y="637.2"/><use href="#dq04" x="873.9" y="661.8"/><use href="#dq13" x="848.8" y="650.2"/><use href="#dq00" x="896.4" y="674.8"/><use href="#dq15" x="871.3" y="663.2"/><use href="#dq02" x="918.9" y="687.8"/><use href="#dq11" x="893.8" y="676.2"/><use href="#dq13" x="916.3" y="689.2"/></g>
<g class="f"><path d="M679.5,640L686.4,644L686.4,683L679.5,679Z" fill="#222" stroke="#000" stroke-width="0.8"/><path d="M709.8,630.5L686.4,644L686.4,683L709.8,669.5Z" stroke="#000" stroke-width="0.8"/><path d="M702.9,626.5L709.8,630.5L686.4,644L679.5,640Z" stroke="#000" stroke-width="0.7"/><path d="M709.8,663L686.4,676.5" stroke="#111" stroke-width="1.3" fill="none"/><path d="M706.3,659L684.7,671.5" stroke="#444" stroke-width="0.5" fill="none"/><path d="M709.8,656.5L686.4,670" stroke="#111" stroke-width="1.3" fill="none"/><path d="M706.3,652.5L684.7,665" stroke="#444" stroke-width="0.5" fill="none"/><path d="M709.8,650L686.4,663.5" stroke="#111" stroke-width="1.3" fill="none"/><path d="M706.3,646L684.7,658.5" stroke="#444" stroke-width="0.5" fill="none"/><path d="M709.8,643.5L686.4,657" stroke="#111" stroke-width="1.3" fill="none"/><path d="M706.3,639.5L684.7,652" stroke="#444" stroke-width="0.5" fill="none"/><path d="M709.8,637L686.4,650.5" stroke="#111" stroke-width="1.3" fill="none"/><path d="M706.3,633L684.7,645.5" stroke="#444" stroke-width="0.5" fill="none"/><path d="M709.8,630.5L709.8,669.5" stroke="#000" stroke-width="2.2" fill="none"/><path d="M686.4,644L686.4,683" stroke="#000" stroke-width="2.6" fill="none"/><path d="M698.1,637.2L698.1,676.2" stroke="#111" stroke-width="0.9" fill="none"/></g>
<g class="f"><use href="#dq02" x="786.4" y="660.2"/><use href="#dq04" x="808.9" y="673.2"/><use href="#dq13" x="783.8" y="661.8"/><use href="#dq00" x="831.5" y="686.2"/><use href="#dq15" x="806.3" y="674.8"/><use href="#dq02" x="854" y="699.2"/><use href="#dq11" x="828.9" y="687.8"/><use href="#dq04" x="876.5" y="712.2"/><use href="#dq13" x="851.4" y="700.8"/><use href="#dq15" x="873.9" y="713.8"/></g>
<g class="f"><path d="M635.3,665.5L642.2,669.5L642.2,708.5L635.3,704.5Z" fill="#222" stroke="#000" stroke-width="0.8"/><path d="M665.6,656L642.2,669.5L642.2,708.5L665.6,695Z" stroke="#000" stroke-width="0.8"/><path d="M658.7,652L665.6,656L642.2,669.5L635.3,665.5Z" stroke="#000" stroke-width="0.7"/><path d="M665.6,688.5L642.2,702" stroke="#111" stroke-width="1.3" fill="none"/><path d="M662.2,684.5L640.5,697" stroke="#444" stroke-width="0.5" fill="none"/><path d="M665.6,682L642.2,695.5" stroke="#111" stroke-width="1.3" fill="none"/><path d="M662.2,678L640.5,690.5" stroke="#444" stroke-width="0.5" fill="none"/><path d="M665.6,675.5L642.2,689" stroke="#111" stroke-width="1.3" fill="none"/><path d="M662.2,671.5L640.5,684" stroke="#444" stroke-width="0.5" fill="none"/><path d="M665.6,669L642.2,682.5" stroke="#111" stroke-width="1.3" fill="none"/><path d="M662.2,665L640.5,677.5" stroke="#444" stroke-width="0.5" fill="none"/><path d="M665.6,662.5L642.2,676" stroke="#111" stroke-width="1.3" fill="none"/><path d="M662.2,658.5L640.5,671" stroke="#444" stroke-width="0.5" fill="none"/><path d="M665.6,656L665.6,695" stroke="#000" stroke-width="2.2" fill="none"/><path d="M642.2,669.5L642.2,708.5" stroke="#000" stroke-width="2.6" fill="none"/><path d="M653.9,662.8L653.9,701.8" stroke="#111" stroke-width="0.9" fill="none"/></g>
<g class="f"><path d="M695.1,662L699.4,664.5L699.4,702.5L695.1,700Z" stroke="#111" stroke-width="0.8"/><path d="M703.7,662L699.4,664.5L699.4,702.5L703.7,700Z" stroke="#111" stroke-width="0.8"/><path d="M699.4,659.5L703.7,662L699.4,664.5L695.1,662Z" stroke="#111" stroke-width="0.8"/><path d="M696.4,679.9L697.8,680.7L697.8,690.2L696.4,689.4Z" fill="#111" stroke-width="0.3"/><path d="M699.4,659.5L703.7,662L699.4,664.5L695.1,662Z" fill="#111" stroke="#000"/></g>
<g class="f"><use href="#dq04" x="744" y="684.8"/><use href="#dq00" x="766.5" y="697.8"/><use href="#dq15" x="741.4" y="686.2"/><use href="#dq02" x="789" y="710.8"/><use href="#dq11" x="763.9" y="699.2"/><use href="#dq04" x="811.5" y="723.8"/><use href="#dq13" x="786.4" y="712.2"/><use href="#dq00" x="834.1" y="736.8"/><use href="#dq15" x="808.9" y="725.2"/><use href="#dq11" x="831.5" y="738.2"/></g>
<g class="f"><path d="M715.9,691L763.5,718.5L763.5,731.5L715.9,704Z"/><path d="M772.1,713.5L763.5,718.5L763.5,731.5L772.1,726.5Z"/><path d="M724.5,686L772.1,713.5L763.5,718.5L715.9,691Z"/><use href="#fo0" x="724.2" y="689.8"/><use href="#fo1" x="732.1" y="694.4"/><use href="#fo2" x="740" y="699"/><use href="#fo0" x="748" y="703.5"/><use href="#fo1" x="755.9" y="708.1"/><use href="#fo2" x="763.8" y="712.7"/></g>
<g class="f"><path d="M713.3,698.5L724.5,705L724.5,717L713.3,710.5Z"/><path d="M727.1,703.5L724.5,705L724.5,717L727.1,715.5Z"/><path d="M715.9,697L727.1,703.5L724.5,705L713.3,698.5Z"/><path d="M704.6,706.5L707.2,708L707.2,717L704.6,715.5Z"/><path d="M715.9,703L707.2,708L707.2,717L715.9,712Z"/><path d="M713.3,701.5L715.9,703L707.2,708L704.6,706.5Z"/><path d="M707.2,711L713.3,714.5L713.3,720.5L707.2,717Z"/><path d="M721.9,709.5L713.3,714.5L713.3,720.5L721.9,715.5Z"/><path d="M715.9,706L721.9,709.5L713.3,714.5L707.2,711Z"/><path d="M713.3,711.5L715.9,713L715.9,722L713.3,720.5Z"/><path d="M724.5,708L715.9,713L715.9,722L724.5,717Z"/><path d="M721.9,706.5L724.5,708L715.9,713L713.3,711.5Z"/></g>
<g class="f"><path d="M679.5,695L711.5,713.5L711.5,726.5L679.5,708Z"/><path d="M715.9,711L711.5,713.5L711.5,726.5L715.9,724Z"/><path d="M683.8,692.5L715.9,711L711.5,713.5L679.5,695Z"/><path d="M672.6,706L704.6,724.5L704.6,730.5L672.6,712Z"/><path d="M711.5,720.5L704.6,724.5L704.6,730.5L711.5,726.5Z"/><path d="M679.5,702L711.5,720.5L704.6,724.5L672.6,706Z"/><path d="M695.5,711.2L688.6,715.2M688.6,715.2L688.6,721.2" fill="none"/></g>
<g class="f"><path d="M644.8,715L649.2,717.5L649.2,730.5L644.8,728Z"/><path d="M676.9,701.5L649.2,717.5L649.2,730.5L676.9,714.5Z"/><path d="M672.6,699L676.9,701.5L649.2,717.5L644.8,715Z"/><path d="M649.2,724.5L657,729L657,735L649.2,730.5Z"/><path d="M684.7,713L657,729L657,735L684.7,719Z"/><path d="M676.9,708.5L684.7,713L657,729L649.2,724.5Z"/><path d="M663,716.5L670.8,721M670.8,721L670.8,727" fill="none"/></g>
<g class="f"><path d="M728,707L739.2,713.5L739.2,725.5L728,719Z"/><path d="M741.8,712L739.2,713.5L739.2,725.5L741.8,724Z"/><path d="M730.6,705.5L741.8,712L739.2,713.5L728,707Z"/><path d="M719.3,715L721.9,716.5L721.9,725.5L719.3,724Z"/><path d="M730.6,711.5L721.9,716.5L721.9,725.5L730.6,720.5Z"/><path d="M728,710L730.6,711.5L721.9,716.5L719.3,715Z"/><path d="M721.9,719.5L728,723L728,729L721.9,725.5Z"/><path d="M736.6,718L728,723L728,729L736.6,724Z"/><path d="M730.6,714.5L736.6,718L728,723L721.9,719.5Z"/><path d="M728,720L730.6,721.5L730.6,730.5L728,729Z"/><path d="M739.2,716.5L730.6,721.5L730.6,730.5L739.2,725.5Z"/><path d="M736.6,715L739.2,716.5L730.6,721.5L728,720Z"/></g>
<g class="f"><ellipse cx="960.9" cy="724.5" rx="3" ry="1.7" stroke-width="0.7"/><path d="M960.9,724.5L960.9,715.5" stroke-width="1" fill="none"/><ellipse cx="960.9" cy="715" rx="5" ry="2.9" stroke-width="0.8"/></g>
<g class="f"><path d="M591.1,691L598.1,695L598.1,734L591.1,730Z" fill="#222" stroke="#000" stroke-width="0.8"/><path d="M621.5,681.5L598.1,695L598.1,734L621.5,720.5Z" stroke="#000" stroke-width="0.8"/><path d="M614.5,677.5L621.5,681.5L598.1,695L591.1,691Z" stroke="#000" stroke-width="0.7"/><path d="M621.5,714L598.1,727.5" stroke="#111" stroke-width="1.3" fill="none"/><path d="M618,710L596.3,722.5" stroke="#444" stroke-width="0.5" fill="none"/><path d="M621.5,707.5L598.1,721" stroke="#111" stroke-width="1.3" fill="none"/><path d="M618,703.5L596.3,716" stroke="#444" stroke-width="0.5" fill="none"/><path d="M621.5,701L598.1,714.5" stroke="#111" stroke-width="1.3" fill="none"/><path d="M618,697L596.3,709.5" stroke="#444" stroke-width="0.5" fill="none"/><path d="M621.5,694.5L598.1,708" stroke="#111" stroke-width="1.3" fill="none"/><path d="M618,690.5L596.3,703" stroke="#444" stroke-width="0.5" fill="none"/><path d="M621.5,688L598.1,701.5" stroke="#111" stroke-width="1.3" fill="none"/><path d="M618,684L596.3,696.5" stroke="#444" stroke-width="0.5" fill="none"/><path d="M621.5,681.5L621.5,720.5" stroke="#000" stroke-width="2.2" fill="none"/><path d="M598.1,695L598.1,734" stroke="#000" stroke-width="2.6" fill="none"/><path d="M609.8,688.2L609.8,727.2" stroke="#111" stroke-width="0.9" fill="none"/></g>
<g class="f"><path d="M687.7,720L687.7,726A7.3,4.2 0 0 0 702.4,726L702.4,720Z"/><ellipse cx="695.1" cy="720" rx="7.3" ry="4.2"/><ellipse cx="695.1" cy="720" rx="6.2" ry="3.6" fill="none"/></g>
<g class="f"><path d="M943.1,729.8L943.1,724.8M949.1,731.8L949.1,725.8M946.1,732.8L946.1,726.8" stroke-width="0.7" fill="none"/><ellipse cx="946.1" cy="724.3" rx="4.2" ry="2.5" stroke-width="0.8"/><path d="M942.1,724.3v-6q4,-4 8,0v6" fill="none" stroke-width=".9"/></g>
<g class="f"><path d="M691.2,731L691.2,736A7.3,4.2 0 0 0 705.9,736L705.9,731Z"/><ellipse cx="698.5" cy="731" rx="7.3" ry="4.2"/><ellipse cx="698.5" cy="731" rx="6.2" ry="3.6" fill="none"/></g>
<g class="f"><path d="M768.7,730.5L783.4,739L783.4,708L768.7,699.5Z" stroke="#111" stroke-width="0.8"/><path d="M776,734.8L776,703.8" fill="none"/><path d="M768.7,730.5L768.7,733.5M765.7,731.8L771.7,735.2M783.4,739L783.4,742M780.4,740.3L786.4,743.7" stroke="#111" stroke-width="0.9" fill="none"/></g>
<path d="M433.5,678L522.7,729.5L522.7,767.5L433.5,716Z" fill="#fff" stroke="none"/><path d="M433.5,678L433.5,716M522.7,729.5L522.7,767.5M433.5,716L522.7,767.5" stroke="#1a1a1a" stroke-width="0.8"/><path d="M453.2,727.3L453.2,698.3L461.9,703.3L461.9,732.3" stroke="#333" stroke-width="0.7"/><path d="M454.2,727.9L454.2,700.1L460.8,703.9L460.8,731.7" stroke="#555" stroke-width="0.5"/><path d="M495.7,751.9L495.7,722.9L504.3,727.9L504.3,756.9" stroke="#333" stroke-width="0.7"/><path d="M496.7,752.5L496.7,724.7L503.3,728.5L503.3,756.3" stroke="#555" stroke-width="0.5"/><path d="M433.5,697L522.7,748.5" stroke="#777" stroke-width="0.5"/><path d="M478.1,703.8L478.1,741.8" stroke="#888" stroke-width="0.5"/><path d="M433.5,678L522.7,729.5" stroke-width="3.5" stroke-linecap="square"/>
<g class="f"><path d="M425.7,713.5L445.7,725L445.7,735L425.7,723.5Z"/><path d="M454.3,720L445.7,725L445.7,735L454.3,730Z"/><path d="M434.4,708.5L454.3,720L445.7,725L425.7,713.5Z"/></g>
<g class="f"><path d="M313.2,748.5L321.8,753.5L321.8,766.5L313.2,761.5Z" stroke-width="0.7"/><path d="M397.2,710L321.8,753.5L321.8,766.5L397.2,723Z" stroke-width="0.7"/><path d="M388.5,705L397.2,710L321.8,753.5L313.2,748.5Z" stroke-width="0.7"/><path d="M386.4,729.2L386.4,716.2M375.6,735.4L375.6,722.4M364.9,741.6L364.9,728.6M354.1,747.9L354.1,734.9M343.3,754.1L343.3,741.1M332.6,760.3L332.6,747.3M397.2,712L321.8,755.5M397.2,716.5L321.8,760" fill="none"/><path d="M313.2,735.5L316.6,737.5L316.6,742.5L313.2,740.5Z" stroke-width="0.7"/><path d="M392,694L316.6,737.5L316.6,742.5L392,699Z" stroke-width="0.7"/><path d="M388.5,692L392,694L316.6,737.5L313.2,735.5Z" stroke-width="0.7"/><path d="M392,696.5L316.6,740" fill="none"/><path d="M367.7,709L372.1,711.5L372.1,719.5L367.7,717Z" fill="#222"/><path d="M384.2,704.5L372.1,711.5L372.1,719.5L384.2,712.5Z" fill="#222"/><path d="M379.8,702L384.2,704.5L372.1,711.5L367.7,709Z" fill="#222"/></g>
<g class="f"><path d="M620.6,705L624.9,707.5L624.9,745.5L620.6,743Z" stroke="#111" stroke-width="0.8"/><path d="M629.3,705L624.9,707.5L624.9,745.5L629.3,743Z" stroke="#111" stroke-width="0.8"/><path d="M624.9,702.5L629.3,705L624.9,707.5L620.6,705Z" stroke="#111" stroke-width="0.8"/><path d="M621.9,722.9L623.4,723.7L623.4,733.2L621.9,732.4Z" fill="#111" stroke-width="0.3"/><path d="M624.9,702.5L629.3,705L624.9,707.5L620.6,705Z" fill="#111" stroke="#000"/></g>
<g class="f"><path d="M691.2,740L691.2,744A7.3,4.2 0 0 0 705.9,744L705.9,740Z"/><ellipse cx="698.5" cy="740" rx="7.3" ry="4.2"/><ellipse cx="698.5" cy="740" rx="6.2" ry="3.6" fill="none"/></g>
<path d="M273.3,697.5L307.1,717L307.1,755L273.3,735.5Z" fill="#fff" stroke="none"/><path d="M273.3,697.5L273.3,735.5M307.1,717L307.1,755M273.3,735.5L307.1,755" stroke="#1a1a1a" stroke-width="0.8"/><path d="M281.6,740.3L281.6,711.3L290.3,716.3L290.3,745.3" stroke="#333" stroke-width="0.7"/><path d="M282.7,740.9L282.7,713.1L289.2,716.9L289.2,744.7" stroke="#555" stroke-width="0.5"/><path d="M273.3,716.5L307.1,736" stroke="#777" stroke-width="0.5"/><path d="M273.3,697.5L307.1,717" stroke-width="3.5" stroke-linecap="square"/>
<g class="f"><ellipse cx="226.9" cy="747.1" rx="3.2" ry="2" stroke-width="0.7"/><path d="M223.9,747.1v-4q3,-3 6,0v4" fill="none" stroke-width=".8"/><ellipse cx="245.5" cy="753.9" rx="3.2" ry="2" stroke-width="0.7"/><path d="M242.5,753.9v-4q3,-3 6,0v4" fill="none" stroke-width=".8"/><ellipse cx="259.4" cy="755.6" rx="3.2" ry="2" stroke-width="0.7"/><path d="M256.4,755.6v-4q3,-3 6,0v4" fill="none" stroke-width=".8"/><ellipse cx="265" cy="751.5" rx="3.2" ry="2" stroke-width="0.7"/><path d="M262,751.5v-4q3,-3 6,0v4" fill="none" stroke-width=".8"/><ellipse cx="260.7" cy="743" rx="3.2" ry="2" stroke-width="0.7"/><path d="M257.7,743v-4q3,-3 6,0v4" fill="none" stroke-width=".8"/><ellipse cx="247.8" cy="732.1" rx="3.2" ry="2" stroke-width="0.7"/><path d="M244.8,732.1v-4q3,-3 6,0v4" fill="none" stroke-width=".8"/><ellipse cx="229.6" cy="721.9" rx="3.2" ry="2" stroke-width="0.7"/><path d="M226.6,721.9v-4q3,-3 6,0v4" fill="none" stroke-width=".8"/><ellipse cx="211.1" cy="715.1" rx="3.2" ry="2" stroke-width="0.7"/><path d="M208.1,715.1v-4q3,-3 6,0v4" fill="none" stroke-width=".8"/><ellipse cx="197.2" cy="713.4" rx="3.2" ry="2" stroke-width="0.7"/><path d="M194.2,713.4v-4q3,-3 6,0v4" fill="none" stroke-width=".8"/><ellipse cx="191.6" cy="717.5" rx="3.2" ry="2" stroke-width="0.7"/><path d="M188.6,717.5v-4q3,-3 6,0v4" fill="none" stroke-width=".8"/><ellipse cx="195.9" cy="726" rx="3.2" ry="2" stroke-width="0.7"/><path d="M192.9,726v-4q3,-3 6,0v4" fill="none" stroke-width=".8"/><ellipse cx="208.8" cy="736.9" rx="3.2" ry="2" stroke-width="0.7"/><path d="M205.8,736.9v-4q3,-3 6,0v4" fill="none" stroke-width=".8"/><path d="M219.6,735.5L226.8,739.4L234,742.8L241,745.6L247.3,747.7L252.6,748.9L256.8,749.2L259.5,748.5L260.6,746.9L260.1,744.5L258.1,741.5L254.5,737.8L249.6,733.8L243.7,729.6L237,725.5L229.8,721.6L222.6,718.2L215.6,715.4L209.3,713.3L204,712.1L199.8,711.8L197.1,712.5L196,714.1L196.4,716.5L198.5,719.5L202.1,723.2L207,727.2L212.9,731.4Z" stroke-width="0.8"/><path d="M228.3,731.5L228.3,739.5" stroke-width="0.8" fill="none"/></g>
<g class="f"><path d="M445.7,707L508,743L508,771L445.7,735Z" stroke="#111" stroke-width="0.8"/><path d="M517.5,737.5L508,743L508,771L517.5,765.5Z" stroke="#111" stroke-width="0.8"/><path d="M455.2,701.5L517.5,737.5L508,743L445.7,707Z" stroke="#111" stroke-width="0.8"/><path d="M485.5,721.8L484.1,721.3M458.7,706.6L460.3,704M492.8,728.8L494.3,727.9M478.1,720L479.5,718M450,704.9L449.8,702.8M497.2,730.1L497.9,727.9M454.3,704.6L456.2,702.2M470.6,716.1L470.3,713.8M486.8,725.1L486.9,724.5M488.7,725.1L489.4,722.9M453.7,706.3L451.8,704.7M511.9,737L513.5,734.6M507.8,735.4L506.8,734.2M465.2,711.3L463.8,710.8M478.2,720.1L479.4,719.2M510.7,738.5L509.8,736.4M508.6,737.1L507.9,734.1M477.6,718.7L477.9,716" stroke="#111" stroke-width="1" fill="none"/><path d="M450.9,738L450.9,710M456.1,741L456.1,713M461.2,744L461.2,716M466.4,747L466.4,719M471.6,750L471.6,722M476.8,753L476.8,725M482,756L482,728M487.2,759L487.2,731M492.4,762L492.4,734M497.6,765L497.6,737M502.8,768L502.8,740M445.7,729.4L508,765.4M445.7,723.8L508,759.8M445.7,718.2L508,754.2M445.7,712.6L508,748.6" stroke="#111" stroke-width="0.9" fill="none"/><path d="M512.8,768.2L512.8,740.2M517.5,759.9L508,765.4M517.5,754.3L508,759.8M517.5,748.7L508,754.2M517.5,743.1L508,748.6" fill="none"/></g>
<g class="f"><path d="M547,716.5L553.9,720.5L553.9,759.5L547,755.5Z" fill="#222" stroke="#000" stroke-width="0.8"/><path d="M577.3,707L553.9,720.5L553.9,759.5L577.3,746Z" stroke="#000" stroke-width="0.8"/><path d="M570.4,703L577.3,707L553.9,720.5L547,716.5Z" stroke="#000" stroke-width="0.7"/><path d="M577.3,739.5L553.9,753" stroke="#111" stroke-width="1.3" fill="none"/><path d="M573.8,735.5L552.2,748" stroke="#444" stroke-width="0.5" fill="none"/><path d="M577.3,733L553.9,746.5" stroke="#111" stroke-width="1.3" fill="none"/><path d="M573.8,729L552.2,741.5" stroke="#444" stroke-width="0.5" fill="none"/><path d="M577.3,726.5L553.9,740" stroke="#111" stroke-width="1.3" fill="none"/><path d="M573.8,722.5L552.2,735" stroke="#444" stroke-width="0.5" fill="none"/><path d="M577.3,720L553.9,733.5" stroke="#111" stroke-width="1.3" fill="none"/><path d="M573.8,716L552.2,728.5" stroke="#444" stroke-width="0.5" fill="none"/><path d="M577.3,713.5L553.9,727" stroke="#111" stroke-width="1.3" fill="none"/><path d="M573.8,709.5L552.2,722" stroke="#444" stroke-width="0.5" fill="none"/><path d="M577.3,707L577.3,746" stroke="#000" stroke-width="2.2" fill="none"/><path d="M553.9,720.5L553.9,759.5" stroke="#000" stroke-width="2.6" fill="none"/><path d="M565.6,713.8L565.6,752.8" stroke="#111" stroke-width="0.9" fill="none"/></g>
<g class="f"><path d="M744.5,722L744.5,746M749.5,721L749.5,748" stroke-width="0.7" fill="none"/><path d="M742.5,747q4,5 9,-1" fill="none" stroke-width="1.6" stroke="#111"/><path d="M742.5,753q4,4 9,-1" fill="none" stroke="#777" stroke-width=".8"/></g>
<g class="f"><path d="M905.6,751.4L905.6,746.4M911.6,753.4L911.6,747.4M908.6,754.4L908.6,748.4" stroke-width="0.7" fill="none"/><ellipse cx="908.6" cy="745.9" rx="4.2" ry="2.5" stroke-width="0.8"/><path d="M904.6,745.9v-6q4,-4 8,0v6" fill="none" stroke-width=".9"/></g>
<g class="f"><ellipse cx="805.9" cy="755" rx="4.9" ry="2.8"/><path d="M805.3,755L805.3,739M806.5,755L806.5,739" fill="none"/><path d="M799.8,738L799.8,739A6.1,3.5 0 0 0 812,739L812,738Z"/><ellipse cx="805.9" cy="738" rx="6.1" ry="3.5"/><path d="M802.9,737L807.9,739.5L808.9,733.5L803.9,731.5Z" stroke-width="0.8"/><path d="M803.9,736.5L807.4,738.5L808.2,734L804.5,732.5Z" fill="#333" stroke-width="0.3"/></g>
<g class="f"><path d="M653.5,747L685.5,765.5L685.5,753.5L653.5,735Z" stroke="#111" stroke-width="0.8"/><path d="M669.5,756.2L669.5,744.2" fill="none"/><path d="M653.5,747L653.5,749M650.5,747.3L656.5,750.7M685.5,765.5L685.5,767.5M682.5,765.8L688.5,769.2" stroke="#111" stroke-width="0.9" fill="none"/></g>
<g class="f"><path d="M893.5,760.4L893.5,755.4M899.5,762.4L899.5,756.4M896.5,763.4L896.5,757.4" stroke-width="0.7" fill="none"/><ellipse cx="896.5" cy="754.9" rx="4.2" ry="2.5" stroke-width="0.8"/><path d="M892.5,754.9v-6q4,-4 8,0v6" fill="none" stroke-width=".9"/></g>
<g class="f"><path d="M727.2,732L727.2,756M732.2,731L732.2,758" stroke-width="0.7" fill="none"/><path d="M725.2,757q4,5 9,-1" fill="none" stroke-width="1.6" stroke="#111"/><path d="M725.2,763q4,4 9,-1" fill="none" stroke="#777" stroke-width=".8"/></g>
<path d="M299.3,720.5L279.4,732" stroke-width="1.8"/><path d="M299.3,722.5L279.4,734" stroke="#111" stroke-width="0.9"/><path d="M299.3,724.1L279.4,735.6" stroke="#222" stroke-width="0.8"/><path d="M299.3,758.5L279.4,770" stroke="#1a1a1a"/><path d="M299.3,756.3L279.4,767.8" stroke="#444" stroke-width="0.6"/><path d="M299.3,754.5L279.4,766" stroke="#666" stroke-width="0.5"/><path d="M298.6,720.5L298.6,758.5M288.6,726.2L288.6,764.2M278.7,732L278.7,770" stroke="#1a1a1a" stroke-width="0.9"/><path d="M300.2,720.5L300.2,758.5M290.2,726.2L290.2,764.2M280.3,732L280.3,770" stroke="#333" stroke-width="0.7"/>
<g class="f"><path d="M347.8,769.5L356.5,774.5L356.5,786.5L347.8,781.5Z" stroke-width="0.7"/><path d="M423.1,736L356.5,774.5L356.5,786.5L423.1,748Z" stroke-width="0.7"/><path d="M414.5,731L423.1,736L356.5,774.5L347.8,769.5Z" stroke-width="0.7"/><path d="M413.6,753.5L413.6,741.5M404.1,759L404.1,747M394.6,764.5L394.6,752.5M385,770L385,758M375.5,775.5L375.5,763.5M366,781L366,769M423.1,738L356.5,776.5M423.1,742L356.5,780.5" fill="none"/><use href="#fo0" x="414.1" y="735.2"/><use href="#fo1" x="404.5" y="740.8"/><use href="#fo2" x="395" y="746.2"/><use href="#fo0" x="385.5" y="751.8"/><use href="#fo1" x="375.9" y="757.2"/><use href="#fo2" x="366.4" y="762.8"/><use href="#fo0" x="356.9" y="768.2"/></g>
<g class="f"><ellipse cx="825.8" cy="767.5" rx="4.9" ry="2.8"/><path d="M825.2,767.5L825.2,751.5M826.4,767.5L826.4,751.5" fill="none"/><path d="M819.7,750.5L819.7,751.5A6.1,3.5 0 0 0 832,751.5L832,750.5Z"/><ellipse cx="825.8" cy="750.5" rx="6.1" ry="3.5"/><path d="M822.8,749.5L827.8,752L828.8,746L823.8,744Z" stroke-width="0.8"/><path d="M823.8,749L827.3,751L828.1,746.5L824.4,745Z" fill="#333" stroke-width="0.3"/></g>
<g class="f"><path d="M356.5,779.5L359.9,781.5L359.9,788.5L356.5,786.5Z"/><path d="M426.6,743L359.9,781.5L359.9,788.5L426.6,750Z"/><path d="M423.1,741L426.6,743L359.9,781.5L356.5,779.5Z"/></g>
<g class="f"><ellipse cx="883" cy="769.5" rx="3" ry="1.7" stroke-width="0.7"/><path d="M883,769.5L883,760.5" stroke-width="1" fill="none"/><ellipse cx="883" cy="760" rx="5" ry="2.9" stroke-width="0.8"/></g>
<g class="f"><path d="M438.7,765.5L438.7,771.5A6.1,3.5 0 0 0 450.9,771.5L450.9,765.5Z"/><ellipse cx="444.8" cy="765.5" rx="6.1" ry="3.5"/><ellipse cx="444.8" cy="765.5" rx="5.2" ry="3" fill="none"/></g>
<g class="f"><path d="M863.9,775.3L863.9,770.3M869.9,777.3L869.9,771.3M866.9,778.3L866.9,772.3" stroke-width="0.7" fill="none"/><ellipse cx="866.9" cy="769.8" rx="4.2" ry="2.5" stroke-width="0.8"/><path d="M862.9,769.8v-6q4,-4 8,0v6" fill="none" stroke-width=".9"/></g>
<g class="f"><path d="M417,771L417,777A6.1,3.5 0 0 0 429.3,777L429.3,771Z"/><ellipse cx="423.1" cy="771" rx="6.1" ry="3.5"/><ellipse cx="423.1" cy="771" rx="5.2" ry="3" fill="none"/></g>
<g class="f"><path d="M278.5,731.5L248.2,749L248.2,787L278.5,769.5Z" fill="url(#cu)"/><path d="M278.5,731.5L248.2,749" stroke="#000" stroke-width="1.8" fill="none"/></g>
<g class="f"><path d="M681.2,768L706.3,782.5L706.3,753.5L681.2,739Z" stroke="#111" stroke-width="0.8"/><path d="M693.8,775.2L693.8,746.2" fill="none"/><path d="M681.2,768L681.2,771M678.2,769.3L684.2,772.7M706.3,782.5L706.3,785.5M703.3,783.8L709.3,787.2" stroke="#111" stroke-width="0.9" fill="none"/></g>
<g class="f"><path d="M763.5,778L763.5,785A4.3,2.5 0 0 0 772.1,785L772.1,778Z"/><ellipse cx="767.8" cy="778" rx="4.3" ry="2.5"/><ellipse cx="767.8" cy="778" rx="3.6" ry="2.1" fill="none"/></g>
<g class="f"><path d="M546.1,748L550.4,750.5L550.4,788.5L546.1,786Z" stroke="#111" stroke-width="0.8"/><path d="M554.8,748L550.4,750.5L550.4,788.5L554.8,786Z" stroke="#111" stroke-width="0.8"/><path d="M550.4,745.5L554.8,748L550.4,750.5L546.1,748Z" stroke="#111" stroke-width="0.8"/><path d="M547.4,765.9L548.9,766.7L548.9,776.2L547.4,775.4Z" fill="#111" stroke-width="0.3"/><path d="M550.4,745.5L554.8,748L550.4,750.5L546.1,748Z" fill="#111" stroke="#000"/></g>
<path d="M486.4,747.5L455.2,765.5L455.2,798.5L486.4,780.5Z" fill="#fff" stroke="none"/><path d="M486.4,747.5L486.4,780.5M455.2,765.5L455.2,798.5M486.4,780.5L455.2,798.5" stroke="#1a1a1a" stroke-width="0.8"/><path d="M486.4,747.5L455.2,765.5" stroke-width="3.5" stroke-linecap="square"/>
<g class="f"><path d="M257.8,796.2L257.8,791.2M263.8,798.2L263.8,792.2M260.8,799.2L260.8,793.2" stroke-width="0.7" fill="none"/><ellipse cx="260.8" cy="790.7" rx="4.2" ry="2.5" stroke-width="0.8"/><path d="M256.8,790.7v-6q4,-4 8,0v6" fill="none" stroke-width=".9"/></g>
<g class="f"><path d="M378.9,792L378.9,798A6.1,3.5 0 0 0 391.2,798L391.2,792Z"/><ellipse cx="385" cy="792" rx="6.1" ry="3.5"/><ellipse cx="385" cy="792" rx="5.2" ry="3" fill="none"/></g>
<g class="f"><path d="M824.8,797.8L824.8,792.8M830.8,799.8L830.8,793.8M827.8,800.8L827.8,794.8" stroke-width="0.7" fill="none"/><ellipse cx="827.8" cy="792.3" rx="4.2" ry="2.5" stroke-width="0.8"/><path d="M823.8,792.3v-6q4,-4 8,0v6" fill="none" stroke-width=".9"/></g>
<g class="f"><path d="M714.1,775L749.6,795.5L749.6,812.5L714.1,792Z"/><path d="M757.4,791L749.6,795.5L749.6,812.5L757.4,808Z"/><path d="M721.9,770.5L757.4,791L749.6,795.5L714.1,775Z"/><path d="M720,795.4L720,778.4M726,798.8L726,781.8M731.9,802.2L731.9,785.2M737.8,805.7L737.8,788.7M743.7,809.1L743.7,792.1M714.1,783.5L749.6,804M757.4,799.5L749.6,804" fill="none"/><use href="#fo0" x="722.5" y="774.3"/><use href="#fo1" x="731.3" y="779.4"/><use href="#fo2" x="740.2" y="784.6"/><use href="#fo0" x="749.1" y="789.7"/></g>
<g class="f"><use href="#dq06" x="609.8" y="762.2"/><use href="#dq08" x="631.8" y="775"/><use href="#dq17" x="607.2" y="763.8"/><use href="#dq010" x="653.9" y="787.8"/><use href="#dq19" x="629.3" y="776.5"/><use href="#dq06" x="676" y="800.5"/><use href="#dq111" x="651.3" y="789.2"/><use href="#dq08" x="698.1" y="813.2"/><use href="#dq17" x="673.4" y="802"/><use href="#dq19" x="695.5" y="814.8"/></g>
<g class="f"><path d="M363.3,794L363.3,800A6.1,3.5 0 0 0 375.6,800L375.6,794Z"/><ellipse cx="369.5" cy="794" rx="6.1" ry="3.5"/><ellipse cx="369.5" cy="794" rx="5.2" ry="3" fill="none"/></g>
<g class="f"><ellipse cx="271.6" cy="805.5" rx="3" ry="1.7" stroke-width="0.7"/><path d="M271.6,805.5L271.6,796.5" stroke-width="1" fill="none"/><ellipse cx="271.6" cy="796" rx="5" ry="2.9" stroke-width="0.8"/></g>
<g class="f"><path d="M812.4,804.9L812.4,799.9M818.4,806.9L818.4,800.9M815.4,807.9L815.4,801.9" stroke-width="0.7" fill="none"/><ellipse cx="815.4" cy="799.4" rx="4.2" ry="2.5" stroke-width="0.8"/><path d="M811.4,799.4v-6q4,-4 8,0v6" fill="none" stroke-width=".9"/></g>
<g class="f"><path d="M284.8,810.9L284.8,805.9M290.8,812.9L290.8,806.9M287.8,813.9L287.8,807.9" stroke-width="0.7" fill="none"/><ellipse cx="287.8" cy="805.4" rx="4.2" ry="2.5" stroke-width="0.8"/><path d="M283.8,805.4v-6q4,-4 8,0v6" fill="none" stroke-width=".9"/></g>
<g class="f"><path d="M410.2,782.5L417.1,786.5L417.1,824.5L410.2,820.5Z" fill="#222" stroke="#000" stroke-width="0.8"/><path d="M446.5,769.5L417.1,786.5L417.1,824.5L446.5,807.5Z" stroke="#000" stroke-width="0.8"/><path d="M439.6,765.5L446.5,769.5L417.1,786.5L410.2,782.5Z" stroke="#000" stroke-width="0.7"/><path d="M446.5,801.2L417.1,818.2" stroke="#111" stroke-width="1.3" fill="none"/><path d="M443.1,797.2L415.3,813.2" stroke="#444" stroke-width="0.5" fill="none"/><path d="M446.5,794.8L417.1,811.8" stroke="#111" stroke-width="1.3" fill="none"/><path d="M443.1,790.8L415.3,806.8" stroke="#444" stroke-width="0.5" fill="none"/><path d="M446.5,788.5L417.1,805.5" stroke="#111" stroke-width="1.3" fill="none"/><path d="M443.1,784.5L415.3,800.5" stroke="#444" stroke-width="0.5" fill="none"/><path d="M446.5,782.2L417.1,799.2" stroke="#111" stroke-width="1.3" fill="none"/><path d="M443.1,778.2L415.3,794.2" stroke="#444" stroke-width="0.5" fill="none"/><path d="M446.5,775.8L417.1,792.8" stroke="#111" stroke-width="1.3" fill="none"/><path d="M443.1,771.8L415.3,787.8" stroke="#444" stroke-width="0.5" fill="none"/><path d="M446.5,769.5L446.5,807.5" stroke="#000" stroke-width="2.2" fill="none"/><path d="M417.1,786.5L417.1,824.5" stroke="#000" stroke-width="2.6" fill="none"/><path d="M431.8,778L431.8,816" stroke="#111" stroke-width="0.9" fill="none"/></g>
<g class="f"><ellipse cx="805" cy="814.5" rx="3" ry="1.7" stroke-width="0.7"/><path d="M805,814.5L805,805.5" stroke-width="1" fill="none"/><ellipse cx="805" cy="805" rx="5" ry="2.9" stroke-width="0.8"/></g>
<g class="f"><use href="#dq08" x="568.2" y="786.2"/><use href="#dq010" x="590.3" y="799"/><use href="#dq19" x="565.6" y="787.8"/><use href="#dq06" x="612.4" y="811.8"/><use href="#dq111" x="587.7" y="800.5"/><use href="#dq08" x="634.4" y="824.5"/><use href="#dq17" x="609.8" y="813.2"/><use href="#dq010" x="656.5" y="837.2"/><use href="#dq19" x="631.9" y="826"/><use href="#dq111" x="653.9" y="838.8"/></g>
<g class="f"><path d="M295.6,818.1L295.6,813.1M301.6,820.1L301.6,814.1M298.6,821.1L298.6,815.1" stroke-width="0.7" fill="none"/><ellipse cx="298.6" cy="812.6" rx="4.2" ry="2.5" stroke-width="0.8"/><path d="M294.6,812.6v-6q4,-4 8,0v6" fill="none" stroke-width=".9"/></g>
<g class="f"><path d="M790.5,819.8L790.5,814.8M796.5,821.8L796.5,815.8M793.5,822.8L793.5,816.8" stroke-width="0.7" fill="none"/><ellipse cx="793.5" cy="814.3" rx="4.2" ry="2.5" stroke-width="0.8"/><path d="M789.5,814.3v-6q4,-4 8,0v6" fill="none" stroke-width=".9"/></g>
<g class="f"><path d="M333.9,841.7L333.9,836.7M339.9,843.7L339.9,837.7M336.9,844.7L336.9,838.7" stroke-width="0.7" fill="none"/><ellipse cx="336.9" cy="836.2" rx="4.2" ry="2.5" stroke-width="0.8"/><path d="M332.9,836.2v-6q4,-4 8,0v6" fill="none" stroke-width=".9"/></g>
<g class="f"><path d="M749.1,841.7L749.1,836.7M755.1,843.7L755.1,837.7M752.1,844.7L752.1,838.7" stroke-width="0.7" fill="none"/><ellipse cx="752.1" cy="836.2" rx="4.2" ry="2.5" stroke-width="0.8"/><path d="M748.1,836.2v-6q4,-4 8,0v6" fill="none" stroke-width=".9"/></g>
<g class="f"><use href="#dq010" x="526.6" y="810.2"/><use href="#dq06" x="548.7" y="823"/><use href="#dq111" x="524" y="811.8"/><use href="#dq08" x="570.8" y="835.8"/><use href="#dq17" x="546.1" y="824.5"/><use href="#dq010" x="592.9" y="848.5"/><use href="#dq19" x="568.2" y="837.2"/><use href="#dq06" x="615" y="861.2"/><use href="#dq111" x="590.3" y="850"/><use href="#dq17" x="612.4" y="862.8"/></g>
<g class="f"><ellipse cx="349.5" cy="850.5" rx="3" ry="1.7" stroke-width="0.7"/><path d="M349.5,850.5L349.5,841.5" stroke-width="1" fill="none"/><ellipse cx="349.5" cy="841" rx="5" ry="2.9" stroke-width="0.8"/></g>
<g class="f"><path d="M735.1,851.8L735.1,846.8M741.1,853.8L741.1,847.8M738.1,854.8L738.1,848.8" stroke-width="0.7" fill="none"/><ellipse cx="738.1" cy="846.3" rx="4.2" ry="2.5" stroke-width="0.8"/><path d="M734.1,846.3v-6q4,-4 8,0v6" fill="none" stroke-width=".9"/></g>
<path d="M443.9,808L469.9,823L469.9,861L443.9,846Z" fill="#fff" stroke="none"/><path d="M443.9,808L443.9,846M469.9,823L469.9,861M443.9,846L469.9,861" stroke="#1a1a1a" stroke-width="0.8"/><path d="M452.1,850.7L452.1,821.7L460.8,826.7L460.8,855.7" stroke="#333" stroke-width="0.7"/><path d="M453.1,851.3L453.1,823.5L459.7,827.3L459.7,855.1" stroke="#555" stroke-width="0.5"/><path d="M443.9,827L469.9,842" stroke="#777" stroke-width="0.5"/><path d="M443.9,808L469.9,823" stroke-width="2.5" stroke-linecap="square"/>
<g class="f"><path d="M361.2,855.9L361.2,850.9M367.2,857.9L367.2,851.9M364.2,858.9L364.2,852.9" stroke-width="0.7" fill="none"/><ellipse cx="364.2" cy="850.4" rx="4.2" ry="2.5" stroke-width="0.8"/><path d="M360.2,850.4v-6q4,-4 8,0v6" fill="none" stroke-width=".9"/></g>
<g class="f"><ellipse cx="727.1" cy="859.5" rx="3" ry="1.7" stroke-width="0.7"/><path d="M727.1,859.5L727.1,850.5" stroke-width="1" fill="none"/><ellipse cx="727.1" cy="850" rx="5" ry="2.9" stroke-width="0.8"/></g>
<path d="M443.9,808L386.8,841L386.8,879L443.9,846Z" fill="#fff" stroke="none"/><path d="M443.9,808L443.9,846M386.8,841L386.8,879M443.9,846L386.8,879" stroke="#1a1a1a" stroke-width="0.8"/><path d="M421,859.2L421,830.2L412.4,835.2L412.4,864.2" stroke="#333" stroke-width="0.7"/><path d="M420,859.8L420,832L413.4,835.8L413.4,863.6" stroke="#555" stroke-width="0.5"/><path d="M443.9,827L386.8,860" stroke="#777" stroke-width="0.5"/><path d="M415.3,824.5L415.3,862.5" stroke="#888" stroke-width="0.5"/><path d="M443.9,808L386.8,841" stroke-width="2" stroke-linecap="square"/>
<g class="f"><path d="M371.7,863.2L371.7,858.2M377.7,865.2L377.7,859.2M374.7,866.2L374.7,860.2" stroke-width="0.7" fill="none"/><ellipse cx="374.7" cy="857.7" rx="4.2" ry="2.5" stroke-width="0.8"/><path d="M370.7,857.7v-6q4,-4 8,0v6" fill="none" stroke-width=".9"/></g>
<g class="f"><path d="M711.7,865.5L711.7,860.5M717.7,867.5L717.7,861.5M714.7,868.5L714.7,862.5" stroke-width="0.7" fill="none"/><ellipse cx="714.7" cy="860" rx="4.2" ry="2.5" stroke-width="0.8"/><path d="M710.7,860v-6q4,-4 8,0v6" fill="none" stroke-width=".9"/></g>
<g class="f"><path d="M416.2,825L392.8,838.5L392.8,876.5L416.2,863Z" fill="url(#cu)"/><path d="M416.2,825L392.8,838.5" stroke="#000" stroke-width="1.8" fill="none"/></g>
<g class="f"><path d="M468.2,824L521.9,855L521.9,893L468.2,862Z" fill="url(#cu)"/><path d="M468.2,824L521.9,855" stroke="#000" stroke-width="1.8" fill="none"/></g>
<g class="f"><path d="M445.7,852L471.6,867L471.6,880L445.7,865Z"/><path d="M476,864.5L471.6,867L471.6,880L476,877.5Z"/><path d="M450,849.5L476,864.5L471.6,867L445.7,852Z"/><path d="M438.7,863L464.7,878L464.7,884L438.7,869Z"/><path d="M471.6,874L464.7,878L464.7,884L471.6,880Z"/><path d="M445.7,859L471.6,874L464.7,878L438.7,863Z"/><path d="M458.6,866.5L451.7,870.5M451.7,870.5L451.7,876.5" fill="none"/></g>
<g class="f"><path d="M429.5,869.5L429.5,876.5A4.9,2.8 0 0 0 439.3,876.5L439.3,869.5Z"/><ellipse cx="434.4" cy="869.5" rx="4.9" ry="2.8"/><ellipse cx="434.4" cy="869.5" rx="4.2" ry="2.4" fill="none"/></g>
<g class="f"><path d="M401,871L401,879A3.1,1.8 0 0 0 407.2,879L407.2,871Z"/><ellipse cx="404.1" cy="871" rx="3.1" ry="1.8"/><use href="#fo2" x="404.1" y="869"/></g>
<g class="f"><path d="M409.9,886L409.9,881M415.9,888L415.9,882M412.9,889L412.9,883" stroke-width="0.7" fill="none"/><ellipse cx="412.9" cy="880.5" rx="4.2" ry="2.5" stroke-width="0.8"/><path d="M408.9,880.5v-6q4,-4 8,0v6" fill="none" stroke-width=".9"/></g>
<g class="f"><path d="M671.2,888.1L671.2,883.1M677.2,890.1L677.2,884.1M674.2,891.1L674.2,885.1" stroke-width="0.7" fill="none"/><ellipse cx="674.2" cy="882.6" rx="4.2" ry="2.5" stroke-width="0.8"/><path d="M670.2,882.6v-6q4,-4 8,0v6" fill="none" stroke-width=".9"/></g>
<g class="f"><path d="M443.1,874.5L452.6,880L452.6,892L443.1,886.5Z"/><path d="M455.2,878.5L452.6,880L452.6,892L455.2,890.5Z"/><path d="M445.7,873L455.2,878.5L452.6,880L443.1,874.5Z"/><path d="M436.1,881.5L438.7,883L438.7,892L436.1,890.5Z"/><path d="M445.7,879L438.7,883L438.7,892L445.7,888Z"/><path d="M443.1,877.5L445.7,879L438.7,883L436.1,881.5Z"/><path d="M438.7,886L443.1,888.5L443.1,894.5L438.7,892Z"/><path d="M450,884.5L443.1,888.5L443.1,894.5L450,890.5Z"/><path d="M445.7,882L450,884.5L443.1,888.5L438.7,886Z"/><path d="M443.1,885.5L445.7,887L445.7,896L443.1,894.5Z"/><path d="M452.6,883L445.7,887L445.7,896L452.6,892Z"/><path d="M450,881.5L452.6,883L445.7,887L443.1,885.5Z"/></g>
<g class="f"><path d="M477.7,876.5L487.2,882L487.2,894L477.7,888.5Z"/><path d="M489.8,880.5L487.2,882L487.2,894L489.8,892.5Z"/><path d="M480.3,875L489.8,880.5L487.2,882L477.7,876.5Z"/><path d="M470.8,883.5L473.4,885L473.4,894L470.8,892.5Z"/><path d="M480.3,881L473.4,885L473.4,894L480.3,890Z"/><path d="M477.7,879.5L480.3,881L473.4,885L470.8,883.5Z"/><path d="M473.4,888L477.7,890.5L477.7,896.5L473.4,894Z"/><path d="M484.6,886.5L477.7,890.5L477.7,896.5L484.6,892.5Z"/><path d="M480.3,884L484.6,886.5L477.7,890.5L473.4,888Z"/><path d="M477.7,887.5L480.3,889L480.3,898L477.7,896.5Z"/><path d="M487.2,885L480.3,889L480.3,898L487.2,894Z"/><path d="M484.6,883.5L487.2,885L480.3,889L477.7,887.5Z"/></g>
<g class="f"><ellipse cx="427.5" cy="895.5" rx="3" ry="1.7" stroke-width="0.7"/><path d="M427.5,895.5L427.5,886.5" stroke-width="1" fill="none"/><ellipse cx="427.5" cy="886" rx="5" ry="2.9" stroke-width="0.8"/></g>
<g class="f"><path d="M660,895.3L660,890.3M666,897.3L666,891.3M663,898.3L663,892.3" stroke-width="0.7" fill="none"/><ellipse cx="663" cy="889.8" rx="4.2" ry="2.5" stroke-width="0.8"/><path d="M659,889.8v-6q4,-4 8,0v6" fill="none" stroke-width=".9"/></g>
<path d="M523.6,854L560.8,875.5" stroke-width="2" stroke-linecap="square"/>
<g class="f"><path d="M439.3,902.3L439.3,897.3M445.3,904.3L445.3,898.3M442.3,905.3L442.3,899.3" stroke-width="0.7" fill="none"/><ellipse cx="442.3" cy="896.8" rx="4.2" ry="2.5" stroke-width="0.8"/><path d="M438.3,896.8v-6q4,-4 8,0v6" fill="none" stroke-width=".9"/></g>
<g class="f"><ellipse cx="649.2" cy="904.5" rx="3" ry="1.7" stroke-width="0.7"/><path d="M649.2,904.5L649.2,895.5" stroke-width="1" fill="none"/><ellipse cx="649.2" cy="895" rx="5" ry="2.9" stroke-width="0.8"/></g>
<g class="f"><path d="M454,908.6L454,903.6M460,910.6L460,904.6M457,911.6L457,905.6" stroke-width="0.7" fill="none"/><ellipse cx="457" cy="903.1" rx="4.2" ry="2.5" stroke-width="0.8"/><path d="M453,903.1v-6q4,-4 8,0v6" fill="none" stroke-width=".9"/></g>
<g class="f"><path d="M632.4,911.3L632.4,906.3M638.4,913.3L638.4,907.3M635.4,914.3L635.4,908.3" stroke-width="0.7" fill="none"/><ellipse cx="635.4" cy="905.8" rx="4.2" ry="2.5" stroke-width="0.8"/><path d="M631.4,905.8v-6q4,-4 8,0v6" fill="none" stroke-width=".9"/></g>
<g class="f"><path d="M578.2,865.5L612.8,885.5L612.8,923.5L578.2,903.5Z" fill="url(#cu)"/><path d="M578.2,865.5L612.8,885.5" stroke="#000" stroke-width="1.8" fill="none"/></g>
<path d="M574.7,867.5L580.8,871L580.8,909L574.7,905.5Z" fill="#fff" stroke="none"/><path d="M574.7,867.5L574.7,905.5M580.8,871L580.8,909M574.7,905.5L580.8,909" stroke="#1a1a1a" stroke-width="0.8"/><path d="M574.7,867.5L580.8,871" stroke-width="3" stroke-linecap="square"/>
<path d="M574.7,867.5L503.7,908.5L503.7,946.5L574.7,905.5Z" fill="#fff" stroke="none"/><path d="M574.7,867.5L574.7,905.5M503.7,908.5L503.7,946.5M574.7,905.5L503.7,946.5" stroke="#1a1a1a" stroke-width="0.8"/><path d="M556.5,916L556.5,887L547.8,892L547.8,921" stroke="#333" stroke-width="0.7"/><path d="M555.5,916.6L555.5,888.8L548.9,892.6L548.9,920.4" stroke="#555" stroke-width="0.5"/><path d="M525.9,933.7L525.9,904.7L517.3,909.7L517.3,938.7" stroke="#333" stroke-width="0.7"/><path d="M524.9,934.3L524.9,906.5L518.3,910.3L518.3,938.1" stroke="#555" stroke-width="0.5"/><path d="M574.7,886.5L503.7,927.5" stroke="#777" stroke-width="0.5"/><path d="M539.2,888L539.2,926" stroke="#888" stroke-width="0.5"/><path d="M574.7,867.5L503.7,908.5" stroke-width="4.5" stroke-linecap="square"/>
<g class="f"><path d="M560,877L547.8,884L547.8,922L560,915Z" fill="url(#cu)"/><path d="M560,877L547.8,884" stroke="#000" stroke-width="1.8" fill="none"/></g>
<g class="f"><path d="M581.6,914.5L590.3,919.5L590.3,931.5L581.6,926.5Z"/><path d="M592.9,918L590.3,919.5L590.3,931.5L592.9,930Z"/><path d="M584.2,913L592.9,918L590.3,919.5L581.6,914.5Z"/><path d="M575.6,921L578.2,922.5L578.2,931.5L575.6,930Z"/><path d="M584.2,919L578.2,922.5L578.2,931.5L584.2,928Z"/><path d="M581.6,917.5L584.2,919L578.2,922.5L575.6,921Z"/><path d="M578.2,925.5L581.6,927.5L581.6,933.5L578.2,931.5Z"/><path d="M587.7,924L581.6,927.5L581.6,933.5L587.7,930Z"/><path d="M584.2,922L587.7,924L581.6,927.5L578.2,925.5Z"/><path d="M581.6,924.5L584.2,926L584.2,935L581.6,933.5Z"/><path d="M590.3,922.5L584.2,926L584.2,935L590.3,931.5Z"/><path d="M587.7,921L590.3,922.5L584.2,926L581.6,924.5Z"/></g>
<g class="f"><path d="M591,933.2L591,928.2M597,935.2L597,929.2M594,936.2L594,930.2" stroke-width="0.7" fill="none"/><ellipse cx="594" cy="927.7" rx="4.2" ry="2.5" stroke-width="0.8"/><path d="M590,927.7v-6q4,-4 8,0v6" fill="none" stroke-width=".9"/></g>
<g class="f"><path d="M532.3,927L536.6,929.5L536.6,942.5L532.3,940Z"/><path d="M558.2,917L536.6,929.5L536.6,942.5L558.2,930Z"/><path d="M553.9,914.5L558.2,917L536.6,929.5L532.3,927Z"/><path d="M536.6,936.5L542.7,940L542.7,946L536.6,942.5Z"/><path d="M564.3,927.5L542.7,940L542.7,946L564.3,933.5Z"/><path d="M558.2,924L564.3,927.5L542.7,940L536.6,936.5Z"/><path d="M547.4,930.2L553.5,933.8M553.5,933.8L553.5,939.8" fill="none"/></g>
<g class="f"><path d="M579.5,939.5L579.5,934.5M585.5,941.5L585.5,935.5M582.5,942.5L582.5,936.5" stroke-width="0.7" fill="none"/><ellipse cx="582.5" cy="934" rx="4.2" ry="2.5" stroke-width="0.8"/><path d="M578.5,934v-6q4,-4 8,0v6" fill="none" stroke-width=".9"/></g>
<g class="f"><ellipse cx="571.2" cy="949.5" rx="3" ry="1.7" stroke-width="0.7"/><path d="M571.2,949.5L571.2,940.5" stroke-width="1" fill="none"/><ellipse cx="571.2" cy="940" rx="5" ry="2.9" stroke-width="0.8"/></g>
<g class="f"><path d="M554,953.9L554,948.9M560,955.9L560,949.9M557,956.9L557,950.9" stroke-width="0.7" fill="none"/><ellipse cx="557" cy="948.4" rx="4.2" ry="2.5" stroke-width="0.8"/><path d="M553,948.4v-6q4,-4 8,0v6" fill="none" stroke-width=".9"/></g>
<g class="f"><path d="M544.7,948L544.7,955A4.9,2.8 0 0 0 554.5,955L554.5,948Z"/><ellipse cx="549.6" cy="948" rx="4.9" ry="2.8"/><ellipse cx="549.6" cy="948" rx="4.2" ry="2.4" fill="none"/></g>
<g class="f"><path d="M172,641L183,639L181,658L170,661Z" fill="#111" stroke="#000"/><path d="M176,660L160,708" stroke="#111" stroke-width="1.2" fill="none"/><path d="M180,661L165,709" stroke="#111" stroke-width="1" fill="none"/><path d="M176,660L180,661M174.2,665.3L178.3,666.3M172.4,670.7L176.7,671.7M170.7,676L175,677M168.9,681.3L173.3,682.3M167.1,686.7L171.7,687.7M165.3,692L170,693M163.6,697.3L168.3,698.3M161.8,702.7L166.7,703.7" stroke="#111" stroke-width="0.8" fill="none"/><path d="M168,662L157,707" stroke-width="0.7" fill="none"/></g>
<path d="M728,506L820.6,559.5L812.8,564L720.2,510.5Z" fill="#fff" stroke-width="2"/><path d="M739.6,512.7L731.8,517.2M751.1,519.4L743.3,523.9M762.7,526.1L754.9,530.6M774.3,532.8L766.5,537.2M785.9,539.4L778.1,543.9M797.5,546.1L789.7,550.6M809.1,552.8L801.3,557.3" stroke-width="1.6"/><path d="M728,504L736.6,509L725.4,515.5L716.7,510.5Z" fill="#000"/><path d="M816.3,555L824.1,559.5L812.8,566L805.1,561.5Z" fill="#000"/>
<path d="M1185.2,434L1046.7,514" stroke-width="1.8"/><path d="M1185.2,436L1046.7,516" stroke="#111" stroke-width="0.9"/><path d="M1185.2,437.6L1046.7,517.6" stroke="#222" stroke-width="0.8"/><path d="M1185.2,472L1046.7,552" stroke="#1a1a1a"/><path d="M1185.2,469.8L1046.7,549.8" stroke="#444" stroke-width="0.6"/><path d="M1185.2,468L1046.7,548" stroke="#666" stroke-width="0.5"/><path d="M1184.5,434L1184.5,472M1171.9,441.3L1171.9,479.3M1159.3,448.5L1159.3,486.5M1146.7,455.8L1146.7,493.8M1134.1,463.1L1134.1,501.1M1121.5,470.4L1121.5,508.4M1108.9,477.6L1108.9,515.6M1096.3,484.9L1096.3,522.9M1083.8,492.2L1083.8,530.2M1071.2,499.5L1071.2,537.5M1058.6,506.7L1058.6,544.7M1046,514L1046,552" stroke="#1a1a1a" stroke-width="0.9"/><path d="M1186.1,434L1186.1,472M1173.5,441.3L1173.5,479.3M1160.9,448.5L1160.9,486.5M1148.3,455.8L1148.3,493.8M1135.7,463.1L1135.7,501.1M1123.1,470.4L1123.1,508.4M1110.5,477.6L1110.5,515.6M1097.9,484.9L1097.9,522.9M1085.4,492.2L1085.4,530.2M1072.8,499.5L1072.8,537.5M1060.2,506.7L1060.2,544.7M1047.6,514L1047.6,552" stroke="#333" stroke-width="0.7"/>
<path d="M1093.4,619L563.4,925" stroke-width="1.8"/><path d="M1093.4,621L563.4,927" stroke="#111" stroke-width="0.9"/><path d="M1093.4,622.6L563.4,928.6" stroke="#222" stroke-width="0.8"/><path d="M1093.4,657L563.4,963" stroke="#1a1a1a"/><path d="M1093.4,654.8L563.4,960.8" stroke="#444" stroke-width="0.6"/><path d="M1093.4,653L563.4,959" stroke="#666" stroke-width="0.5"/><path d="M1092.7,619L1092.7,657M1079.8,626.5L1079.8,664.5M1066.9,633.9L1066.9,671.9M1053.9,641.4L1053.9,679.4M1041,648.9L1041,686.9M1028.1,656.3L1028.1,694.3M1015.2,663.8L1015.2,701.8M1002.2,671.2L1002.2,709.2M989.3,678.7L989.3,716.7M976.4,686.2L976.4,724.2M963.5,693.6L963.5,731.6M950.5,701.1L950.5,739.1M937.6,708.6L937.6,746.6M924.7,716L924.7,754M911.8,723.5L911.8,761.5M898.8,731L898.8,769M885.9,738.4L885.9,776.4M873,745.9L873,783.9M860,753.3L860,791.3M847.1,760.8L847.1,798.8M834.2,768.3L834.2,806.3M821.3,775.7L821.3,813.7M808.3,783.2L808.3,821.2M795.4,790.7L795.4,828.7M782.5,798.1L782.5,836.1M769.6,805.6L769.6,843.6M756.6,813L756.6,851M743.7,820.5L743.7,858.5M730.8,828L730.8,866M717.9,835.4L717.9,873.4M704.9,842.9L704.9,880.9M692,850.4L692,888.4M679.1,857.8L679.1,895.8M666.1,865.3L666.1,903.3M653.2,872.8L653.2,910.8M640.3,880.2L640.3,918.2M627.4,887.7L627.4,925.7M614.4,895.1L614.4,933.1M601.5,902.6L601.5,940.6M588.6,910.1L588.6,948.1M575.7,917.5L575.7,955.5M562.7,925L562.7,963" stroke="#1a1a1a" stroke-width="0.9"/><path d="M1094.3,619L1094.3,657M1081.4,626.5L1081.4,664.5M1068.5,633.9L1068.5,671.9M1055.5,641.4L1055.5,679.4M1042.6,648.9L1042.6,686.9M1029.7,656.3L1029.7,694.3M1016.8,663.8L1016.8,701.8M1003.8,671.2L1003.8,709.2M990.9,678.7L990.9,716.7M978,686.2L978,724.2M965.1,693.6L965.1,731.6M952.1,701.1L952.1,739.1M939.2,708.6L939.2,746.6M926.3,716L926.3,754M913.4,723.5L913.4,761.5M900.4,731L900.4,769M887.5,738.4L887.5,776.4M874.6,745.9L874.6,783.9M861.6,753.3L861.6,791.3M848.7,760.8L848.7,798.8M835.8,768.3L835.8,806.3M822.9,775.7L822.9,813.7M809.9,783.2L809.9,821.2M797,790.7L797,828.7M784.1,798.1L784.1,836.1M771.2,805.6L771.2,843.6M758.2,813L758.2,851M745.3,820.5L745.3,858.5M732.4,828L732.4,866M719.5,835.4L719.5,873.4M706.5,842.9L706.5,880.9M693.6,850.4L693.6,888.4M680.7,857.8L680.7,895.8M667.7,865.3L667.7,903.3M654.8,872.8L654.8,910.8M641.9,880.2L641.9,918.2M629,887.7L629,925.7M616,895.1L616,933.1M603.1,902.6L603.1,940.6M590.2,910.1L590.2,948.1M577.3,917.5L577.3,955.5M564.3,925L564.3,963" stroke="#333" stroke-width="0.7"/>
<path d="M243,760L456.9,883.5" stroke-width="1.8"/><path d="M243,762L456.9,885.5" stroke="#111" stroke-width="0.9"/><path d="M243,763.6L456.9,887.1" stroke="#222" stroke-width="0.8"/><path d="M243,798L456.9,921.5" stroke="#1a1a1a"/><path d="M243,795.8L456.9,919.3" stroke="#444" stroke-width="0.6"/><path d="M243,794L456.9,917.5" stroke="#666" stroke-width="0.5"/><path d="M242.3,760L242.3,798M254.9,767.3L254.9,805.3M267.5,774.5L267.5,812.5M280.1,781.8L280.1,819.8M292.6,789.1L292.6,827.1M305.2,796.3L305.2,834.3M317.8,803.6L317.8,841.6M330.4,810.9L330.4,848.9M343,818.1L343,856.1M355.6,825.4L355.6,863.4M368.1,832.6L368.1,870.6M380.7,839.9L380.7,877.9M393.3,847.2L393.3,885.2M405.9,854.4L405.9,892.4M418.5,861.7L418.5,899.7M431.1,869L431.1,907M443.6,876.2L443.6,914.2M456.2,883.5L456.2,921.5" stroke="#1a1a1a" stroke-width="0.9"/><path d="M243.9,760L243.9,798M256.5,767.3L256.5,805.3M269.1,774.5L269.1,812.5M281.7,781.8L281.7,819.8M294.2,789.1L294.2,827.1M306.8,796.3L306.8,834.3M319.4,803.6L319.4,841.6M332,810.9L332,848.9M344.6,818.1L344.6,856.1M357.2,825.4L357.2,863.4M369.7,832.6L369.7,870.6M382.3,839.9L382.3,877.9M394.9,847.2L394.9,885.2M407.5,854.4L407.5,892.4M420.1,861.7L420.1,899.7M432.7,869L432.7,907M445.2,876.2L445.2,914.2M457.8,883.5L457.8,921.5" stroke="#333" stroke-width="0.7"/>
<path d="M1046.7,514L1032.8,522L1032.8,560L1046.7,552Z" fill="#fff" stroke="none"/><path d="M1046.7,514L1046.7,552M1032.8,522L1032.8,560M1046.7,552L1032.8,560" stroke="#1a1a1a" stroke-width="0.8"/><path d="M1046.7,514L1032.8,522" stroke-width="6" stroke-linecap="square"/>
<path d="M1113.3,475.5L1104.7,480.5L1104.7,518.5L1113.3,513.5Z" fill="#fff" stroke="none"/><path d="M1113.3,475.5L1113.3,513.5M1104.7,480.5L1104.7,518.5M1113.3,513.5L1104.7,518.5" stroke="#1a1a1a" stroke-width="0.8"/><path d="M1113.3,475.5L1104.7,480.5" stroke-width="4" stroke-linecap="square"/>
<path d="M1185.2,434L1161,448L1161,486L1185.2,472Z" fill="#fff" stroke="none"/><path d="M1185.2,434L1185.2,472M1161,448L1161,486M1185.2,472L1161,486" stroke="#1a1a1a" stroke-width="0.8"/><path d="M1185.2,434L1161,448" stroke-width="7" stroke-linecap="square"/>
<path d="M1081.3,612L1093.4,619L1093.4,657L1081.3,650Z" fill="#fff" stroke="none"/><path d="M1081.3,612L1081.3,650M1093.4,619L1093.4,657M1081.3,650L1093.4,657" stroke="#1a1a1a" stroke-width="0.8"/><path d="M1081.3,612L1093.4,619" stroke-width="6" stroke-linecap="square"/>
<path d="M1093.4,619L1081.3,626L1081.3,664L1093.4,657Z" fill="#fff" stroke="none"/><path d="M1093.4,619L1093.4,657M1081.3,626L1081.3,664M1093.4,657L1081.3,664" stroke="#1a1a1a" stroke-width="0.8"/><path d="M1093.4,619L1081.3,626" stroke-width="6" stroke-linecap="square"/>
<path d="M1017.2,663L1003.4,671L1003.4,709L1017.2,701Z" fill="#fff" stroke="none"/><path d="M1017.2,663L1017.2,701M1003.4,671L1003.4,709M1017.2,701L1003.4,709" stroke="#1a1a1a" stroke-width="0.8"/><path d="M1017.2,663L1003.4,671" stroke-width="4" stroke-linecap="square"/>
<path d="M938.4,708.5L924.6,716.5L924.6,754.5L938.4,746.5Z" fill="#fff" stroke="none"/><path d="M938.4,708.5L938.4,746.5M924.6,716.5L924.6,754.5M938.4,746.5L924.6,754.5" stroke="#1a1a1a" stroke-width="0.8"/><path d="M938.4,708.5L924.6,716.5" stroke-width="4" stroke-linecap="square"/>
<path d="M862.2,752.5L848.4,760.5L848.4,798.5L862.2,790.5Z" fill="#fff" stroke="none"/><path d="M862.2,752.5L862.2,790.5M848.4,760.5L848.4,798.5M862.2,790.5L848.4,798.5" stroke="#1a1a1a" stroke-width="0.8"/><path d="M862.2,752.5L848.4,760.5" stroke-width="4" stroke-linecap="square"/>
<path d="M784.3,797.5L770.4,805.5L770.4,843.5L784.3,835.5Z" fill="#fff" stroke="none"/><path d="M784.3,797.5L784.3,835.5M770.4,805.5L770.4,843.5M784.3,835.5L770.4,843.5" stroke="#1a1a1a" stroke-width="0.8"/><path d="M784.3,797.5L770.4,805.5" stroke-width="4" stroke-linecap="square"/>
<path d="M708.1,841.5L694.2,849.5L694.2,887.5L708.1,879.5Z" fill="#fff" stroke="none"/><path d="M708.1,841.5L708.1,879.5M694.2,849.5L694.2,887.5M708.1,879.5L694.2,887.5" stroke="#1a1a1a" stroke-width="0.8"/><path d="M708.1,841.5L694.2,849.5" stroke-width="4" stroke-linecap="square"/>
<path d="M631.8,885.5L618,893.5L618,931.5L631.8,923.5Z" fill="#fff" stroke="none"/><path d="M631.8,885.5L631.8,923.5M618,893.5L618,931.5M631.8,923.5L618,931.5" stroke="#1a1a1a" stroke-width="0.8"/><path d="M631.8,885.5L618,893.5" stroke-width="4" stroke-linecap="square"/>
<path d="M563.4,925L544.4,936L544.4,974L563.4,963Z" fill="#fff" stroke="none"/><path d="M563.4,925L563.4,963M544.4,936L544.4,974M563.4,963L544.4,974" stroke="#1a1a1a" stroke-width="0.8"/><path d="M563.4,925L544.4,936" stroke-width="7" stroke-linecap="square"/>
<path d="M157.3,710.5L243,760L243,798L157.3,748.5Z" fill="#fff" stroke="none"/><path d="M157.3,710.5L157.3,748.5M243,760L243,798M157.3,748.5L243,798" stroke="#1a1a1a" stroke-width="0.8"/><path d="M157.3,710.5L243,760" stroke-width="6" stroke-linecap="square"/>
<path d="M304.5,795.5L318.4,803.5L318.4,841.5L304.5,833.5Z" fill="#fff" stroke="none"/><path d="M304.5,795.5L304.5,833.5M318.4,803.5L318.4,841.5M304.5,833.5L318.4,841.5" stroke="#1a1a1a" stroke-width="0.8"/><path d="M304.5,795.5L318.4,803.5" stroke-width="3" stroke-linecap="square"/>
<path d="M380.7,839.5L394.6,847.5L394.6,885.5L380.7,877.5Z" fill="#fff" stroke="none"/><path d="M380.7,839.5L380.7,877.5M394.6,847.5L394.6,885.5M380.7,877.5L394.6,885.5" stroke="#1a1a1a" stroke-width="0.8"/><path d="M380.7,839.5L394.6,847.5" stroke-width="3" stroke-linecap="square"/>
<path d="M456.9,883.5L546.1,935L546.1,973L456.9,921.5Z" fill="#fff" stroke="none"/><path d="M456.9,883.5L456.9,921.5M546.1,935L546.1,973M456.9,921.5L546.1,973" stroke="#1a1a1a" stroke-width="0.8"/><path d="M456.9,883.5L546.1,935" stroke-width="7" stroke-linecap="square"/>
</g>
<path d="M920.5,118 H939.5 Q945,118 945,123.5 V398 H942.2 V164 C942.2,154 938,147.5 930,147.5 H920.5 Q915,147.5 915,142 V123.5 Q915,118 920.5,118 Z" fill="#0a0a0a"/><linearGradient id="pg915" gradientUnits="userSpaceOnUse" x1="0" y1="397.5" x2="0" y2="414"><stop offset="0" stop-color="#0a0a0a"/><stop offset="1" stop-color="#0a0a0a" stop-opacity="0"/></linearGradient><rect x="942.2" y="397.5" width="2.8" height="16.5" fill="url(#pg915)"/><text x="930" y="139.8" font-family="Liberation Sans, sans-serif" font-weight="bold" font-size="19" fill="#fff" text-anchor="middle">3</text><path d="M871.5,149.5 H890.5 Q896,149.5 896,155 V347 H893.2 V195.5 C893.2,185.5 889,179 881,179 H871.5 Q866,179 866,173.5 V155 Q866,149.5 871.5,149.5 Z" fill="#0a0a0a"/><linearGradient id="pg866" gradientUnits="userSpaceOnUse" x1="0" y1="346.5" x2="0" y2="363"><stop offset="0" stop-color="#0a0a0a"/><stop offset="1" stop-color="#0a0a0a" stop-opacity="0"/></linearGradient><rect x="893.2" y="346.5" width="2.8" height="16.5" fill="url(#pg866)"/><text x="881" y="171.3" font-family="Liberation Sans, sans-serif" font-weight="bold" font-size="19" fill="#fff" text-anchor="middle">5</text><path d="M824.5,176 H843.5 Q849,176 849,181.5 V682 H846.2 V222 C846.2,212 842,205.5 834,205.5 H824.5 Q819,205.5 819,200 V181.5 Q819,176 824.5,176 Z" fill="#0a0a0a"/><linearGradient id="pg819" gradientUnits="userSpaceOnUse" x1="0" y1="681.5" x2="0" y2="698"><stop offset="0" stop-color="#0a0a0a"/><stop offset="1" stop-color="#0a0a0a" stop-opacity="0"/></linearGradient><rect x="846.2" y="681.5" width="2.8" height="16.5" fill="url(#pg819)"/><text x="834" y="197.8" font-family="Liberation Sans, sans-serif" font-weight="bold" font-size="19" fill="#fff" text-anchor="middle">5</text><path d="M723.5,235 H742.5 Q748,235 748,240.5 V745 H745.2 V281 C745.2,271 741,264.5 733,264.5 H723.5 Q718,264.5 718,259 V240.5 Q718,235 723.5,235 Z" fill="#0a0a0a"/><linearGradient id="pg718" gradientUnits="userSpaceOnUse" x1="0" y1="744.5" x2="0" y2="761"><stop offset="0" stop-color="#0a0a0a"/><stop offset="1" stop-color="#0a0a0a" stop-opacity="0"/></linearGradient><rect x="745.2" y="744.5" width="2.8" height="16.5" fill="url(#pg718)"/><text x="733" y="256.8" font-family="Liberation Sans, sans-serif" font-weight="bold" font-size="19" fill="#fff" text-anchor="middle">3</text><path d="M633.5,287 H652.5 Q658,287 658,292.5 V570 H655.2 V333 C655.2,323 651,316.5 643,316.5 H633.5 Q628,316.5 628,311 V292.5 Q628,287 633.5,287 Z" fill="#0a0a0a"/><linearGradient id="pg628" gradientUnits="userSpaceOnUse" x1="0" y1="569.5" x2="0" y2="586"><stop offset="0" stop-color="#0a0a0a"/><stop offset="1" stop-color="#0a0a0a" stop-opacity="0"/></linearGradient><rect x="655.2" y="569.5" width="2.8" height="16.5" fill="url(#pg628)"/><text x="643" y="308.8" font-family="Liberation Sans, sans-serif" font-weight="bold" font-size="19" fill="#fff" text-anchor="middle">4</text><path d="M591.5,313 H610.5 Q616,313 616,318.5 V830 H613.2 V359 C613.2,349 609,342.5 601,342.5 H591.5 Q586,342.5 586,337 V318.5 Q586,313 591.5,313 Z" fill="#0a0a0a"/><linearGradient id="pg586" gradientUnits="userSpaceOnUse" x1="0" y1="829.5" x2="0" y2="846"><stop offset="0" stop-color="#0a0a0a"/><stop offset="1" stop-color="#0a0a0a" stop-opacity="0"/></linearGradient><rect x="613.2" y="829.5" width="2.8" height="16.5" fill="url(#pg586)"/><text x="601" y="334.8" font-family="Liberation Sans, sans-serif" font-weight="bold" font-size="19" fill="#fff" text-anchor="middle">5</text><path d="M490.5,370 H509.5 Q515,370 515,375.5 V657 H512.2 V416 C512.2,406 508,399.5 500,399.5 H490.5 Q485,399.5 485,394 V375.5 Q485,370 490.5,370 Z" fill="#0a0a0a"/><linearGradient id="pg485" gradientUnits="userSpaceOnUse" x1="0" y1="656.5" x2="0" y2="673"><stop offset="0" stop-color="#0a0a0a"/><stop offset="1" stop-color="#0a0a0a" stop-opacity="0"/></linearGradient><rect x="512.2" y="656.5" width="2.8" height="16.5" fill="url(#pg485)"/><text x="500" y="391.8" font-family="Liberation Sans, sans-serif" font-weight="bold" font-size="19" fill="#fff" text-anchor="middle">1</text><path d="M447.5,396 H466.5 Q472,396 472,401.5 V512 H469.2 V442 C469.2,432 465,425.5 457,425.5 H447.5 Q442,425.5 442,420 V401.5 Q442,396 447.5,396 Z" fill="#0a0a0a"/><linearGradient id="pg442" gradientUnits="userSpaceOnUse" x1="0" y1="511.5" x2="0" y2="528"><stop offset="0" stop-color="#0a0a0a"/><stop offset="1" stop-color="#0a0a0a" stop-opacity="0"/></linearGradient><rect x="469.2" y="511.5" width="2.8" height="16.5" fill="url(#pg442)"/><text x="457" y="417.8" font-family="Liberation Sans, sans-serif" font-weight="bold" font-size="19" fill="#fff" text-anchor="middle">6</text><path d="M333.5,462 H352.5 Q358,462 358,467.5 V740 H355.2 V508 C355.2,498 351,491.5 343,491.5 H333.5 Q328,491.5 328,486 V467.5 Q328,462 333.5,462 Z" fill="#0a0a0a"/><linearGradient id="pg328" gradientUnits="userSpaceOnUse" x1="0" y1="739.5" x2="0" y2="756"><stop offset="0" stop-color="#0a0a0a"/><stop offset="1" stop-color="#0a0a0a" stop-opacity="0"/></linearGradient><rect x="355.2" y="739.5" width="2.8" height="16.5" fill="url(#pg328)"/><text x="343" y="483.8" font-family="Liberation Sans, sans-serif" font-weight="bold" font-size="19" fill="#fff" text-anchor="middle">2</text><path d="M197.5,539 H216.5 Q222,539 222,544.5 V713 H219.2 V585 C219.2,575 215,568.5 207,568.5 H197.5 Q192,568.5 192,563 V544.5 Q192,539 197.5,539 Z" fill="#0a0a0a"/><linearGradient id="pg192" gradientUnits="userSpaceOnUse" x1="0" y1="712.5" x2="0" y2="729"><stop offset="0" stop-color="#0a0a0a"/><stop offset="1" stop-color="#0a0a0a" stop-opacity="0"/></linearGradient><rect x="219.2" y="712.5" width="2.8" height="16.5" fill="url(#pg192)"/><text x="207" y="560.8" font-family="Liberation Sans, sans-serif" font-weight="bold" font-size="19" fill="#fff" text-anchor="middle">1</text>
<g>
<polygon points="1060.2,965.2 1103.9,965.2 1060.2,1009.3" fill="#fda872"/>
<polygon points="1089.3,965.2 1097.0,965.2 1069.7,993.1 1065.9,989.3" fill="#fff"/>
<polygon points="1107.4,969.9 1107.4,1013.4 1064.3,1013.4" fill="#5d7491"/>
<polygon points="1097.9,985.8 1101.4,989.3 1077.9,1013.4 1070.6,1013.4" fill="#fff"/>
<text x="1118" y="1003" font-family="Liberation Sans, Noto Sans CJK SC, sans-serif" font-weight="900" font-size="33.5" fill="#555" stroke="#fff" stroke-width="3" paint-order="stroke" textLength="135" lengthAdjust="spacingAndGlyphs">乾苞装饰</text>
</g>

</svg>
<h1 class="ttl">10 floor</h1>
<ul class="lst"><li>1. meeting rooms</li><li>2. coffee point</li><li>3. lounge</li><li>4. laboratories</li><li>5. open space</li><li>6. gym</li></ul>
</body></html>
